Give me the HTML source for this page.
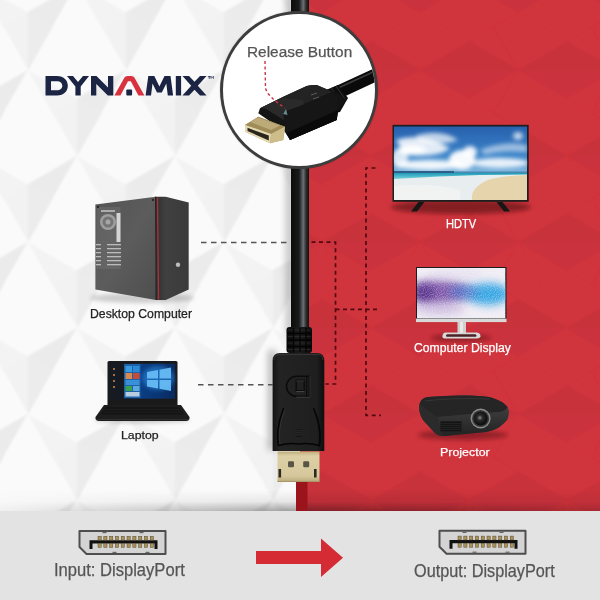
<!DOCTYPE html>
<html><head><meta charset="utf-8">
<style>
*{margin:0;padding:0;box-sizing:border-box}
html,body{width:600px;height:600px;overflow:hidden;background:#f7f7f8;font-family:"Liberation Sans",sans-serif}
.a{position:absolute}
.lbl{position:absolute;white-space:nowrap;line-height:1;transform-origin:0 0;-webkit-text-stroke:0.25px currentColor}
svg{position:absolute;left:0;top:0}
</style></head><body>
<!-- backgrounds -->
<svg width="600" height="600" viewBox="0 0 600 600">
  <defs>
    <linearGradient id="shW" x1="0" y1="0" x2="0" y2="1">
      <stop offset="0" stop-color="#000" stop-opacity="0"/>
      <stop offset="1" stop-color="#000" stop-opacity="0.16"/>
    </linearGradient>
    <linearGradient id="cab" x1="0" y1="0" x2="1" y2="0">
      <stop offset="0" stop-color="#0c0c0c"/>
      <stop offset="0.45" stop-color="#1a1a1a"/>
      <stop offset="0.68" stop-color="#6b6f73"/>
      <stop offset="0.85" stop-color="#2a2a2a"/>
      <stop offset="1" stop-color="#111"/>
    </linearGradient>
  </defs>
  <rect x="0" y="0" width="300" height="511" fill="#f7f7f8"/>
  <defs><clipPath id="clipW"><rect x="0" y="0" width="300" height="511"/></clipPath><filter id="pblur" x="0" y="0" width="100%" height="100%"><feGaussianBlur stdDeviation="1.2"/></filter><clipPath id="clipR"><rect x="300" y="0" width="300" height="511"/></clipPath></defs>
  <g id="patW" clip-path="url(#clipW)"><g filter="url(#pblur)"><path d="M-21 -16L28.0 -16.0L28.0 -44.3Z" fill="rgb(250,250,251)" stroke="rgb(250,250,251)" stroke-width="0.5"/><path d="M-21 -16L28.0 -44.3L3.5 -59.0Z" fill="rgb(250,250,251)" stroke="rgb(250,250,251)" stroke-width="0.5"/><path d="M-21 -16L3.5 -59.0L-21.0 -73.7Z" fill="rgb(236,236,237)" stroke="rgb(236,236,237)" stroke-width="0.5"/><path d="M-21 -16L-21.0 -73.7L-45.5 -59.0Z" fill="rgb(242,242,243)" stroke="rgb(242,242,243)" stroke-width="0.5"/><path d="M-21 -16L-45.5 -59.0L-70.0 -44.3Z" fill="rgb(250,250,251)" stroke="rgb(250,250,251)" stroke-width="0.5"/><path d="M-21 -16L-70.0 -44.3L-70.0 -16.0Z" fill="rgb(250,250,251)" stroke="rgb(250,250,251)" stroke-width="0.5"/><path d="M-21 -16L-70.0 -16.0L-70.0 12.3Z" fill="rgb(250,250,251)" stroke="rgb(250,250,251)" stroke-width="0.5"/><path d="M-21 -16L-70.0 12.3L-45.5 27.0Z" fill="rgb(235,235,236)" stroke="rgb(235,235,236)" stroke-width="0.5"/><path d="M-21 -16L-45.5 27.0L-21.0 41.7Z" fill="rgb(250,250,251)" stroke="rgb(250,250,251)" stroke-width="0.5"/><path d="M-21 -16L-21.0 41.7L3.5 27.0Z" fill="rgb(250,250,251)" stroke="rgb(250,250,251)" stroke-width="0.5"/><path d="M-21 -16L3.5 27.0L28.0 12.3Z" fill="rgb(243,243,244)" stroke="rgb(243,243,244)" stroke-width="0.5"/><path d="M-21 -16L28.0 12.3L28.0 -16.0Z" fill="rgb(250,250,251)" stroke="rgb(250,250,251)" stroke-width="0.5"/><path d="M77 -16L126.0 -16.0L126.0 -44.3Z" fill="rgb(250,250,251)" stroke="rgb(250,250,251)" stroke-width="0.5"/><path d="M77 -16L126.0 -44.3L101.5 -59.0Z" fill="rgb(250,250,251)" stroke="rgb(250,250,251)" stroke-width="0.5"/><path d="M77 -16L101.5 -59.0L77.0 -73.7Z" fill="rgb(236,236,237)" stroke="rgb(236,236,237)" stroke-width="0.5"/><path d="M77 -16L77.0 -73.7L52.5 -59.0Z" fill="rgb(242,242,243)" stroke="rgb(242,242,243)" stroke-width="0.5"/><path d="M77 -16L52.5 -59.0L28.0 -44.3Z" fill="rgb(250,250,251)" stroke="rgb(250,250,251)" stroke-width="0.5"/><path d="M77 -16L28.0 -44.3L28.0 -16.0Z" fill="rgb(250,250,251)" stroke="rgb(250,250,251)" stroke-width="0.5"/><path d="M77 -16L28.0 -16.0L28.0 12.3Z" fill="rgb(250,250,251)" stroke="rgb(250,250,251)" stroke-width="0.5"/><path d="M77 -16L28.0 12.3L52.5 27.0Z" fill="rgb(235,235,236)" stroke="rgb(235,235,236)" stroke-width="0.5"/><path d="M77 -16L52.5 27.0L77.0 41.7Z" fill="rgb(250,250,251)" stroke="rgb(250,250,251)" stroke-width="0.5"/><path d="M77 -16L77.0 41.7L101.5 27.0Z" fill="rgb(250,250,251)" stroke="rgb(250,250,251)" stroke-width="0.5"/><path d="M77 -16L101.5 27.0L126.0 12.3Z" fill="rgb(243,243,244)" stroke="rgb(243,243,244)" stroke-width="0.5"/><path d="M77 -16L126.0 12.3L126.0 -16.0Z" fill="rgb(250,250,251)" stroke="rgb(250,250,251)" stroke-width="0.5"/><path d="M175 -16L224.0 -16.0L224.0 -44.3Z" fill="rgb(250,250,251)" stroke="rgb(250,250,251)" stroke-width="0.5"/><path d="M175 -16L224.0 -44.3L199.5 -59.0Z" fill="rgb(250,250,251)" stroke="rgb(250,250,251)" stroke-width="0.5"/><path d="M175 -16L199.5 -59.0L175.0 -73.7Z" fill="rgb(236,236,237)" stroke="rgb(236,236,237)" stroke-width="0.5"/><path d="M175 -16L175.0 -73.7L150.5 -59.0Z" fill="rgb(242,242,243)" stroke="rgb(242,242,243)" stroke-width="0.5"/><path d="M175 -16L150.5 -59.0L126.0 -44.3Z" fill="rgb(250,250,251)" stroke="rgb(250,250,251)" stroke-width="0.5"/><path d="M175 -16L126.0 -44.3L126.0 -16.0Z" fill="rgb(250,250,251)" stroke="rgb(250,250,251)" stroke-width="0.5"/><path d="M175 -16L126.0 -16.0L126.0 12.3Z" fill="rgb(250,250,251)" stroke="rgb(250,250,251)" stroke-width="0.5"/><path d="M175 -16L126.0 12.3L150.5 27.0Z" fill="rgb(235,235,236)" stroke="rgb(235,235,236)" stroke-width="0.5"/><path d="M175 -16L150.5 27.0L175.0 41.7Z" fill="rgb(250,250,251)" stroke="rgb(250,250,251)" stroke-width="0.5"/><path d="M175 -16L175.0 41.7L199.5 27.0Z" fill="rgb(250,250,251)" stroke="rgb(250,250,251)" stroke-width="0.5"/><path d="M175 -16L199.5 27.0L224.0 12.3Z" fill="rgb(243,243,244)" stroke="rgb(243,243,244)" stroke-width="0.5"/><path d="M175 -16L224.0 12.3L224.0 -16.0Z" fill="rgb(250,250,251)" stroke="rgb(250,250,251)" stroke-width="0.5"/><path d="M273 -16L322.0 -16.0L322.0 -44.3Z" fill="rgb(250,250,251)" stroke="rgb(250,250,251)" stroke-width="0.5"/><path d="M273 -16L322.0 -44.3L297.5 -59.0Z" fill="rgb(250,250,251)" stroke="rgb(250,250,251)" stroke-width="0.5"/><path d="M273 -16L297.5 -59.0L273.0 -73.7Z" fill="rgb(236,236,237)" stroke="rgb(236,236,237)" stroke-width="0.5"/><path d="M273 -16L273.0 -73.7L248.5 -59.0Z" fill="rgb(242,242,243)" stroke="rgb(242,242,243)" stroke-width="0.5"/><path d="M273 -16L248.5 -59.0L224.0 -44.3Z" fill="rgb(250,250,251)" stroke="rgb(250,250,251)" stroke-width="0.5"/><path d="M273 -16L224.0 -44.3L224.0 -16.0Z" fill="rgb(250,250,251)" stroke="rgb(250,250,251)" stroke-width="0.5"/><path d="M273 -16L224.0 -16.0L224.0 12.3Z" fill="rgb(250,250,251)" stroke="rgb(250,250,251)" stroke-width="0.5"/><path d="M273 -16L224.0 12.3L248.5 27.0Z" fill="rgb(235,235,236)" stroke="rgb(235,235,236)" stroke-width="0.5"/><path d="M273 -16L248.5 27.0L273.0 41.7Z" fill="rgb(250,250,251)" stroke="rgb(250,250,251)" stroke-width="0.5"/><path d="M273 -16L273.0 41.7L297.5 27.0Z" fill="rgb(250,250,251)" stroke="rgb(250,250,251)" stroke-width="0.5"/><path d="M273 -16L297.5 27.0L322.0 12.3Z" fill="rgb(243,243,244)" stroke="rgb(243,243,244)" stroke-width="0.5"/><path d="M273 -16L322.0 12.3L322.0 -16.0Z" fill="rgb(250,250,251)" stroke="rgb(250,250,251)" stroke-width="0.5"/><path d="M371 -16L420.0 -16.0L420.0 -44.3Z" fill="rgb(250,250,251)" stroke="rgb(250,250,251)" stroke-width="0.5"/><path d="M371 -16L420.0 -44.3L395.5 -59.0Z" fill="rgb(250,250,251)" stroke="rgb(250,250,251)" stroke-width="0.5"/><path d="M371 -16L395.5 -59.0L371.0 -73.7Z" fill="rgb(236,236,237)" stroke="rgb(236,236,237)" stroke-width="0.5"/><path d="M371 -16L371.0 -73.7L346.5 -59.0Z" fill="rgb(242,242,243)" stroke="rgb(242,242,243)" stroke-width="0.5"/><path d="M371 -16L346.5 -59.0L322.0 -44.3Z" fill="rgb(250,250,251)" stroke="rgb(250,250,251)" stroke-width="0.5"/><path d="M371 -16L322.0 -44.3L322.0 -16.0Z" fill="rgb(250,250,251)" stroke="rgb(250,250,251)" stroke-width="0.5"/><path d="M371 -16L322.0 -16.0L322.0 12.3Z" fill="rgb(250,250,251)" stroke="rgb(250,250,251)" stroke-width="0.5"/><path d="M371 -16L322.0 12.3L346.5 27.0Z" fill="rgb(235,235,236)" stroke="rgb(235,235,236)" stroke-width="0.5"/><path d="M371 -16L346.5 27.0L371.0 41.7Z" fill="rgb(250,250,251)" stroke="rgb(250,250,251)" stroke-width="0.5"/><path d="M371 -16L371.0 41.7L395.5 27.0Z" fill="rgb(250,250,251)" stroke="rgb(250,250,251)" stroke-width="0.5"/><path d="M371 -16L395.5 27.0L420.0 12.3Z" fill="rgb(243,243,244)" stroke="rgb(243,243,244)" stroke-width="0.5"/><path d="M371 -16L420.0 12.3L420.0 -16.0Z" fill="rgb(250,250,251)" stroke="rgb(250,250,251)" stroke-width="0.5"/><path d="M469 -16L518.0 -16.0L518.0 -44.3Z" fill="rgb(250,250,251)" stroke="rgb(250,250,251)" stroke-width="0.5"/><path d="M469 -16L518.0 -44.3L493.5 -59.0Z" fill="rgb(250,250,251)" stroke="rgb(250,250,251)" stroke-width="0.5"/><path d="M469 -16L493.5 -59.0L469.0 -73.7Z" fill="rgb(236,236,237)" stroke="rgb(236,236,237)" stroke-width="0.5"/><path d="M469 -16L469.0 -73.7L444.5 -59.0Z" fill="rgb(242,242,243)" stroke="rgb(242,242,243)" stroke-width="0.5"/><path d="M469 -16L444.5 -59.0L420.0 -44.3Z" fill="rgb(250,250,251)" stroke="rgb(250,250,251)" stroke-width="0.5"/><path d="M469 -16L420.0 -44.3L420.0 -16.0Z" fill="rgb(250,250,251)" stroke="rgb(250,250,251)" stroke-width="0.5"/><path d="M469 -16L420.0 -16.0L420.0 12.3Z" fill="rgb(250,250,251)" stroke="rgb(250,250,251)" stroke-width="0.5"/><path d="M469 -16L420.0 12.3L444.5 27.0Z" fill="rgb(235,235,236)" stroke="rgb(235,235,236)" stroke-width="0.5"/><path d="M469 -16L444.5 27.0L469.0 41.7Z" fill="rgb(250,250,251)" stroke="rgb(250,250,251)" stroke-width="0.5"/><path d="M469 -16L469.0 41.7L493.5 27.0Z" fill="rgb(250,250,251)" stroke="rgb(250,250,251)" stroke-width="0.5"/><path d="M469 -16L493.5 27.0L518.0 12.3Z" fill="rgb(243,243,244)" stroke="rgb(243,243,244)" stroke-width="0.5"/><path d="M469 -16L518.0 12.3L518.0 -16.0Z" fill="rgb(250,250,251)" stroke="rgb(250,250,251)" stroke-width="0.5"/><path d="M567 -16L616.0 -16.0L616.0 -44.3Z" fill="rgb(250,250,251)" stroke="rgb(250,250,251)" stroke-width="0.5"/><path d="M567 -16L616.0 -44.3L591.5 -59.0Z" fill="rgb(250,250,251)" stroke="rgb(250,250,251)" stroke-width="0.5"/><path d="M567 -16L591.5 -59.0L567.0 -73.7Z" fill="rgb(236,236,237)" stroke="rgb(236,236,237)" stroke-width="0.5"/><path d="M567 -16L567.0 -73.7L542.5 -59.0Z" fill="rgb(242,242,243)" stroke="rgb(242,242,243)" stroke-width="0.5"/><path d="M567 -16L542.5 -59.0L518.0 -44.3Z" fill="rgb(250,250,251)" stroke="rgb(250,250,251)" stroke-width="0.5"/><path d="M567 -16L518.0 -44.3L518.0 -16.0Z" fill="rgb(250,250,251)" stroke="rgb(250,250,251)" stroke-width="0.5"/><path d="M567 -16L518.0 -16.0L518.0 12.3Z" fill="rgb(250,250,251)" stroke="rgb(250,250,251)" stroke-width="0.5"/><path d="M567 -16L518.0 12.3L542.5 27.0Z" fill="rgb(235,235,236)" stroke="rgb(235,235,236)" stroke-width="0.5"/><path d="M567 -16L542.5 27.0L567.0 41.7Z" fill="rgb(250,250,251)" stroke="rgb(250,250,251)" stroke-width="0.5"/><path d="M567 -16L567.0 41.7L591.5 27.0Z" fill="rgb(250,250,251)" stroke="rgb(250,250,251)" stroke-width="0.5"/><path d="M567 -16L591.5 27.0L616.0 12.3Z" fill="rgb(243,243,244)" stroke="rgb(243,243,244)" stroke-width="0.5"/><path d="M567 -16L616.0 12.3L616.0 -16.0Z" fill="rgb(250,250,251)" stroke="rgb(250,250,251)" stroke-width="0.5"/><path d="M665 -16L714.0 -16.0L714.0 -44.3Z" fill="rgb(250,250,251)" stroke="rgb(250,250,251)" stroke-width="0.5"/><path d="M665 -16L714.0 -44.3L689.5 -59.0Z" fill="rgb(250,250,251)" stroke="rgb(250,250,251)" stroke-width="0.5"/><path d="M665 -16L689.5 -59.0L665.0 -73.7Z" fill="rgb(236,236,237)" stroke="rgb(236,236,237)" stroke-width="0.5"/><path d="M665 -16L665.0 -73.7L640.5 -59.0Z" fill="rgb(242,242,243)" stroke="rgb(242,242,243)" stroke-width="0.5"/><path d="M665 -16L640.5 -59.0L616.0 -44.3Z" fill="rgb(250,250,251)" stroke="rgb(250,250,251)" stroke-width="0.5"/><path d="M665 -16L616.0 -44.3L616.0 -16.0Z" fill="rgb(250,250,251)" stroke="rgb(250,250,251)" stroke-width="0.5"/><path d="M665 -16L616.0 -16.0L616.0 12.3Z" fill="rgb(250,250,251)" stroke="rgb(250,250,251)" stroke-width="0.5"/><path d="M665 -16L616.0 12.3L640.5 27.0Z" fill="rgb(235,235,236)" stroke="rgb(235,235,236)" stroke-width="0.5"/><path d="M665 -16L640.5 27.0L665.0 41.7Z" fill="rgb(250,250,251)" stroke="rgb(250,250,251)" stroke-width="0.5"/><path d="M665 -16L665.0 41.7L689.5 27.0Z" fill="rgb(250,250,251)" stroke="rgb(250,250,251)" stroke-width="0.5"/><path d="M665 -16L689.5 27.0L714.0 12.3Z" fill="rgb(243,243,244)" stroke="rgb(243,243,244)" stroke-width="0.5"/><path d="M665 -16L714.0 12.3L714.0 -16.0Z" fill="rgb(250,250,251)" stroke="rgb(250,250,251)" stroke-width="0.5"/><path d="M763 -16L812.0 -16.0L812.0 -44.3Z" fill="rgb(250,250,251)" stroke="rgb(250,250,251)" stroke-width="0.5"/><path d="M763 -16L812.0 -44.3L787.5 -59.0Z" fill="rgb(250,250,251)" stroke="rgb(250,250,251)" stroke-width="0.5"/><path d="M763 -16L787.5 -59.0L763.0 -73.7Z" fill="rgb(236,236,237)" stroke="rgb(236,236,237)" stroke-width="0.5"/><path d="M763 -16L763.0 -73.7L738.5 -59.0Z" fill="rgb(242,242,243)" stroke="rgb(242,242,243)" stroke-width="0.5"/><path d="M763 -16L738.5 -59.0L714.0 -44.3Z" fill="rgb(250,250,251)" stroke="rgb(250,250,251)" stroke-width="0.5"/><path d="M763 -16L714.0 -44.3L714.0 -16.0Z" fill="rgb(250,250,251)" stroke="rgb(250,250,251)" stroke-width="0.5"/><path d="M763 -16L714.0 -16.0L714.0 12.3Z" fill="rgb(250,250,251)" stroke="rgb(250,250,251)" stroke-width="0.5"/><path d="M763 -16L714.0 12.3L738.5 27.0Z" fill="rgb(235,235,236)" stroke="rgb(235,235,236)" stroke-width="0.5"/><path d="M763 -16L738.5 27.0L763.0 41.7Z" fill="rgb(250,250,251)" stroke="rgb(250,250,251)" stroke-width="0.5"/><path d="M763 -16L763.0 41.7L787.5 27.0Z" fill="rgb(250,250,251)" stroke="rgb(250,250,251)" stroke-width="0.5"/><path d="M763 -16L787.5 27.0L812.0 12.3Z" fill="rgb(243,243,244)" stroke="rgb(243,243,244)" stroke-width="0.5"/><path d="M763 -16L812.0 12.3L812.0 -16.0Z" fill="rgb(250,250,251)" stroke="rgb(250,250,251)" stroke-width="0.5"/><path d="M-70 70L-21.0 70.0L-21.0 41.7Z" fill="rgb(250,250,251)" stroke="rgb(250,250,251)" stroke-width="0.5"/><path d="M-70 70L-21.0 41.7L-45.5 27.0Z" fill="rgb(250,250,251)" stroke="rgb(250,250,251)" stroke-width="0.5"/><path d="M-70 70L-45.5 27.0L-70.0 12.3Z" fill="rgb(236,236,237)" stroke="rgb(236,236,237)" stroke-width="0.5"/><path d="M-70 70L-70.0 12.3L-94.5 27.0Z" fill="rgb(242,242,243)" stroke="rgb(242,242,243)" stroke-width="0.5"/><path d="M-70 70L-94.5 27.0L-119.0 41.7Z" fill="rgb(250,250,251)" stroke="rgb(250,250,251)" stroke-width="0.5"/><path d="M-70 70L-119.0 41.7L-119.0 70.0Z" fill="rgb(250,250,251)" stroke="rgb(250,250,251)" stroke-width="0.5"/><path d="M-70 70L-119.0 70.0L-119.0 98.3Z" fill="rgb(250,250,251)" stroke="rgb(250,250,251)" stroke-width="0.5"/><path d="M-70 70L-119.0 98.3L-94.5 113.0Z" fill="rgb(235,235,236)" stroke="rgb(235,235,236)" stroke-width="0.5"/><path d="M-70 70L-94.5 113.0L-70.0 127.7Z" fill="rgb(250,250,251)" stroke="rgb(250,250,251)" stroke-width="0.5"/><path d="M-70 70L-70.0 127.7L-45.5 113.0Z" fill="rgb(250,250,251)" stroke="rgb(250,250,251)" stroke-width="0.5"/><path d="M-70 70L-45.5 113.0L-21.0 98.3Z" fill="rgb(243,243,244)" stroke="rgb(243,243,244)" stroke-width="0.5"/><path d="M-70 70L-21.0 98.3L-21.0 70.0Z" fill="rgb(250,250,251)" stroke="rgb(250,250,251)" stroke-width="0.5"/><path d="M28 70L77.0 70.0L77.0 41.7Z" fill="rgb(250,250,251)" stroke="rgb(250,250,251)" stroke-width="0.5"/><path d="M28 70L77.0 41.7L52.5 27.0Z" fill="rgb(250,250,251)" stroke="rgb(250,250,251)" stroke-width="0.5"/><path d="M28 70L52.5 27.0L28.0 12.3Z" fill="rgb(236,236,237)" stroke="rgb(236,236,237)" stroke-width="0.5"/><path d="M28 70L28.0 12.3L3.5 27.0Z" fill="rgb(242,242,243)" stroke="rgb(242,242,243)" stroke-width="0.5"/><path d="M28 70L3.5 27.0L-21.0 41.7Z" fill="rgb(250,250,251)" stroke="rgb(250,250,251)" stroke-width="0.5"/><path d="M28 70L-21.0 41.7L-21.0 70.0Z" fill="rgb(250,250,251)" stroke="rgb(250,250,251)" stroke-width="0.5"/><path d="M28 70L-21.0 70.0L-21.0 98.3Z" fill="rgb(250,250,251)" stroke="rgb(250,250,251)" stroke-width="0.5"/><path d="M28 70L-21.0 98.3L3.5 113.0Z" fill="rgb(235,235,236)" stroke="rgb(235,235,236)" stroke-width="0.5"/><path d="M28 70L3.5 113.0L28.0 127.7Z" fill="rgb(250,250,251)" stroke="rgb(250,250,251)" stroke-width="0.5"/><path d="M28 70L28.0 127.7L52.5 113.0Z" fill="rgb(250,250,251)" stroke="rgb(250,250,251)" stroke-width="0.5"/><path d="M28 70L52.5 113.0L77.0 98.3Z" fill="rgb(243,243,244)" stroke="rgb(243,243,244)" stroke-width="0.5"/><path d="M28 70L77.0 98.3L77.0 70.0Z" fill="rgb(250,250,251)" stroke="rgb(250,250,251)" stroke-width="0.5"/><path d="M126 70L175.0 70.0L175.0 41.7Z" fill="rgb(250,250,251)" stroke="rgb(250,250,251)" stroke-width="0.5"/><path d="M126 70L175.0 41.7L150.5 27.0Z" fill="rgb(250,250,251)" stroke="rgb(250,250,251)" stroke-width="0.5"/><path d="M126 70L150.5 27.0L126.0 12.3Z" fill="rgb(236,236,237)" stroke="rgb(236,236,237)" stroke-width="0.5"/><path d="M126 70L126.0 12.3L101.5 27.0Z" fill="rgb(242,242,243)" stroke="rgb(242,242,243)" stroke-width="0.5"/><path d="M126 70L101.5 27.0L77.0 41.7Z" fill="rgb(250,250,251)" stroke="rgb(250,250,251)" stroke-width="0.5"/><path d="M126 70L77.0 41.7L77.0 70.0Z" fill="rgb(250,250,251)" stroke="rgb(250,250,251)" stroke-width="0.5"/><path d="M126 70L77.0 70.0L77.0 98.3Z" fill="rgb(250,250,251)" stroke="rgb(250,250,251)" stroke-width="0.5"/><path d="M126 70L77.0 98.3L101.5 113.0Z" fill="rgb(235,235,236)" stroke="rgb(235,235,236)" stroke-width="0.5"/><path d="M126 70L101.5 113.0L126.0 127.7Z" fill="rgb(250,250,251)" stroke="rgb(250,250,251)" stroke-width="0.5"/><path d="M126 70L126.0 127.7L150.5 113.0Z" fill="rgb(250,250,251)" stroke="rgb(250,250,251)" stroke-width="0.5"/><path d="M126 70L150.5 113.0L175.0 98.3Z" fill="rgb(243,243,244)" stroke="rgb(243,243,244)" stroke-width="0.5"/><path d="M126 70L175.0 98.3L175.0 70.0Z" fill="rgb(250,250,251)" stroke="rgb(250,250,251)" stroke-width="0.5"/><path d="M224 70L273.0 70.0L273.0 41.7Z" fill="rgb(250,250,251)" stroke="rgb(250,250,251)" stroke-width="0.5"/><path d="M224 70L273.0 41.7L248.5 27.0Z" fill="rgb(250,250,251)" stroke="rgb(250,250,251)" stroke-width="0.5"/><path d="M224 70L248.5 27.0L224.0 12.3Z" fill="rgb(236,236,237)" stroke="rgb(236,236,237)" stroke-width="0.5"/><path d="M224 70L224.0 12.3L199.5 27.0Z" fill="rgb(242,242,243)" stroke="rgb(242,242,243)" stroke-width="0.5"/><path d="M224 70L199.5 27.0L175.0 41.7Z" fill="rgb(250,250,251)" stroke="rgb(250,250,251)" stroke-width="0.5"/><path d="M224 70L175.0 41.7L175.0 70.0Z" fill="rgb(250,250,251)" stroke="rgb(250,250,251)" stroke-width="0.5"/><path d="M224 70L175.0 70.0L175.0 98.3Z" fill="rgb(250,250,251)" stroke="rgb(250,250,251)" stroke-width="0.5"/><path d="M224 70L175.0 98.3L199.5 113.0Z" fill="rgb(235,235,236)" stroke="rgb(235,235,236)" stroke-width="0.5"/><path d="M224 70L199.5 113.0L224.0 127.7Z" fill="rgb(250,250,251)" stroke="rgb(250,250,251)" stroke-width="0.5"/><path d="M224 70L224.0 127.7L248.5 113.0Z" fill="rgb(250,250,251)" stroke="rgb(250,250,251)" stroke-width="0.5"/><path d="M224 70L248.5 113.0L273.0 98.3Z" fill="rgb(243,243,244)" stroke="rgb(243,243,244)" stroke-width="0.5"/><path d="M224 70L273.0 98.3L273.0 70.0Z" fill="rgb(250,250,251)" stroke="rgb(250,250,251)" stroke-width="0.5"/><path d="M322 70L371.0 70.0L371.0 41.7Z" fill="rgb(250,250,251)" stroke="rgb(250,250,251)" stroke-width="0.5"/><path d="M322 70L371.0 41.7L346.5 27.0Z" fill="rgb(250,250,251)" stroke="rgb(250,250,251)" stroke-width="0.5"/><path d="M322 70L346.5 27.0L322.0 12.3Z" fill="rgb(236,236,237)" stroke="rgb(236,236,237)" stroke-width="0.5"/><path d="M322 70L322.0 12.3L297.5 27.0Z" fill="rgb(242,242,243)" stroke="rgb(242,242,243)" stroke-width="0.5"/><path d="M322 70L297.5 27.0L273.0 41.7Z" fill="rgb(250,250,251)" stroke="rgb(250,250,251)" stroke-width="0.5"/><path d="M322 70L273.0 41.7L273.0 70.0Z" fill="rgb(250,250,251)" stroke="rgb(250,250,251)" stroke-width="0.5"/><path d="M322 70L273.0 70.0L273.0 98.3Z" fill="rgb(250,250,251)" stroke="rgb(250,250,251)" stroke-width="0.5"/><path d="M322 70L273.0 98.3L297.5 113.0Z" fill="rgb(235,235,236)" stroke="rgb(235,235,236)" stroke-width="0.5"/><path d="M322 70L297.5 113.0L322.0 127.7Z" fill="rgb(250,250,251)" stroke="rgb(250,250,251)" stroke-width="0.5"/><path d="M322 70L322.0 127.7L346.5 113.0Z" fill="rgb(250,250,251)" stroke="rgb(250,250,251)" stroke-width="0.5"/><path d="M322 70L346.5 113.0L371.0 98.3Z" fill="rgb(243,243,244)" stroke="rgb(243,243,244)" stroke-width="0.5"/><path d="M322 70L371.0 98.3L371.0 70.0Z" fill="rgb(250,250,251)" stroke="rgb(250,250,251)" stroke-width="0.5"/><path d="M420 70L469.0 70.0L469.0 41.7Z" fill="rgb(250,250,251)" stroke="rgb(250,250,251)" stroke-width="0.5"/><path d="M420 70L469.0 41.7L444.5 27.0Z" fill="rgb(250,250,251)" stroke="rgb(250,250,251)" stroke-width="0.5"/><path d="M420 70L444.5 27.0L420.0 12.3Z" fill="rgb(236,236,237)" stroke="rgb(236,236,237)" stroke-width="0.5"/><path d="M420 70L420.0 12.3L395.5 27.0Z" fill="rgb(242,242,243)" stroke="rgb(242,242,243)" stroke-width="0.5"/><path d="M420 70L395.5 27.0L371.0 41.7Z" fill="rgb(250,250,251)" stroke="rgb(250,250,251)" stroke-width="0.5"/><path d="M420 70L371.0 41.7L371.0 70.0Z" fill="rgb(250,250,251)" stroke="rgb(250,250,251)" stroke-width="0.5"/><path d="M420 70L371.0 70.0L371.0 98.3Z" fill="rgb(250,250,251)" stroke="rgb(250,250,251)" stroke-width="0.5"/><path d="M420 70L371.0 98.3L395.5 113.0Z" fill="rgb(235,235,236)" stroke="rgb(235,235,236)" stroke-width="0.5"/><path d="M420 70L395.5 113.0L420.0 127.7Z" fill="rgb(250,250,251)" stroke="rgb(250,250,251)" stroke-width="0.5"/><path d="M420 70L420.0 127.7L444.5 113.0Z" fill="rgb(250,250,251)" stroke="rgb(250,250,251)" stroke-width="0.5"/><path d="M420 70L444.5 113.0L469.0 98.3Z" fill="rgb(243,243,244)" stroke="rgb(243,243,244)" stroke-width="0.5"/><path d="M420 70L469.0 98.3L469.0 70.0Z" fill="rgb(250,250,251)" stroke="rgb(250,250,251)" stroke-width="0.5"/><path d="M518 70L567.0 70.0L567.0 41.7Z" fill="rgb(250,250,251)" stroke="rgb(250,250,251)" stroke-width="0.5"/><path d="M518 70L567.0 41.7L542.5 27.0Z" fill="rgb(250,250,251)" stroke="rgb(250,250,251)" stroke-width="0.5"/><path d="M518 70L542.5 27.0L518.0 12.3Z" fill="rgb(236,236,237)" stroke="rgb(236,236,237)" stroke-width="0.5"/><path d="M518 70L518.0 12.3L493.5 27.0Z" fill="rgb(242,242,243)" stroke="rgb(242,242,243)" stroke-width="0.5"/><path d="M518 70L493.5 27.0L469.0 41.7Z" fill="rgb(250,250,251)" stroke="rgb(250,250,251)" stroke-width="0.5"/><path d="M518 70L469.0 41.7L469.0 70.0Z" fill="rgb(250,250,251)" stroke="rgb(250,250,251)" stroke-width="0.5"/><path d="M518 70L469.0 70.0L469.0 98.3Z" fill="rgb(250,250,251)" stroke="rgb(250,250,251)" stroke-width="0.5"/><path d="M518 70L469.0 98.3L493.5 113.0Z" fill="rgb(235,235,236)" stroke="rgb(235,235,236)" stroke-width="0.5"/><path d="M518 70L493.5 113.0L518.0 127.7Z" fill="rgb(250,250,251)" stroke="rgb(250,250,251)" stroke-width="0.5"/><path d="M518 70L518.0 127.7L542.5 113.0Z" fill="rgb(250,250,251)" stroke="rgb(250,250,251)" stroke-width="0.5"/><path d="M518 70L542.5 113.0L567.0 98.3Z" fill="rgb(243,243,244)" stroke="rgb(243,243,244)" stroke-width="0.5"/><path d="M518 70L567.0 98.3L567.0 70.0Z" fill="rgb(250,250,251)" stroke="rgb(250,250,251)" stroke-width="0.5"/><path d="M616 70L665.0 70.0L665.0 41.7Z" fill="rgb(250,250,251)" stroke="rgb(250,250,251)" stroke-width="0.5"/><path d="M616 70L665.0 41.7L640.5 27.0Z" fill="rgb(250,250,251)" stroke="rgb(250,250,251)" stroke-width="0.5"/><path d="M616 70L640.5 27.0L616.0 12.3Z" fill="rgb(236,236,237)" stroke="rgb(236,236,237)" stroke-width="0.5"/><path d="M616 70L616.0 12.3L591.5 27.0Z" fill="rgb(242,242,243)" stroke="rgb(242,242,243)" stroke-width="0.5"/><path d="M616 70L591.5 27.0L567.0 41.7Z" fill="rgb(250,250,251)" stroke="rgb(250,250,251)" stroke-width="0.5"/><path d="M616 70L567.0 41.7L567.0 70.0Z" fill="rgb(250,250,251)" stroke="rgb(250,250,251)" stroke-width="0.5"/><path d="M616 70L567.0 70.0L567.0 98.3Z" fill="rgb(250,250,251)" stroke="rgb(250,250,251)" stroke-width="0.5"/><path d="M616 70L567.0 98.3L591.5 113.0Z" fill="rgb(235,235,236)" stroke="rgb(235,235,236)" stroke-width="0.5"/><path d="M616 70L591.5 113.0L616.0 127.7Z" fill="rgb(250,250,251)" stroke="rgb(250,250,251)" stroke-width="0.5"/><path d="M616 70L616.0 127.7L640.5 113.0Z" fill="rgb(250,250,251)" stroke="rgb(250,250,251)" stroke-width="0.5"/><path d="M616 70L640.5 113.0L665.0 98.3Z" fill="rgb(243,243,244)" stroke="rgb(243,243,244)" stroke-width="0.5"/><path d="M616 70L665.0 98.3L665.0 70.0Z" fill="rgb(250,250,251)" stroke="rgb(250,250,251)" stroke-width="0.5"/><path d="M714 70L763.0 70.0L763.0 41.7Z" fill="rgb(250,250,251)" stroke="rgb(250,250,251)" stroke-width="0.5"/><path d="M714 70L763.0 41.7L738.5 27.0Z" fill="rgb(250,250,251)" stroke="rgb(250,250,251)" stroke-width="0.5"/><path d="M714 70L738.5 27.0L714.0 12.3Z" fill="rgb(236,236,237)" stroke="rgb(236,236,237)" stroke-width="0.5"/><path d="M714 70L714.0 12.3L689.5 27.0Z" fill="rgb(242,242,243)" stroke="rgb(242,242,243)" stroke-width="0.5"/><path d="M714 70L689.5 27.0L665.0 41.7Z" fill="rgb(250,250,251)" stroke="rgb(250,250,251)" stroke-width="0.5"/><path d="M714 70L665.0 41.7L665.0 70.0Z" fill="rgb(250,250,251)" stroke="rgb(250,250,251)" stroke-width="0.5"/><path d="M714 70L665.0 70.0L665.0 98.3Z" fill="rgb(250,250,251)" stroke="rgb(250,250,251)" stroke-width="0.5"/><path d="M714 70L665.0 98.3L689.5 113.0Z" fill="rgb(235,235,236)" stroke="rgb(235,235,236)" stroke-width="0.5"/><path d="M714 70L689.5 113.0L714.0 127.7Z" fill="rgb(250,250,251)" stroke="rgb(250,250,251)" stroke-width="0.5"/><path d="M714 70L714.0 127.7L738.5 113.0Z" fill="rgb(250,250,251)" stroke="rgb(250,250,251)" stroke-width="0.5"/><path d="M714 70L738.5 113.0L763.0 98.3Z" fill="rgb(243,243,244)" stroke="rgb(243,243,244)" stroke-width="0.5"/><path d="M714 70L763.0 98.3L763.0 70.0Z" fill="rgb(250,250,251)" stroke="rgb(250,250,251)" stroke-width="0.5"/><path d="M-21 156L28.0 156.0L28.0 127.7Z" fill="rgb(250,250,251)" stroke="rgb(250,250,251)" stroke-width="0.5"/><path d="M-21 156L28.0 127.7L3.5 113.0Z" fill="rgb(250,250,251)" stroke="rgb(250,250,251)" stroke-width="0.5"/><path d="M-21 156L3.5 113.0L-21.0 98.3Z" fill="rgb(236,236,237)" stroke="rgb(236,236,237)" stroke-width="0.5"/><path d="M-21 156L-21.0 98.3L-45.5 113.0Z" fill="rgb(242,242,243)" stroke="rgb(242,242,243)" stroke-width="0.5"/><path d="M-21 156L-45.5 113.0L-70.0 127.7Z" fill="rgb(250,250,251)" stroke="rgb(250,250,251)" stroke-width="0.5"/><path d="M-21 156L-70.0 127.7L-70.0 156.0Z" fill="rgb(250,250,251)" stroke="rgb(250,250,251)" stroke-width="0.5"/><path d="M-21 156L-70.0 156.0L-70.0 184.3Z" fill="rgb(250,250,251)" stroke="rgb(250,250,251)" stroke-width="0.5"/><path d="M-21 156L-70.0 184.3L-45.5 199.0Z" fill="rgb(235,235,236)" stroke="rgb(235,235,236)" stroke-width="0.5"/><path d="M-21 156L-45.5 199.0L-21.0 213.7Z" fill="rgb(250,250,251)" stroke="rgb(250,250,251)" stroke-width="0.5"/><path d="M-21 156L-21.0 213.7L3.5 199.0Z" fill="rgb(250,250,251)" stroke="rgb(250,250,251)" stroke-width="0.5"/><path d="M-21 156L3.5 199.0L28.0 184.3Z" fill="rgb(243,243,244)" stroke="rgb(243,243,244)" stroke-width="0.5"/><path d="M-21 156L28.0 184.3L28.0 156.0Z" fill="rgb(250,250,251)" stroke="rgb(250,250,251)" stroke-width="0.5"/><path d="M77 156L126.0 156.0L126.0 127.7Z" fill="rgb(250,250,251)" stroke="rgb(250,250,251)" stroke-width="0.5"/><path d="M77 156L126.0 127.7L101.5 113.0Z" fill="rgb(250,250,251)" stroke="rgb(250,250,251)" stroke-width="0.5"/><path d="M77 156L101.5 113.0L77.0 98.3Z" fill="rgb(236,236,237)" stroke="rgb(236,236,237)" stroke-width="0.5"/><path d="M77 156L77.0 98.3L52.5 113.0Z" fill="rgb(242,242,243)" stroke="rgb(242,242,243)" stroke-width="0.5"/><path d="M77 156L52.5 113.0L28.0 127.7Z" fill="rgb(250,250,251)" stroke="rgb(250,250,251)" stroke-width="0.5"/><path d="M77 156L28.0 127.7L28.0 156.0Z" fill="rgb(250,250,251)" stroke="rgb(250,250,251)" stroke-width="0.5"/><path d="M77 156L28.0 156.0L28.0 184.3Z" fill="rgb(250,250,251)" stroke="rgb(250,250,251)" stroke-width="0.5"/><path d="M77 156L28.0 184.3L52.5 199.0Z" fill="rgb(235,235,236)" stroke="rgb(235,235,236)" stroke-width="0.5"/><path d="M77 156L52.5 199.0L77.0 213.7Z" fill="rgb(250,250,251)" stroke="rgb(250,250,251)" stroke-width="0.5"/><path d="M77 156L77.0 213.7L101.5 199.0Z" fill="rgb(250,250,251)" stroke="rgb(250,250,251)" stroke-width="0.5"/><path d="M77 156L101.5 199.0L126.0 184.3Z" fill="rgb(243,243,244)" stroke="rgb(243,243,244)" stroke-width="0.5"/><path d="M77 156L126.0 184.3L126.0 156.0Z" fill="rgb(250,250,251)" stroke="rgb(250,250,251)" stroke-width="0.5"/><path d="M175 156L224.0 156.0L224.0 127.7Z" fill="rgb(250,250,251)" stroke="rgb(250,250,251)" stroke-width="0.5"/><path d="M175 156L224.0 127.7L199.5 113.0Z" fill="rgb(250,250,251)" stroke="rgb(250,250,251)" stroke-width="0.5"/><path d="M175 156L199.5 113.0L175.0 98.3Z" fill="rgb(236,236,237)" stroke="rgb(236,236,237)" stroke-width="0.5"/><path d="M175 156L175.0 98.3L150.5 113.0Z" fill="rgb(242,242,243)" stroke="rgb(242,242,243)" stroke-width="0.5"/><path d="M175 156L150.5 113.0L126.0 127.7Z" fill="rgb(250,250,251)" stroke="rgb(250,250,251)" stroke-width="0.5"/><path d="M175 156L126.0 127.7L126.0 156.0Z" fill="rgb(250,250,251)" stroke="rgb(250,250,251)" stroke-width="0.5"/><path d="M175 156L126.0 156.0L126.0 184.3Z" fill="rgb(250,250,251)" stroke="rgb(250,250,251)" stroke-width="0.5"/><path d="M175 156L126.0 184.3L150.5 199.0Z" fill="rgb(235,235,236)" stroke="rgb(235,235,236)" stroke-width="0.5"/><path d="M175 156L150.5 199.0L175.0 213.7Z" fill="rgb(250,250,251)" stroke="rgb(250,250,251)" stroke-width="0.5"/><path d="M175 156L175.0 213.7L199.5 199.0Z" fill="rgb(250,250,251)" stroke="rgb(250,250,251)" stroke-width="0.5"/><path d="M175 156L199.5 199.0L224.0 184.3Z" fill="rgb(243,243,244)" stroke="rgb(243,243,244)" stroke-width="0.5"/><path d="M175 156L224.0 184.3L224.0 156.0Z" fill="rgb(250,250,251)" stroke="rgb(250,250,251)" stroke-width="0.5"/><path d="M273 156L322.0 156.0L322.0 127.7Z" fill="rgb(250,250,251)" stroke="rgb(250,250,251)" stroke-width="0.5"/><path d="M273 156L322.0 127.7L297.5 113.0Z" fill="rgb(250,250,251)" stroke="rgb(250,250,251)" stroke-width="0.5"/><path d="M273 156L297.5 113.0L273.0 98.3Z" fill="rgb(236,236,237)" stroke="rgb(236,236,237)" stroke-width="0.5"/><path d="M273 156L273.0 98.3L248.5 113.0Z" fill="rgb(242,242,243)" stroke="rgb(242,242,243)" stroke-width="0.5"/><path d="M273 156L248.5 113.0L224.0 127.7Z" fill="rgb(250,250,251)" stroke="rgb(250,250,251)" stroke-width="0.5"/><path d="M273 156L224.0 127.7L224.0 156.0Z" fill="rgb(250,250,251)" stroke="rgb(250,250,251)" stroke-width="0.5"/><path d="M273 156L224.0 156.0L224.0 184.3Z" fill="rgb(250,250,251)" stroke="rgb(250,250,251)" stroke-width="0.5"/><path d="M273 156L224.0 184.3L248.5 199.0Z" fill="rgb(235,235,236)" stroke="rgb(235,235,236)" stroke-width="0.5"/><path d="M273 156L248.5 199.0L273.0 213.7Z" fill="rgb(250,250,251)" stroke="rgb(250,250,251)" stroke-width="0.5"/><path d="M273 156L273.0 213.7L297.5 199.0Z" fill="rgb(250,250,251)" stroke="rgb(250,250,251)" stroke-width="0.5"/><path d="M273 156L297.5 199.0L322.0 184.3Z" fill="rgb(243,243,244)" stroke="rgb(243,243,244)" stroke-width="0.5"/><path d="M273 156L322.0 184.3L322.0 156.0Z" fill="rgb(250,250,251)" stroke="rgb(250,250,251)" stroke-width="0.5"/><path d="M371 156L420.0 156.0L420.0 127.7Z" fill="rgb(250,250,251)" stroke="rgb(250,250,251)" stroke-width="0.5"/><path d="M371 156L420.0 127.7L395.5 113.0Z" fill="rgb(250,250,251)" stroke="rgb(250,250,251)" stroke-width="0.5"/><path d="M371 156L395.5 113.0L371.0 98.3Z" fill="rgb(236,236,237)" stroke="rgb(236,236,237)" stroke-width="0.5"/><path d="M371 156L371.0 98.3L346.5 113.0Z" fill="rgb(242,242,243)" stroke="rgb(242,242,243)" stroke-width="0.5"/><path d="M371 156L346.5 113.0L322.0 127.7Z" fill="rgb(250,250,251)" stroke="rgb(250,250,251)" stroke-width="0.5"/><path d="M371 156L322.0 127.7L322.0 156.0Z" fill="rgb(250,250,251)" stroke="rgb(250,250,251)" stroke-width="0.5"/><path d="M371 156L322.0 156.0L322.0 184.3Z" fill="rgb(250,250,251)" stroke="rgb(250,250,251)" stroke-width="0.5"/><path d="M371 156L322.0 184.3L346.5 199.0Z" fill="rgb(235,235,236)" stroke="rgb(235,235,236)" stroke-width="0.5"/><path d="M371 156L346.5 199.0L371.0 213.7Z" fill="rgb(250,250,251)" stroke="rgb(250,250,251)" stroke-width="0.5"/><path d="M371 156L371.0 213.7L395.5 199.0Z" fill="rgb(250,250,251)" stroke="rgb(250,250,251)" stroke-width="0.5"/><path d="M371 156L395.5 199.0L420.0 184.3Z" fill="rgb(243,243,244)" stroke="rgb(243,243,244)" stroke-width="0.5"/><path d="M371 156L420.0 184.3L420.0 156.0Z" fill="rgb(250,250,251)" stroke="rgb(250,250,251)" stroke-width="0.5"/><path d="M469 156L518.0 156.0L518.0 127.7Z" fill="rgb(250,250,251)" stroke="rgb(250,250,251)" stroke-width="0.5"/><path d="M469 156L518.0 127.7L493.5 113.0Z" fill="rgb(250,250,251)" stroke="rgb(250,250,251)" stroke-width="0.5"/><path d="M469 156L493.5 113.0L469.0 98.3Z" fill="rgb(236,236,237)" stroke="rgb(236,236,237)" stroke-width="0.5"/><path d="M469 156L469.0 98.3L444.5 113.0Z" fill="rgb(242,242,243)" stroke="rgb(242,242,243)" stroke-width="0.5"/><path d="M469 156L444.5 113.0L420.0 127.7Z" fill="rgb(250,250,251)" stroke="rgb(250,250,251)" stroke-width="0.5"/><path d="M469 156L420.0 127.7L420.0 156.0Z" fill="rgb(250,250,251)" stroke="rgb(250,250,251)" stroke-width="0.5"/><path d="M469 156L420.0 156.0L420.0 184.3Z" fill="rgb(250,250,251)" stroke="rgb(250,250,251)" stroke-width="0.5"/><path d="M469 156L420.0 184.3L444.5 199.0Z" fill="rgb(235,235,236)" stroke="rgb(235,235,236)" stroke-width="0.5"/><path d="M469 156L444.5 199.0L469.0 213.7Z" fill="rgb(250,250,251)" stroke="rgb(250,250,251)" stroke-width="0.5"/><path d="M469 156L469.0 213.7L493.5 199.0Z" fill="rgb(250,250,251)" stroke="rgb(250,250,251)" stroke-width="0.5"/><path d="M469 156L493.5 199.0L518.0 184.3Z" fill="rgb(243,243,244)" stroke="rgb(243,243,244)" stroke-width="0.5"/><path d="M469 156L518.0 184.3L518.0 156.0Z" fill="rgb(250,250,251)" stroke="rgb(250,250,251)" stroke-width="0.5"/><path d="M567 156L616.0 156.0L616.0 127.7Z" fill="rgb(250,250,251)" stroke="rgb(250,250,251)" stroke-width="0.5"/><path d="M567 156L616.0 127.7L591.5 113.0Z" fill="rgb(250,250,251)" stroke="rgb(250,250,251)" stroke-width="0.5"/><path d="M567 156L591.5 113.0L567.0 98.3Z" fill="rgb(236,236,237)" stroke="rgb(236,236,237)" stroke-width="0.5"/><path d="M567 156L567.0 98.3L542.5 113.0Z" fill="rgb(242,242,243)" stroke="rgb(242,242,243)" stroke-width="0.5"/><path d="M567 156L542.5 113.0L518.0 127.7Z" fill="rgb(250,250,251)" stroke="rgb(250,250,251)" stroke-width="0.5"/><path d="M567 156L518.0 127.7L518.0 156.0Z" fill="rgb(250,250,251)" stroke="rgb(250,250,251)" stroke-width="0.5"/><path d="M567 156L518.0 156.0L518.0 184.3Z" fill="rgb(250,250,251)" stroke="rgb(250,250,251)" stroke-width="0.5"/><path d="M567 156L518.0 184.3L542.5 199.0Z" fill="rgb(235,235,236)" stroke="rgb(235,235,236)" stroke-width="0.5"/><path d="M567 156L542.5 199.0L567.0 213.7Z" fill="rgb(250,250,251)" stroke="rgb(250,250,251)" stroke-width="0.5"/><path d="M567 156L567.0 213.7L591.5 199.0Z" fill="rgb(250,250,251)" stroke="rgb(250,250,251)" stroke-width="0.5"/><path d="M567 156L591.5 199.0L616.0 184.3Z" fill="rgb(243,243,244)" stroke="rgb(243,243,244)" stroke-width="0.5"/><path d="M567 156L616.0 184.3L616.0 156.0Z" fill="rgb(250,250,251)" stroke="rgb(250,250,251)" stroke-width="0.5"/><path d="M665 156L714.0 156.0L714.0 127.7Z" fill="rgb(250,250,251)" stroke="rgb(250,250,251)" stroke-width="0.5"/><path d="M665 156L714.0 127.7L689.5 113.0Z" fill="rgb(250,250,251)" stroke="rgb(250,250,251)" stroke-width="0.5"/><path d="M665 156L689.5 113.0L665.0 98.3Z" fill="rgb(236,236,237)" stroke="rgb(236,236,237)" stroke-width="0.5"/><path d="M665 156L665.0 98.3L640.5 113.0Z" fill="rgb(242,242,243)" stroke="rgb(242,242,243)" stroke-width="0.5"/><path d="M665 156L640.5 113.0L616.0 127.7Z" fill="rgb(250,250,251)" stroke="rgb(250,250,251)" stroke-width="0.5"/><path d="M665 156L616.0 127.7L616.0 156.0Z" fill="rgb(250,250,251)" stroke="rgb(250,250,251)" stroke-width="0.5"/><path d="M665 156L616.0 156.0L616.0 184.3Z" fill="rgb(250,250,251)" stroke="rgb(250,250,251)" stroke-width="0.5"/><path d="M665 156L616.0 184.3L640.5 199.0Z" fill="rgb(235,235,236)" stroke="rgb(235,235,236)" stroke-width="0.5"/><path d="M665 156L640.5 199.0L665.0 213.7Z" fill="rgb(250,250,251)" stroke="rgb(250,250,251)" stroke-width="0.5"/><path d="M665 156L665.0 213.7L689.5 199.0Z" fill="rgb(250,250,251)" stroke="rgb(250,250,251)" stroke-width="0.5"/><path d="M665 156L689.5 199.0L714.0 184.3Z" fill="rgb(243,243,244)" stroke="rgb(243,243,244)" stroke-width="0.5"/><path d="M665 156L714.0 184.3L714.0 156.0Z" fill="rgb(250,250,251)" stroke="rgb(250,250,251)" stroke-width="0.5"/><path d="M763 156L812.0 156.0L812.0 127.7Z" fill="rgb(250,250,251)" stroke="rgb(250,250,251)" stroke-width="0.5"/><path d="M763 156L812.0 127.7L787.5 113.0Z" fill="rgb(250,250,251)" stroke="rgb(250,250,251)" stroke-width="0.5"/><path d="M763 156L787.5 113.0L763.0 98.3Z" fill="rgb(236,236,237)" stroke="rgb(236,236,237)" stroke-width="0.5"/><path d="M763 156L763.0 98.3L738.5 113.0Z" fill="rgb(242,242,243)" stroke="rgb(242,242,243)" stroke-width="0.5"/><path d="M763 156L738.5 113.0L714.0 127.7Z" fill="rgb(250,250,251)" stroke="rgb(250,250,251)" stroke-width="0.5"/><path d="M763 156L714.0 127.7L714.0 156.0Z" fill="rgb(250,250,251)" stroke="rgb(250,250,251)" stroke-width="0.5"/><path d="M763 156L714.0 156.0L714.0 184.3Z" fill="rgb(250,250,251)" stroke="rgb(250,250,251)" stroke-width="0.5"/><path d="M763 156L714.0 184.3L738.5 199.0Z" fill="rgb(235,235,236)" stroke="rgb(235,235,236)" stroke-width="0.5"/><path d="M763 156L738.5 199.0L763.0 213.7Z" fill="rgb(250,250,251)" stroke="rgb(250,250,251)" stroke-width="0.5"/><path d="M763 156L763.0 213.7L787.5 199.0Z" fill="rgb(250,250,251)" stroke="rgb(250,250,251)" stroke-width="0.5"/><path d="M763 156L787.5 199.0L812.0 184.3Z" fill="rgb(243,243,244)" stroke="rgb(243,243,244)" stroke-width="0.5"/><path d="M763 156L812.0 184.3L812.0 156.0Z" fill="rgb(250,250,251)" stroke="rgb(250,250,251)" stroke-width="0.5"/><path d="M-70 242L-21.0 242.0L-21.0 213.7Z" fill="rgb(250,250,251)" stroke="rgb(250,250,251)" stroke-width="0.5"/><path d="M-70 242L-21.0 213.7L-45.5 199.0Z" fill="rgb(250,250,251)" stroke="rgb(250,250,251)" stroke-width="0.5"/><path d="M-70 242L-45.5 199.0L-70.0 184.3Z" fill="rgb(236,236,237)" stroke="rgb(236,236,237)" stroke-width="0.5"/><path d="M-70 242L-70.0 184.3L-94.5 199.0Z" fill="rgb(242,242,243)" stroke="rgb(242,242,243)" stroke-width="0.5"/><path d="M-70 242L-94.5 199.0L-119.0 213.7Z" fill="rgb(250,250,251)" stroke="rgb(250,250,251)" stroke-width="0.5"/><path d="M-70 242L-119.0 213.7L-119.0 242.0Z" fill="rgb(250,250,251)" stroke="rgb(250,250,251)" stroke-width="0.5"/><path d="M-70 242L-119.0 242.0L-119.0 270.3Z" fill="rgb(250,250,251)" stroke="rgb(250,250,251)" stroke-width="0.5"/><path d="M-70 242L-119.0 270.3L-94.5 285.0Z" fill="rgb(235,235,236)" stroke="rgb(235,235,236)" stroke-width="0.5"/><path d="M-70 242L-94.5 285.0L-70.0 299.7Z" fill="rgb(250,250,251)" stroke="rgb(250,250,251)" stroke-width="0.5"/><path d="M-70 242L-70.0 299.7L-45.5 285.0Z" fill="rgb(250,250,251)" stroke="rgb(250,250,251)" stroke-width="0.5"/><path d="M-70 242L-45.5 285.0L-21.0 270.3Z" fill="rgb(243,243,244)" stroke="rgb(243,243,244)" stroke-width="0.5"/><path d="M-70 242L-21.0 270.3L-21.0 242.0Z" fill="rgb(250,250,251)" stroke="rgb(250,250,251)" stroke-width="0.5"/><path d="M28 242L77.0 242.0L77.0 213.7Z" fill="rgb(250,250,251)" stroke="rgb(250,250,251)" stroke-width="0.5"/><path d="M28 242L77.0 213.7L52.5 199.0Z" fill="rgb(250,250,251)" stroke="rgb(250,250,251)" stroke-width="0.5"/><path d="M28 242L52.5 199.0L28.0 184.3Z" fill="rgb(236,236,237)" stroke="rgb(236,236,237)" stroke-width="0.5"/><path d="M28 242L28.0 184.3L3.5 199.0Z" fill="rgb(242,242,243)" stroke="rgb(242,242,243)" stroke-width="0.5"/><path d="M28 242L3.5 199.0L-21.0 213.7Z" fill="rgb(250,250,251)" stroke="rgb(250,250,251)" stroke-width="0.5"/><path d="M28 242L-21.0 213.7L-21.0 242.0Z" fill="rgb(250,250,251)" stroke="rgb(250,250,251)" stroke-width="0.5"/><path d="M28 242L-21.0 242.0L-21.0 270.3Z" fill="rgb(250,250,251)" stroke="rgb(250,250,251)" stroke-width="0.5"/><path d="M28 242L-21.0 270.3L3.5 285.0Z" fill="rgb(235,235,236)" stroke="rgb(235,235,236)" stroke-width="0.5"/><path d="M28 242L3.5 285.0L28.0 299.7Z" fill="rgb(250,250,251)" stroke="rgb(250,250,251)" stroke-width="0.5"/><path d="M28 242L28.0 299.7L52.5 285.0Z" fill="rgb(250,250,251)" stroke="rgb(250,250,251)" stroke-width="0.5"/><path d="M28 242L52.5 285.0L77.0 270.3Z" fill="rgb(243,243,244)" stroke="rgb(243,243,244)" stroke-width="0.5"/><path d="M28 242L77.0 270.3L77.0 242.0Z" fill="rgb(250,250,251)" stroke="rgb(250,250,251)" stroke-width="0.5"/><path d="M126 242L175.0 242.0L175.0 213.7Z" fill="rgb(250,250,251)" stroke="rgb(250,250,251)" stroke-width="0.5"/><path d="M126 242L175.0 213.7L150.5 199.0Z" fill="rgb(250,250,251)" stroke="rgb(250,250,251)" stroke-width="0.5"/><path d="M126 242L150.5 199.0L126.0 184.3Z" fill="rgb(236,236,237)" stroke="rgb(236,236,237)" stroke-width="0.5"/><path d="M126 242L126.0 184.3L101.5 199.0Z" fill="rgb(242,242,243)" stroke="rgb(242,242,243)" stroke-width="0.5"/><path d="M126 242L101.5 199.0L77.0 213.7Z" fill="rgb(250,250,251)" stroke="rgb(250,250,251)" stroke-width="0.5"/><path d="M126 242L77.0 213.7L77.0 242.0Z" fill="rgb(250,250,251)" stroke="rgb(250,250,251)" stroke-width="0.5"/><path d="M126 242L77.0 242.0L77.0 270.3Z" fill="rgb(250,250,251)" stroke="rgb(250,250,251)" stroke-width="0.5"/><path d="M126 242L77.0 270.3L101.5 285.0Z" fill="rgb(235,235,236)" stroke="rgb(235,235,236)" stroke-width="0.5"/><path d="M126 242L101.5 285.0L126.0 299.7Z" fill="rgb(250,250,251)" stroke="rgb(250,250,251)" stroke-width="0.5"/><path d="M126 242L126.0 299.7L150.5 285.0Z" fill="rgb(250,250,251)" stroke="rgb(250,250,251)" stroke-width="0.5"/><path d="M126 242L150.5 285.0L175.0 270.3Z" fill="rgb(243,243,244)" stroke="rgb(243,243,244)" stroke-width="0.5"/><path d="M126 242L175.0 270.3L175.0 242.0Z" fill="rgb(250,250,251)" stroke="rgb(250,250,251)" stroke-width="0.5"/><path d="M224 242L273.0 242.0L273.0 213.7Z" fill="rgb(250,250,251)" stroke="rgb(250,250,251)" stroke-width="0.5"/><path d="M224 242L273.0 213.7L248.5 199.0Z" fill="rgb(250,250,251)" stroke="rgb(250,250,251)" stroke-width="0.5"/><path d="M224 242L248.5 199.0L224.0 184.3Z" fill="rgb(236,236,237)" stroke="rgb(236,236,237)" stroke-width="0.5"/><path d="M224 242L224.0 184.3L199.5 199.0Z" fill="rgb(242,242,243)" stroke="rgb(242,242,243)" stroke-width="0.5"/><path d="M224 242L199.5 199.0L175.0 213.7Z" fill="rgb(250,250,251)" stroke="rgb(250,250,251)" stroke-width="0.5"/><path d="M224 242L175.0 213.7L175.0 242.0Z" fill="rgb(250,250,251)" stroke="rgb(250,250,251)" stroke-width="0.5"/><path d="M224 242L175.0 242.0L175.0 270.3Z" fill="rgb(250,250,251)" stroke="rgb(250,250,251)" stroke-width="0.5"/><path d="M224 242L175.0 270.3L199.5 285.0Z" fill="rgb(235,235,236)" stroke="rgb(235,235,236)" stroke-width="0.5"/><path d="M224 242L199.5 285.0L224.0 299.7Z" fill="rgb(250,250,251)" stroke="rgb(250,250,251)" stroke-width="0.5"/><path d="M224 242L224.0 299.7L248.5 285.0Z" fill="rgb(250,250,251)" stroke="rgb(250,250,251)" stroke-width="0.5"/><path d="M224 242L248.5 285.0L273.0 270.3Z" fill="rgb(243,243,244)" stroke="rgb(243,243,244)" stroke-width="0.5"/><path d="M224 242L273.0 270.3L273.0 242.0Z" fill="rgb(250,250,251)" stroke="rgb(250,250,251)" stroke-width="0.5"/><path d="M322 242L371.0 242.0L371.0 213.7Z" fill="rgb(250,250,251)" stroke="rgb(250,250,251)" stroke-width="0.5"/><path d="M322 242L371.0 213.7L346.5 199.0Z" fill="rgb(250,250,251)" stroke="rgb(250,250,251)" stroke-width="0.5"/><path d="M322 242L346.5 199.0L322.0 184.3Z" fill="rgb(236,236,237)" stroke="rgb(236,236,237)" stroke-width="0.5"/><path d="M322 242L322.0 184.3L297.5 199.0Z" fill="rgb(242,242,243)" stroke="rgb(242,242,243)" stroke-width="0.5"/><path d="M322 242L297.5 199.0L273.0 213.7Z" fill="rgb(250,250,251)" stroke="rgb(250,250,251)" stroke-width="0.5"/><path d="M322 242L273.0 213.7L273.0 242.0Z" fill="rgb(250,250,251)" stroke="rgb(250,250,251)" stroke-width="0.5"/><path d="M322 242L273.0 242.0L273.0 270.3Z" fill="rgb(250,250,251)" stroke="rgb(250,250,251)" stroke-width="0.5"/><path d="M322 242L273.0 270.3L297.5 285.0Z" fill="rgb(235,235,236)" stroke="rgb(235,235,236)" stroke-width="0.5"/><path d="M322 242L297.5 285.0L322.0 299.7Z" fill="rgb(250,250,251)" stroke="rgb(250,250,251)" stroke-width="0.5"/><path d="M322 242L322.0 299.7L346.5 285.0Z" fill="rgb(250,250,251)" stroke="rgb(250,250,251)" stroke-width="0.5"/><path d="M322 242L346.5 285.0L371.0 270.3Z" fill="rgb(243,243,244)" stroke="rgb(243,243,244)" stroke-width="0.5"/><path d="M322 242L371.0 270.3L371.0 242.0Z" fill="rgb(250,250,251)" stroke="rgb(250,250,251)" stroke-width="0.5"/><path d="M420 242L469.0 242.0L469.0 213.7Z" fill="rgb(250,250,251)" stroke="rgb(250,250,251)" stroke-width="0.5"/><path d="M420 242L469.0 213.7L444.5 199.0Z" fill="rgb(250,250,251)" stroke="rgb(250,250,251)" stroke-width="0.5"/><path d="M420 242L444.5 199.0L420.0 184.3Z" fill="rgb(236,236,237)" stroke="rgb(236,236,237)" stroke-width="0.5"/><path d="M420 242L420.0 184.3L395.5 199.0Z" fill="rgb(242,242,243)" stroke="rgb(242,242,243)" stroke-width="0.5"/><path d="M420 242L395.5 199.0L371.0 213.7Z" fill="rgb(250,250,251)" stroke="rgb(250,250,251)" stroke-width="0.5"/><path d="M420 242L371.0 213.7L371.0 242.0Z" fill="rgb(250,250,251)" stroke="rgb(250,250,251)" stroke-width="0.5"/><path d="M420 242L371.0 242.0L371.0 270.3Z" fill="rgb(250,250,251)" stroke="rgb(250,250,251)" stroke-width="0.5"/><path d="M420 242L371.0 270.3L395.5 285.0Z" fill="rgb(235,235,236)" stroke="rgb(235,235,236)" stroke-width="0.5"/><path d="M420 242L395.5 285.0L420.0 299.7Z" fill="rgb(250,250,251)" stroke="rgb(250,250,251)" stroke-width="0.5"/><path d="M420 242L420.0 299.7L444.5 285.0Z" fill="rgb(250,250,251)" stroke="rgb(250,250,251)" stroke-width="0.5"/><path d="M420 242L444.5 285.0L469.0 270.3Z" fill="rgb(243,243,244)" stroke="rgb(243,243,244)" stroke-width="0.5"/><path d="M420 242L469.0 270.3L469.0 242.0Z" fill="rgb(250,250,251)" stroke="rgb(250,250,251)" stroke-width="0.5"/><path d="M518 242L567.0 242.0L567.0 213.7Z" fill="rgb(250,250,251)" stroke="rgb(250,250,251)" stroke-width="0.5"/><path d="M518 242L567.0 213.7L542.5 199.0Z" fill="rgb(250,250,251)" stroke="rgb(250,250,251)" stroke-width="0.5"/><path d="M518 242L542.5 199.0L518.0 184.3Z" fill="rgb(236,236,237)" stroke="rgb(236,236,237)" stroke-width="0.5"/><path d="M518 242L518.0 184.3L493.5 199.0Z" fill="rgb(242,242,243)" stroke="rgb(242,242,243)" stroke-width="0.5"/><path d="M518 242L493.5 199.0L469.0 213.7Z" fill="rgb(250,250,251)" stroke="rgb(250,250,251)" stroke-width="0.5"/><path d="M518 242L469.0 213.7L469.0 242.0Z" fill="rgb(250,250,251)" stroke="rgb(250,250,251)" stroke-width="0.5"/><path d="M518 242L469.0 242.0L469.0 270.3Z" fill="rgb(250,250,251)" stroke="rgb(250,250,251)" stroke-width="0.5"/><path d="M518 242L469.0 270.3L493.5 285.0Z" fill="rgb(235,235,236)" stroke="rgb(235,235,236)" stroke-width="0.5"/><path d="M518 242L493.5 285.0L518.0 299.7Z" fill="rgb(250,250,251)" stroke="rgb(250,250,251)" stroke-width="0.5"/><path d="M518 242L518.0 299.7L542.5 285.0Z" fill="rgb(250,250,251)" stroke="rgb(250,250,251)" stroke-width="0.5"/><path d="M518 242L542.5 285.0L567.0 270.3Z" fill="rgb(243,243,244)" stroke="rgb(243,243,244)" stroke-width="0.5"/><path d="M518 242L567.0 270.3L567.0 242.0Z" fill="rgb(250,250,251)" stroke="rgb(250,250,251)" stroke-width="0.5"/><path d="M616 242L665.0 242.0L665.0 213.7Z" fill="rgb(250,250,251)" stroke="rgb(250,250,251)" stroke-width="0.5"/><path d="M616 242L665.0 213.7L640.5 199.0Z" fill="rgb(250,250,251)" stroke="rgb(250,250,251)" stroke-width="0.5"/><path d="M616 242L640.5 199.0L616.0 184.3Z" fill="rgb(236,236,237)" stroke="rgb(236,236,237)" stroke-width="0.5"/><path d="M616 242L616.0 184.3L591.5 199.0Z" fill="rgb(242,242,243)" stroke="rgb(242,242,243)" stroke-width="0.5"/><path d="M616 242L591.5 199.0L567.0 213.7Z" fill="rgb(250,250,251)" stroke="rgb(250,250,251)" stroke-width="0.5"/><path d="M616 242L567.0 213.7L567.0 242.0Z" fill="rgb(250,250,251)" stroke="rgb(250,250,251)" stroke-width="0.5"/><path d="M616 242L567.0 242.0L567.0 270.3Z" fill="rgb(250,250,251)" stroke="rgb(250,250,251)" stroke-width="0.5"/><path d="M616 242L567.0 270.3L591.5 285.0Z" fill="rgb(235,235,236)" stroke="rgb(235,235,236)" stroke-width="0.5"/><path d="M616 242L591.5 285.0L616.0 299.7Z" fill="rgb(250,250,251)" stroke="rgb(250,250,251)" stroke-width="0.5"/><path d="M616 242L616.0 299.7L640.5 285.0Z" fill="rgb(250,250,251)" stroke="rgb(250,250,251)" stroke-width="0.5"/><path d="M616 242L640.5 285.0L665.0 270.3Z" fill="rgb(243,243,244)" stroke="rgb(243,243,244)" stroke-width="0.5"/><path d="M616 242L665.0 270.3L665.0 242.0Z" fill="rgb(250,250,251)" stroke="rgb(250,250,251)" stroke-width="0.5"/><path d="M714 242L763.0 242.0L763.0 213.7Z" fill="rgb(250,250,251)" stroke="rgb(250,250,251)" stroke-width="0.5"/><path d="M714 242L763.0 213.7L738.5 199.0Z" fill="rgb(250,250,251)" stroke="rgb(250,250,251)" stroke-width="0.5"/><path d="M714 242L738.5 199.0L714.0 184.3Z" fill="rgb(236,236,237)" stroke="rgb(236,236,237)" stroke-width="0.5"/><path d="M714 242L714.0 184.3L689.5 199.0Z" fill="rgb(242,242,243)" stroke="rgb(242,242,243)" stroke-width="0.5"/><path d="M714 242L689.5 199.0L665.0 213.7Z" fill="rgb(250,250,251)" stroke="rgb(250,250,251)" stroke-width="0.5"/><path d="M714 242L665.0 213.7L665.0 242.0Z" fill="rgb(250,250,251)" stroke="rgb(250,250,251)" stroke-width="0.5"/><path d="M714 242L665.0 242.0L665.0 270.3Z" fill="rgb(250,250,251)" stroke="rgb(250,250,251)" stroke-width="0.5"/><path d="M714 242L665.0 270.3L689.5 285.0Z" fill="rgb(235,235,236)" stroke="rgb(235,235,236)" stroke-width="0.5"/><path d="M714 242L689.5 285.0L714.0 299.7Z" fill="rgb(250,250,251)" stroke="rgb(250,250,251)" stroke-width="0.5"/><path d="M714 242L714.0 299.7L738.5 285.0Z" fill="rgb(250,250,251)" stroke="rgb(250,250,251)" stroke-width="0.5"/><path d="M714 242L738.5 285.0L763.0 270.3Z" fill="rgb(243,243,244)" stroke="rgb(243,243,244)" stroke-width="0.5"/><path d="M714 242L763.0 270.3L763.0 242.0Z" fill="rgb(250,250,251)" stroke="rgb(250,250,251)" stroke-width="0.5"/><path d="M-21 328L28.0 328.0L28.0 299.7Z" fill="rgb(250,250,251)" stroke="rgb(250,250,251)" stroke-width="0.5"/><path d="M-21 328L28.0 299.7L3.5 285.0Z" fill="rgb(250,250,251)" stroke="rgb(250,250,251)" stroke-width="0.5"/><path d="M-21 328L3.5 285.0L-21.0 270.3Z" fill="rgb(236,236,237)" stroke="rgb(236,236,237)" stroke-width="0.5"/><path d="M-21 328L-21.0 270.3L-45.5 285.0Z" fill="rgb(242,242,243)" stroke="rgb(242,242,243)" stroke-width="0.5"/><path d="M-21 328L-45.5 285.0L-70.0 299.7Z" fill="rgb(250,250,251)" stroke="rgb(250,250,251)" stroke-width="0.5"/><path d="M-21 328L-70.0 299.7L-70.0 328.0Z" fill="rgb(250,250,251)" stroke="rgb(250,250,251)" stroke-width="0.5"/><path d="M-21 328L-70.0 328.0L-70.0 356.3Z" fill="rgb(250,250,251)" stroke="rgb(250,250,251)" stroke-width="0.5"/><path d="M-21 328L-70.0 356.3L-45.5 371.0Z" fill="rgb(235,235,236)" stroke="rgb(235,235,236)" stroke-width="0.5"/><path d="M-21 328L-45.5 371.0L-21.0 385.7Z" fill="rgb(250,250,251)" stroke="rgb(250,250,251)" stroke-width="0.5"/><path d="M-21 328L-21.0 385.7L3.5 371.0Z" fill="rgb(250,250,251)" stroke="rgb(250,250,251)" stroke-width="0.5"/><path d="M-21 328L3.5 371.0L28.0 356.3Z" fill="rgb(243,243,244)" stroke="rgb(243,243,244)" stroke-width="0.5"/><path d="M-21 328L28.0 356.3L28.0 328.0Z" fill="rgb(250,250,251)" stroke="rgb(250,250,251)" stroke-width="0.5"/><path d="M77 328L126.0 328.0L126.0 299.7Z" fill="rgb(250,250,251)" stroke="rgb(250,250,251)" stroke-width="0.5"/><path d="M77 328L126.0 299.7L101.5 285.0Z" fill="rgb(250,250,251)" stroke="rgb(250,250,251)" stroke-width="0.5"/><path d="M77 328L101.5 285.0L77.0 270.3Z" fill="rgb(236,236,237)" stroke="rgb(236,236,237)" stroke-width="0.5"/><path d="M77 328L77.0 270.3L52.5 285.0Z" fill="rgb(242,242,243)" stroke="rgb(242,242,243)" stroke-width="0.5"/><path d="M77 328L52.5 285.0L28.0 299.7Z" fill="rgb(250,250,251)" stroke="rgb(250,250,251)" stroke-width="0.5"/><path d="M77 328L28.0 299.7L28.0 328.0Z" fill="rgb(250,250,251)" stroke="rgb(250,250,251)" stroke-width="0.5"/><path d="M77 328L28.0 328.0L28.0 356.3Z" fill="rgb(250,250,251)" stroke="rgb(250,250,251)" stroke-width="0.5"/><path d="M77 328L28.0 356.3L52.5 371.0Z" fill="rgb(235,235,236)" stroke="rgb(235,235,236)" stroke-width="0.5"/><path d="M77 328L52.5 371.0L77.0 385.7Z" fill="rgb(250,250,251)" stroke="rgb(250,250,251)" stroke-width="0.5"/><path d="M77 328L77.0 385.7L101.5 371.0Z" fill="rgb(250,250,251)" stroke="rgb(250,250,251)" stroke-width="0.5"/><path d="M77 328L101.5 371.0L126.0 356.3Z" fill="rgb(243,243,244)" stroke="rgb(243,243,244)" stroke-width="0.5"/><path d="M77 328L126.0 356.3L126.0 328.0Z" fill="rgb(250,250,251)" stroke="rgb(250,250,251)" stroke-width="0.5"/><path d="M175 328L224.0 328.0L224.0 299.7Z" fill="rgb(250,250,251)" stroke="rgb(250,250,251)" stroke-width="0.5"/><path d="M175 328L224.0 299.7L199.5 285.0Z" fill="rgb(250,250,251)" stroke="rgb(250,250,251)" stroke-width="0.5"/><path d="M175 328L199.5 285.0L175.0 270.3Z" fill="rgb(236,236,237)" stroke="rgb(236,236,237)" stroke-width="0.5"/><path d="M175 328L175.0 270.3L150.5 285.0Z" fill="rgb(242,242,243)" stroke="rgb(242,242,243)" stroke-width="0.5"/><path d="M175 328L150.5 285.0L126.0 299.7Z" fill="rgb(250,250,251)" stroke="rgb(250,250,251)" stroke-width="0.5"/><path d="M175 328L126.0 299.7L126.0 328.0Z" fill="rgb(250,250,251)" stroke="rgb(250,250,251)" stroke-width="0.5"/><path d="M175 328L126.0 328.0L126.0 356.3Z" fill="rgb(250,250,251)" stroke="rgb(250,250,251)" stroke-width="0.5"/><path d="M175 328L126.0 356.3L150.5 371.0Z" fill="rgb(235,235,236)" stroke="rgb(235,235,236)" stroke-width="0.5"/><path d="M175 328L150.5 371.0L175.0 385.7Z" fill="rgb(250,250,251)" stroke="rgb(250,250,251)" stroke-width="0.5"/><path d="M175 328L175.0 385.7L199.5 371.0Z" fill="rgb(250,250,251)" stroke="rgb(250,250,251)" stroke-width="0.5"/><path d="M175 328L199.5 371.0L224.0 356.3Z" fill="rgb(243,243,244)" stroke="rgb(243,243,244)" stroke-width="0.5"/><path d="M175 328L224.0 356.3L224.0 328.0Z" fill="rgb(250,250,251)" stroke="rgb(250,250,251)" stroke-width="0.5"/><path d="M273 328L322.0 328.0L322.0 299.7Z" fill="rgb(250,250,251)" stroke="rgb(250,250,251)" stroke-width="0.5"/><path d="M273 328L322.0 299.7L297.5 285.0Z" fill="rgb(250,250,251)" stroke="rgb(250,250,251)" stroke-width="0.5"/><path d="M273 328L297.5 285.0L273.0 270.3Z" fill="rgb(236,236,237)" stroke="rgb(236,236,237)" stroke-width="0.5"/><path d="M273 328L273.0 270.3L248.5 285.0Z" fill="rgb(242,242,243)" stroke="rgb(242,242,243)" stroke-width="0.5"/><path d="M273 328L248.5 285.0L224.0 299.7Z" fill="rgb(250,250,251)" stroke="rgb(250,250,251)" stroke-width="0.5"/><path d="M273 328L224.0 299.7L224.0 328.0Z" fill="rgb(250,250,251)" stroke="rgb(250,250,251)" stroke-width="0.5"/><path d="M273 328L224.0 328.0L224.0 356.3Z" fill="rgb(250,250,251)" stroke="rgb(250,250,251)" stroke-width="0.5"/><path d="M273 328L224.0 356.3L248.5 371.0Z" fill="rgb(235,235,236)" stroke="rgb(235,235,236)" stroke-width="0.5"/><path d="M273 328L248.5 371.0L273.0 385.7Z" fill="rgb(250,250,251)" stroke="rgb(250,250,251)" stroke-width="0.5"/><path d="M273 328L273.0 385.7L297.5 371.0Z" fill="rgb(250,250,251)" stroke="rgb(250,250,251)" stroke-width="0.5"/><path d="M273 328L297.5 371.0L322.0 356.3Z" fill="rgb(243,243,244)" stroke="rgb(243,243,244)" stroke-width="0.5"/><path d="M273 328L322.0 356.3L322.0 328.0Z" fill="rgb(250,250,251)" stroke="rgb(250,250,251)" stroke-width="0.5"/><path d="M371 328L420.0 328.0L420.0 299.7Z" fill="rgb(250,250,251)" stroke="rgb(250,250,251)" stroke-width="0.5"/><path d="M371 328L420.0 299.7L395.5 285.0Z" fill="rgb(250,250,251)" stroke="rgb(250,250,251)" stroke-width="0.5"/><path d="M371 328L395.5 285.0L371.0 270.3Z" fill="rgb(236,236,237)" stroke="rgb(236,236,237)" stroke-width="0.5"/><path d="M371 328L371.0 270.3L346.5 285.0Z" fill="rgb(242,242,243)" stroke="rgb(242,242,243)" stroke-width="0.5"/><path d="M371 328L346.5 285.0L322.0 299.7Z" fill="rgb(250,250,251)" stroke="rgb(250,250,251)" stroke-width="0.5"/><path d="M371 328L322.0 299.7L322.0 328.0Z" fill="rgb(250,250,251)" stroke="rgb(250,250,251)" stroke-width="0.5"/><path d="M371 328L322.0 328.0L322.0 356.3Z" fill="rgb(250,250,251)" stroke="rgb(250,250,251)" stroke-width="0.5"/><path d="M371 328L322.0 356.3L346.5 371.0Z" fill="rgb(235,235,236)" stroke="rgb(235,235,236)" stroke-width="0.5"/><path d="M371 328L346.5 371.0L371.0 385.7Z" fill="rgb(250,250,251)" stroke="rgb(250,250,251)" stroke-width="0.5"/><path d="M371 328L371.0 385.7L395.5 371.0Z" fill="rgb(250,250,251)" stroke="rgb(250,250,251)" stroke-width="0.5"/><path d="M371 328L395.5 371.0L420.0 356.3Z" fill="rgb(243,243,244)" stroke="rgb(243,243,244)" stroke-width="0.5"/><path d="M371 328L420.0 356.3L420.0 328.0Z" fill="rgb(250,250,251)" stroke="rgb(250,250,251)" stroke-width="0.5"/><path d="M469 328L518.0 328.0L518.0 299.7Z" fill="rgb(250,250,251)" stroke="rgb(250,250,251)" stroke-width="0.5"/><path d="M469 328L518.0 299.7L493.5 285.0Z" fill="rgb(250,250,251)" stroke="rgb(250,250,251)" stroke-width="0.5"/><path d="M469 328L493.5 285.0L469.0 270.3Z" fill="rgb(236,236,237)" stroke="rgb(236,236,237)" stroke-width="0.5"/><path d="M469 328L469.0 270.3L444.5 285.0Z" fill="rgb(242,242,243)" stroke="rgb(242,242,243)" stroke-width="0.5"/><path d="M469 328L444.5 285.0L420.0 299.7Z" fill="rgb(250,250,251)" stroke="rgb(250,250,251)" stroke-width="0.5"/><path d="M469 328L420.0 299.7L420.0 328.0Z" fill="rgb(250,250,251)" stroke="rgb(250,250,251)" stroke-width="0.5"/><path d="M469 328L420.0 328.0L420.0 356.3Z" fill="rgb(250,250,251)" stroke="rgb(250,250,251)" stroke-width="0.5"/><path d="M469 328L420.0 356.3L444.5 371.0Z" fill="rgb(235,235,236)" stroke="rgb(235,235,236)" stroke-width="0.5"/><path d="M469 328L444.5 371.0L469.0 385.7Z" fill="rgb(250,250,251)" stroke="rgb(250,250,251)" stroke-width="0.5"/><path d="M469 328L469.0 385.7L493.5 371.0Z" fill="rgb(250,250,251)" stroke="rgb(250,250,251)" stroke-width="0.5"/><path d="M469 328L493.5 371.0L518.0 356.3Z" fill="rgb(243,243,244)" stroke="rgb(243,243,244)" stroke-width="0.5"/><path d="M469 328L518.0 356.3L518.0 328.0Z" fill="rgb(250,250,251)" stroke="rgb(250,250,251)" stroke-width="0.5"/><path d="M567 328L616.0 328.0L616.0 299.7Z" fill="rgb(250,250,251)" stroke="rgb(250,250,251)" stroke-width="0.5"/><path d="M567 328L616.0 299.7L591.5 285.0Z" fill="rgb(250,250,251)" stroke="rgb(250,250,251)" stroke-width="0.5"/><path d="M567 328L591.5 285.0L567.0 270.3Z" fill="rgb(236,236,237)" stroke="rgb(236,236,237)" stroke-width="0.5"/><path d="M567 328L567.0 270.3L542.5 285.0Z" fill="rgb(242,242,243)" stroke="rgb(242,242,243)" stroke-width="0.5"/><path d="M567 328L542.5 285.0L518.0 299.7Z" fill="rgb(250,250,251)" stroke="rgb(250,250,251)" stroke-width="0.5"/><path d="M567 328L518.0 299.7L518.0 328.0Z" fill="rgb(250,250,251)" stroke="rgb(250,250,251)" stroke-width="0.5"/><path d="M567 328L518.0 328.0L518.0 356.3Z" fill="rgb(250,250,251)" stroke="rgb(250,250,251)" stroke-width="0.5"/><path d="M567 328L518.0 356.3L542.5 371.0Z" fill="rgb(235,235,236)" stroke="rgb(235,235,236)" stroke-width="0.5"/><path d="M567 328L542.5 371.0L567.0 385.7Z" fill="rgb(250,250,251)" stroke="rgb(250,250,251)" stroke-width="0.5"/><path d="M567 328L567.0 385.7L591.5 371.0Z" fill="rgb(250,250,251)" stroke="rgb(250,250,251)" stroke-width="0.5"/><path d="M567 328L591.5 371.0L616.0 356.3Z" fill="rgb(243,243,244)" stroke="rgb(243,243,244)" stroke-width="0.5"/><path d="M567 328L616.0 356.3L616.0 328.0Z" fill="rgb(250,250,251)" stroke="rgb(250,250,251)" stroke-width="0.5"/><path d="M665 328L714.0 328.0L714.0 299.7Z" fill="rgb(250,250,251)" stroke="rgb(250,250,251)" stroke-width="0.5"/><path d="M665 328L714.0 299.7L689.5 285.0Z" fill="rgb(250,250,251)" stroke="rgb(250,250,251)" stroke-width="0.5"/><path d="M665 328L689.5 285.0L665.0 270.3Z" fill="rgb(236,236,237)" stroke="rgb(236,236,237)" stroke-width="0.5"/><path d="M665 328L665.0 270.3L640.5 285.0Z" fill="rgb(242,242,243)" stroke="rgb(242,242,243)" stroke-width="0.5"/><path d="M665 328L640.5 285.0L616.0 299.7Z" fill="rgb(250,250,251)" stroke="rgb(250,250,251)" stroke-width="0.5"/><path d="M665 328L616.0 299.7L616.0 328.0Z" fill="rgb(250,250,251)" stroke="rgb(250,250,251)" stroke-width="0.5"/><path d="M665 328L616.0 328.0L616.0 356.3Z" fill="rgb(250,250,251)" stroke="rgb(250,250,251)" stroke-width="0.5"/><path d="M665 328L616.0 356.3L640.5 371.0Z" fill="rgb(235,235,236)" stroke="rgb(235,235,236)" stroke-width="0.5"/><path d="M665 328L640.5 371.0L665.0 385.7Z" fill="rgb(250,250,251)" stroke="rgb(250,250,251)" stroke-width="0.5"/><path d="M665 328L665.0 385.7L689.5 371.0Z" fill="rgb(250,250,251)" stroke="rgb(250,250,251)" stroke-width="0.5"/><path d="M665 328L689.5 371.0L714.0 356.3Z" fill="rgb(243,243,244)" stroke="rgb(243,243,244)" stroke-width="0.5"/><path d="M665 328L714.0 356.3L714.0 328.0Z" fill="rgb(250,250,251)" stroke="rgb(250,250,251)" stroke-width="0.5"/><path d="M763 328L812.0 328.0L812.0 299.7Z" fill="rgb(250,250,251)" stroke="rgb(250,250,251)" stroke-width="0.5"/><path d="M763 328L812.0 299.7L787.5 285.0Z" fill="rgb(250,250,251)" stroke="rgb(250,250,251)" stroke-width="0.5"/><path d="M763 328L787.5 285.0L763.0 270.3Z" fill="rgb(236,236,237)" stroke="rgb(236,236,237)" stroke-width="0.5"/><path d="M763 328L763.0 270.3L738.5 285.0Z" fill="rgb(242,242,243)" stroke="rgb(242,242,243)" stroke-width="0.5"/><path d="M763 328L738.5 285.0L714.0 299.7Z" fill="rgb(250,250,251)" stroke="rgb(250,250,251)" stroke-width="0.5"/><path d="M763 328L714.0 299.7L714.0 328.0Z" fill="rgb(250,250,251)" stroke="rgb(250,250,251)" stroke-width="0.5"/><path d="M763 328L714.0 328.0L714.0 356.3Z" fill="rgb(250,250,251)" stroke="rgb(250,250,251)" stroke-width="0.5"/><path d="M763 328L714.0 356.3L738.5 371.0Z" fill="rgb(235,235,236)" stroke="rgb(235,235,236)" stroke-width="0.5"/><path d="M763 328L738.5 371.0L763.0 385.7Z" fill="rgb(250,250,251)" stroke="rgb(250,250,251)" stroke-width="0.5"/><path d="M763 328L763.0 385.7L787.5 371.0Z" fill="rgb(250,250,251)" stroke="rgb(250,250,251)" stroke-width="0.5"/><path d="M763 328L787.5 371.0L812.0 356.3Z" fill="rgb(243,243,244)" stroke="rgb(243,243,244)" stroke-width="0.5"/><path d="M763 328L812.0 356.3L812.0 328.0Z" fill="rgb(250,250,251)" stroke="rgb(250,250,251)" stroke-width="0.5"/><path d="M-70 414L-21.0 414.0L-21.0 385.7Z" fill="rgb(250,250,251)" stroke="rgb(250,250,251)" stroke-width="0.5"/><path d="M-70 414L-21.0 385.7L-45.5 371.0Z" fill="rgb(250,250,251)" stroke="rgb(250,250,251)" stroke-width="0.5"/><path d="M-70 414L-45.5 371.0L-70.0 356.3Z" fill="rgb(236,236,237)" stroke="rgb(236,236,237)" stroke-width="0.5"/><path d="M-70 414L-70.0 356.3L-94.5 371.0Z" fill="rgb(242,242,243)" stroke="rgb(242,242,243)" stroke-width="0.5"/><path d="M-70 414L-94.5 371.0L-119.0 385.7Z" fill="rgb(250,250,251)" stroke="rgb(250,250,251)" stroke-width="0.5"/><path d="M-70 414L-119.0 385.7L-119.0 414.0Z" fill="rgb(250,250,251)" stroke="rgb(250,250,251)" stroke-width="0.5"/><path d="M-70 414L-119.0 414.0L-119.0 442.3Z" fill="rgb(250,250,251)" stroke="rgb(250,250,251)" stroke-width="0.5"/><path d="M-70 414L-119.0 442.3L-94.5 457.0Z" fill="rgb(235,235,236)" stroke="rgb(235,235,236)" stroke-width="0.5"/><path d="M-70 414L-94.5 457.0L-70.0 471.7Z" fill="rgb(250,250,251)" stroke="rgb(250,250,251)" stroke-width="0.5"/><path d="M-70 414L-70.0 471.7L-45.5 457.0Z" fill="rgb(250,250,251)" stroke="rgb(250,250,251)" stroke-width="0.5"/><path d="M-70 414L-45.5 457.0L-21.0 442.3Z" fill="rgb(243,243,244)" stroke="rgb(243,243,244)" stroke-width="0.5"/><path d="M-70 414L-21.0 442.3L-21.0 414.0Z" fill="rgb(250,250,251)" stroke="rgb(250,250,251)" stroke-width="0.5"/><path d="M28 414L77.0 414.0L77.0 385.7Z" fill="rgb(250,250,251)" stroke="rgb(250,250,251)" stroke-width="0.5"/><path d="M28 414L77.0 385.7L52.5 371.0Z" fill="rgb(250,250,251)" stroke="rgb(250,250,251)" stroke-width="0.5"/><path d="M28 414L52.5 371.0L28.0 356.3Z" fill="rgb(236,236,237)" stroke="rgb(236,236,237)" stroke-width="0.5"/><path d="M28 414L28.0 356.3L3.5 371.0Z" fill="rgb(242,242,243)" stroke="rgb(242,242,243)" stroke-width="0.5"/><path d="M28 414L3.5 371.0L-21.0 385.7Z" fill="rgb(250,250,251)" stroke="rgb(250,250,251)" stroke-width="0.5"/><path d="M28 414L-21.0 385.7L-21.0 414.0Z" fill="rgb(250,250,251)" stroke="rgb(250,250,251)" stroke-width="0.5"/><path d="M28 414L-21.0 414.0L-21.0 442.3Z" fill="rgb(250,250,251)" stroke="rgb(250,250,251)" stroke-width="0.5"/><path d="M28 414L-21.0 442.3L3.5 457.0Z" fill="rgb(235,235,236)" stroke="rgb(235,235,236)" stroke-width="0.5"/><path d="M28 414L3.5 457.0L28.0 471.7Z" fill="rgb(250,250,251)" stroke="rgb(250,250,251)" stroke-width="0.5"/><path d="M28 414L28.0 471.7L52.5 457.0Z" fill="rgb(250,250,251)" stroke="rgb(250,250,251)" stroke-width="0.5"/><path d="M28 414L52.5 457.0L77.0 442.3Z" fill="rgb(243,243,244)" stroke="rgb(243,243,244)" stroke-width="0.5"/><path d="M28 414L77.0 442.3L77.0 414.0Z" fill="rgb(250,250,251)" stroke="rgb(250,250,251)" stroke-width="0.5"/><path d="M126 414L175.0 414.0L175.0 385.7Z" fill="rgb(250,250,251)" stroke="rgb(250,250,251)" stroke-width="0.5"/><path d="M126 414L175.0 385.7L150.5 371.0Z" fill="rgb(250,250,251)" stroke="rgb(250,250,251)" stroke-width="0.5"/><path d="M126 414L150.5 371.0L126.0 356.3Z" fill="rgb(236,236,237)" stroke="rgb(236,236,237)" stroke-width="0.5"/><path d="M126 414L126.0 356.3L101.5 371.0Z" fill="rgb(242,242,243)" stroke="rgb(242,242,243)" stroke-width="0.5"/><path d="M126 414L101.5 371.0L77.0 385.7Z" fill="rgb(250,250,251)" stroke="rgb(250,250,251)" stroke-width="0.5"/><path d="M126 414L77.0 385.7L77.0 414.0Z" fill="rgb(250,250,251)" stroke="rgb(250,250,251)" stroke-width="0.5"/><path d="M126 414L77.0 414.0L77.0 442.3Z" fill="rgb(250,250,251)" stroke="rgb(250,250,251)" stroke-width="0.5"/><path d="M126 414L77.0 442.3L101.5 457.0Z" fill="rgb(235,235,236)" stroke="rgb(235,235,236)" stroke-width="0.5"/><path d="M126 414L101.5 457.0L126.0 471.7Z" fill="rgb(250,250,251)" stroke="rgb(250,250,251)" stroke-width="0.5"/><path d="M126 414L126.0 471.7L150.5 457.0Z" fill="rgb(250,250,251)" stroke="rgb(250,250,251)" stroke-width="0.5"/><path d="M126 414L150.5 457.0L175.0 442.3Z" fill="rgb(243,243,244)" stroke="rgb(243,243,244)" stroke-width="0.5"/><path d="M126 414L175.0 442.3L175.0 414.0Z" fill="rgb(250,250,251)" stroke="rgb(250,250,251)" stroke-width="0.5"/><path d="M224 414L273.0 414.0L273.0 385.7Z" fill="rgb(250,250,251)" stroke="rgb(250,250,251)" stroke-width="0.5"/><path d="M224 414L273.0 385.7L248.5 371.0Z" fill="rgb(250,250,251)" stroke="rgb(250,250,251)" stroke-width="0.5"/><path d="M224 414L248.5 371.0L224.0 356.3Z" fill="rgb(236,236,237)" stroke="rgb(236,236,237)" stroke-width="0.5"/><path d="M224 414L224.0 356.3L199.5 371.0Z" fill="rgb(242,242,243)" stroke="rgb(242,242,243)" stroke-width="0.5"/><path d="M224 414L199.5 371.0L175.0 385.7Z" fill="rgb(250,250,251)" stroke="rgb(250,250,251)" stroke-width="0.5"/><path d="M224 414L175.0 385.7L175.0 414.0Z" fill="rgb(250,250,251)" stroke="rgb(250,250,251)" stroke-width="0.5"/><path d="M224 414L175.0 414.0L175.0 442.3Z" fill="rgb(250,250,251)" stroke="rgb(250,250,251)" stroke-width="0.5"/><path d="M224 414L175.0 442.3L199.5 457.0Z" fill="rgb(235,235,236)" stroke="rgb(235,235,236)" stroke-width="0.5"/><path d="M224 414L199.5 457.0L224.0 471.7Z" fill="rgb(250,250,251)" stroke="rgb(250,250,251)" stroke-width="0.5"/><path d="M224 414L224.0 471.7L248.5 457.0Z" fill="rgb(250,250,251)" stroke="rgb(250,250,251)" stroke-width="0.5"/><path d="M224 414L248.5 457.0L273.0 442.3Z" fill="rgb(243,243,244)" stroke="rgb(243,243,244)" stroke-width="0.5"/><path d="M224 414L273.0 442.3L273.0 414.0Z" fill="rgb(250,250,251)" stroke="rgb(250,250,251)" stroke-width="0.5"/><path d="M322 414L371.0 414.0L371.0 385.7Z" fill="rgb(250,250,251)" stroke="rgb(250,250,251)" stroke-width="0.5"/><path d="M322 414L371.0 385.7L346.5 371.0Z" fill="rgb(250,250,251)" stroke="rgb(250,250,251)" stroke-width="0.5"/><path d="M322 414L346.5 371.0L322.0 356.3Z" fill="rgb(236,236,237)" stroke="rgb(236,236,237)" stroke-width="0.5"/><path d="M322 414L322.0 356.3L297.5 371.0Z" fill="rgb(242,242,243)" stroke="rgb(242,242,243)" stroke-width="0.5"/><path d="M322 414L297.5 371.0L273.0 385.7Z" fill="rgb(250,250,251)" stroke="rgb(250,250,251)" stroke-width="0.5"/><path d="M322 414L273.0 385.7L273.0 414.0Z" fill="rgb(250,250,251)" stroke="rgb(250,250,251)" stroke-width="0.5"/><path d="M322 414L273.0 414.0L273.0 442.3Z" fill="rgb(250,250,251)" stroke="rgb(250,250,251)" stroke-width="0.5"/><path d="M322 414L273.0 442.3L297.5 457.0Z" fill="rgb(235,235,236)" stroke="rgb(235,235,236)" stroke-width="0.5"/><path d="M322 414L297.5 457.0L322.0 471.7Z" fill="rgb(250,250,251)" stroke="rgb(250,250,251)" stroke-width="0.5"/><path d="M322 414L322.0 471.7L346.5 457.0Z" fill="rgb(250,250,251)" stroke="rgb(250,250,251)" stroke-width="0.5"/><path d="M322 414L346.5 457.0L371.0 442.3Z" fill="rgb(243,243,244)" stroke="rgb(243,243,244)" stroke-width="0.5"/><path d="M322 414L371.0 442.3L371.0 414.0Z" fill="rgb(250,250,251)" stroke="rgb(250,250,251)" stroke-width="0.5"/><path d="M420 414L469.0 414.0L469.0 385.7Z" fill="rgb(250,250,251)" stroke="rgb(250,250,251)" stroke-width="0.5"/><path d="M420 414L469.0 385.7L444.5 371.0Z" fill="rgb(250,250,251)" stroke="rgb(250,250,251)" stroke-width="0.5"/><path d="M420 414L444.5 371.0L420.0 356.3Z" fill="rgb(236,236,237)" stroke="rgb(236,236,237)" stroke-width="0.5"/><path d="M420 414L420.0 356.3L395.5 371.0Z" fill="rgb(242,242,243)" stroke="rgb(242,242,243)" stroke-width="0.5"/><path d="M420 414L395.5 371.0L371.0 385.7Z" fill="rgb(250,250,251)" stroke="rgb(250,250,251)" stroke-width="0.5"/><path d="M420 414L371.0 385.7L371.0 414.0Z" fill="rgb(250,250,251)" stroke="rgb(250,250,251)" stroke-width="0.5"/><path d="M420 414L371.0 414.0L371.0 442.3Z" fill="rgb(250,250,251)" stroke="rgb(250,250,251)" stroke-width="0.5"/><path d="M420 414L371.0 442.3L395.5 457.0Z" fill="rgb(235,235,236)" stroke="rgb(235,235,236)" stroke-width="0.5"/><path d="M420 414L395.5 457.0L420.0 471.7Z" fill="rgb(250,250,251)" stroke="rgb(250,250,251)" stroke-width="0.5"/><path d="M420 414L420.0 471.7L444.5 457.0Z" fill="rgb(250,250,251)" stroke="rgb(250,250,251)" stroke-width="0.5"/><path d="M420 414L444.5 457.0L469.0 442.3Z" fill="rgb(243,243,244)" stroke="rgb(243,243,244)" stroke-width="0.5"/><path d="M420 414L469.0 442.3L469.0 414.0Z" fill="rgb(250,250,251)" stroke="rgb(250,250,251)" stroke-width="0.5"/><path d="M518 414L567.0 414.0L567.0 385.7Z" fill="rgb(250,250,251)" stroke="rgb(250,250,251)" stroke-width="0.5"/><path d="M518 414L567.0 385.7L542.5 371.0Z" fill="rgb(250,250,251)" stroke="rgb(250,250,251)" stroke-width="0.5"/><path d="M518 414L542.5 371.0L518.0 356.3Z" fill="rgb(236,236,237)" stroke="rgb(236,236,237)" stroke-width="0.5"/><path d="M518 414L518.0 356.3L493.5 371.0Z" fill="rgb(242,242,243)" stroke="rgb(242,242,243)" stroke-width="0.5"/><path d="M518 414L493.5 371.0L469.0 385.7Z" fill="rgb(250,250,251)" stroke="rgb(250,250,251)" stroke-width="0.5"/><path d="M518 414L469.0 385.7L469.0 414.0Z" fill="rgb(250,250,251)" stroke="rgb(250,250,251)" stroke-width="0.5"/><path d="M518 414L469.0 414.0L469.0 442.3Z" fill="rgb(250,250,251)" stroke="rgb(250,250,251)" stroke-width="0.5"/><path d="M518 414L469.0 442.3L493.5 457.0Z" fill="rgb(235,235,236)" stroke="rgb(235,235,236)" stroke-width="0.5"/><path d="M518 414L493.5 457.0L518.0 471.7Z" fill="rgb(250,250,251)" stroke="rgb(250,250,251)" stroke-width="0.5"/><path d="M518 414L518.0 471.7L542.5 457.0Z" fill="rgb(250,250,251)" stroke="rgb(250,250,251)" stroke-width="0.5"/><path d="M518 414L542.5 457.0L567.0 442.3Z" fill="rgb(243,243,244)" stroke="rgb(243,243,244)" stroke-width="0.5"/><path d="M518 414L567.0 442.3L567.0 414.0Z" fill="rgb(250,250,251)" stroke="rgb(250,250,251)" stroke-width="0.5"/><path d="M616 414L665.0 414.0L665.0 385.7Z" fill="rgb(250,250,251)" stroke="rgb(250,250,251)" stroke-width="0.5"/><path d="M616 414L665.0 385.7L640.5 371.0Z" fill="rgb(250,250,251)" stroke="rgb(250,250,251)" stroke-width="0.5"/><path d="M616 414L640.5 371.0L616.0 356.3Z" fill="rgb(236,236,237)" stroke="rgb(236,236,237)" stroke-width="0.5"/><path d="M616 414L616.0 356.3L591.5 371.0Z" fill="rgb(242,242,243)" stroke="rgb(242,242,243)" stroke-width="0.5"/><path d="M616 414L591.5 371.0L567.0 385.7Z" fill="rgb(250,250,251)" stroke="rgb(250,250,251)" stroke-width="0.5"/><path d="M616 414L567.0 385.7L567.0 414.0Z" fill="rgb(250,250,251)" stroke="rgb(250,250,251)" stroke-width="0.5"/><path d="M616 414L567.0 414.0L567.0 442.3Z" fill="rgb(250,250,251)" stroke="rgb(250,250,251)" stroke-width="0.5"/><path d="M616 414L567.0 442.3L591.5 457.0Z" fill="rgb(235,235,236)" stroke="rgb(235,235,236)" stroke-width="0.5"/><path d="M616 414L591.5 457.0L616.0 471.7Z" fill="rgb(250,250,251)" stroke="rgb(250,250,251)" stroke-width="0.5"/><path d="M616 414L616.0 471.7L640.5 457.0Z" fill="rgb(250,250,251)" stroke="rgb(250,250,251)" stroke-width="0.5"/><path d="M616 414L640.5 457.0L665.0 442.3Z" fill="rgb(243,243,244)" stroke="rgb(243,243,244)" stroke-width="0.5"/><path d="M616 414L665.0 442.3L665.0 414.0Z" fill="rgb(250,250,251)" stroke="rgb(250,250,251)" stroke-width="0.5"/><path d="M714 414L763.0 414.0L763.0 385.7Z" fill="rgb(250,250,251)" stroke="rgb(250,250,251)" stroke-width="0.5"/><path d="M714 414L763.0 385.7L738.5 371.0Z" fill="rgb(250,250,251)" stroke="rgb(250,250,251)" stroke-width="0.5"/><path d="M714 414L738.5 371.0L714.0 356.3Z" fill="rgb(236,236,237)" stroke="rgb(236,236,237)" stroke-width="0.5"/><path d="M714 414L714.0 356.3L689.5 371.0Z" fill="rgb(242,242,243)" stroke="rgb(242,242,243)" stroke-width="0.5"/><path d="M714 414L689.5 371.0L665.0 385.7Z" fill="rgb(250,250,251)" stroke="rgb(250,250,251)" stroke-width="0.5"/><path d="M714 414L665.0 385.7L665.0 414.0Z" fill="rgb(250,250,251)" stroke="rgb(250,250,251)" stroke-width="0.5"/><path d="M714 414L665.0 414.0L665.0 442.3Z" fill="rgb(250,250,251)" stroke="rgb(250,250,251)" stroke-width="0.5"/><path d="M714 414L665.0 442.3L689.5 457.0Z" fill="rgb(235,235,236)" stroke="rgb(235,235,236)" stroke-width="0.5"/><path d="M714 414L689.5 457.0L714.0 471.7Z" fill="rgb(250,250,251)" stroke="rgb(250,250,251)" stroke-width="0.5"/><path d="M714 414L714.0 471.7L738.5 457.0Z" fill="rgb(250,250,251)" stroke="rgb(250,250,251)" stroke-width="0.5"/><path d="M714 414L738.5 457.0L763.0 442.3Z" fill="rgb(243,243,244)" stroke="rgb(243,243,244)" stroke-width="0.5"/><path d="M714 414L763.0 442.3L763.0 414.0Z" fill="rgb(250,250,251)" stroke="rgb(250,250,251)" stroke-width="0.5"/><path d="M-21 500L28.0 500.0L28.0 471.7Z" fill="rgb(250,250,251)" stroke="rgb(250,250,251)" stroke-width="0.5"/><path d="M-21 500L28.0 471.7L3.5 457.0Z" fill="rgb(250,250,251)" stroke="rgb(250,250,251)" stroke-width="0.5"/><path d="M-21 500L3.5 457.0L-21.0 442.3Z" fill="rgb(236,236,237)" stroke="rgb(236,236,237)" stroke-width="0.5"/><path d="M-21 500L-21.0 442.3L-45.5 457.0Z" fill="rgb(242,242,243)" stroke="rgb(242,242,243)" stroke-width="0.5"/><path d="M-21 500L-45.5 457.0L-70.0 471.7Z" fill="rgb(250,250,251)" stroke="rgb(250,250,251)" stroke-width="0.5"/><path d="M-21 500L-70.0 471.7L-70.0 500.0Z" fill="rgb(250,250,251)" stroke="rgb(250,250,251)" stroke-width="0.5"/><path d="M-21 500L-70.0 500.0L-70.0 528.3Z" fill="rgb(250,250,251)" stroke="rgb(250,250,251)" stroke-width="0.5"/><path d="M-21 500L-70.0 528.3L-45.5 543.0Z" fill="rgb(235,235,236)" stroke="rgb(235,235,236)" stroke-width="0.5"/><path d="M-21 500L-45.5 543.0L-21.0 557.7Z" fill="rgb(250,250,251)" stroke="rgb(250,250,251)" stroke-width="0.5"/><path d="M-21 500L-21.0 557.7L3.5 543.0Z" fill="rgb(250,250,251)" stroke="rgb(250,250,251)" stroke-width="0.5"/><path d="M-21 500L3.5 543.0L28.0 528.3Z" fill="rgb(243,243,244)" stroke="rgb(243,243,244)" stroke-width="0.5"/><path d="M-21 500L28.0 528.3L28.0 500.0Z" fill="rgb(250,250,251)" stroke="rgb(250,250,251)" stroke-width="0.5"/><path d="M77 500L126.0 500.0L126.0 471.7Z" fill="rgb(250,250,251)" stroke="rgb(250,250,251)" stroke-width="0.5"/><path d="M77 500L126.0 471.7L101.5 457.0Z" fill="rgb(250,250,251)" stroke="rgb(250,250,251)" stroke-width="0.5"/><path d="M77 500L101.5 457.0L77.0 442.3Z" fill="rgb(236,236,237)" stroke="rgb(236,236,237)" stroke-width="0.5"/><path d="M77 500L77.0 442.3L52.5 457.0Z" fill="rgb(242,242,243)" stroke="rgb(242,242,243)" stroke-width="0.5"/><path d="M77 500L52.5 457.0L28.0 471.7Z" fill="rgb(250,250,251)" stroke="rgb(250,250,251)" stroke-width="0.5"/><path d="M77 500L28.0 471.7L28.0 500.0Z" fill="rgb(250,250,251)" stroke="rgb(250,250,251)" stroke-width="0.5"/><path d="M77 500L28.0 500.0L28.0 528.3Z" fill="rgb(250,250,251)" stroke="rgb(250,250,251)" stroke-width="0.5"/><path d="M77 500L28.0 528.3L52.5 543.0Z" fill="rgb(235,235,236)" stroke="rgb(235,235,236)" stroke-width="0.5"/><path d="M77 500L52.5 543.0L77.0 557.7Z" fill="rgb(250,250,251)" stroke="rgb(250,250,251)" stroke-width="0.5"/><path d="M77 500L77.0 557.7L101.5 543.0Z" fill="rgb(250,250,251)" stroke="rgb(250,250,251)" stroke-width="0.5"/><path d="M77 500L101.5 543.0L126.0 528.3Z" fill="rgb(243,243,244)" stroke="rgb(243,243,244)" stroke-width="0.5"/><path d="M77 500L126.0 528.3L126.0 500.0Z" fill="rgb(250,250,251)" stroke="rgb(250,250,251)" stroke-width="0.5"/><path d="M175 500L224.0 500.0L224.0 471.7Z" fill="rgb(250,250,251)" stroke="rgb(250,250,251)" stroke-width="0.5"/><path d="M175 500L224.0 471.7L199.5 457.0Z" fill="rgb(250,250,251)" stroke="rgb(250,250,251)" stroke-width="0.5"/><path d="M175 500L199.5 457.0L175.0 442.3Z" fill="rgb(236,236,237)" stroke="rgb(236,236,237)" stroke-width="0.5"/><path d="M175 500L175.0 442.3L150.5 457.0Z" fill="rgb(242,242,243)" stroke="rgb(242,242,243)" stroke-width="0.5"/><path d="M175 500L150.5 457.0L126.0 471.7Z" fill="rgb(250,250,251)" stroke="rgb(250,250,251)" stroke-width="0.5"/><path d="M175 500L126.0 471.7L126.0 500.0Z" fill="rgb(250,250,251)" stroke="rgb(250,250,251)" stroke-width="0.5"/><path d="M175 500L126.0 500.0L126.0 528.3Z" fill="rgb(250,250,251)" stroke="rgb(250,250,251)" stroke-width="0.5"/><path d="M175 500L126.0 528.3L150.5 543.0Z" fill="rgb(235,235,236)" stroke="rgb(235,235,236)" stroke-width="0.5"/><path d="M175 500L150.5 543.0L175.0 557.7Z" fill="rgb(250,250,251)" stroke="rgb(250,250,251)" stroke-width="0.5"/><path d="M175 500L175.0 557.7L199.5 543.0Z" fill="rgb(250,250,251)" stroke="rgb(250,250,251)" stroke-width="0.5"/><path d="M175 500L199.5 543.0L224.0 528.3Z" fill="rgb(243,243,244)" stroke="rgb(243,243,244)" stroke-width="0.5"/><path d="M175 500L224.0 528.3L224.0 500.0Z" fill="rgb(250,250,251)" stroke="rgb(250,250,251)" stroke-width="0.5"/><path d="M273 500L322.0 500.0L322.0 471.7Z" fill="rgb(250,250,251)" stroke="rgb(250,250,251)" stroke-width="0.5"/><path d="M273 500L322.0 471.7L297.5 457.0Z" fill="rgb(250,250,251)" stroke="rgb(250,250,251)" stroke-width="0.5"/><path d="M273 500L297.5 457.0L273.0 442.3Z" fill="rgb(236,236,237)" stroke="rgb(236,236,237)" stroke-width="0.5"/><path d="M273 500L273.0 442.3L248.5 457.0Z" fill="rgb(242,242,243)" stroke="rgb(242,242,243)" stroke-width="0.5"/><path d="M273 500L248.5 457.0L224.0 471.7Z" fill="rgb(250,250,251)" stroke="rgb(250,250,251)" stroke-width="0.5"/><path d="M273 500L224.0 471.7L224.0 500.0Z" fill="rgb(250,250,251)" stroke="rgb(250,250,251)" stroke-width="0.5"/><path d="M273 500L224.0 500.0L224.0 528.3Z" fill="rgb(250,250,251)" stroke="rgb(250,250,251)" stroke-width="0.5"/><path d="M273 500L224.0 528.3L248.5 543.0Z" fill="rgb(235,235,236)" stroke="rgb(235,235,236)" stroke-width="0.5"/><path d="M273 500L248.5 543.0L273.0 557.7Z" fill="rgb(250,250,251)" stroke="rgb(250,250,251)" stroke-width="0.5"/><path d="M273 500L273.0 557.7L297.5 543.0Z" fill="rgb(250,250,251)" stroke="rgb(250,250,251)" stroke-width="0.5"/><path d="M273 500L297.5 543.0L322.0 528.3Z" fill="rgb(243,243,244)" stroke="rgb(243,243,244)" stroke-width="0.5"/><path d="M273 500L322.0 528.3L322.0 500.0Z" fill="rgb(250,250,251)" stroke="rgb(250,250,251)" stroke-width="0.5"/><path d="M371 500L420.0 500.0L420.0 471.7Z" fill="rgb(250,250,251)" stroke="rgb(250,250,251)" stroke-width="0.5"/><path d="M371 500L420.0 471.7L395.5 457.0Z" fill="rgb(250,250,251)" stroke="rgb(250,250,251)" stroke-width="0.5"/><path d="M371 500L395.5 457.0L371.0 442.3Z" fill="rgb(236,236,237)" stroke="rgb(236,236,237)" stroke-width="0.5"/><path d="M371 500L371.0 442.3L346.5 457.0Z" fill="rgb(242,242,243)" stroke="rgb(242,242,243)" stroke-width="0.5"/><path d="M371 500L346.5 457.0L322.0 471.7Z" fill="rgb(250,250,251)" stroke="rgb(250,250,251)" stroke-width="0.5"/><path d="M371 500L322.0 471.7L322.0 500.0Z" fill="rgb(250,250,251)" stroke="rgb(250,250,251)" stroke-width="0.5"/><path d="M371 500L322.0 500.0L322.0 528.3Z" fill="rgb(250,250,251)" stroke="rgb(250,250,251)" stroke-width="0.5"/><path d="M371 500L322.0 528.3L346.5 543.0Z" fill="rgb(235,235,236)" stroke="rgb(235,235,236)" stroke-width="0.5"/><path d="M371 500L346.5 543.0L371.0 557.7Z" fill="rgb(250,250,251)" stroke="rgb(250,250,251)" stroke-width="0.5"/><path d="M371 500L371.0 557.7L395.5 543.0Z" fill="rgb(250,250,251)" stroke="rgb(250,250,251)" stroke-width="0.5"/><path d="M371 500L395.5 543.0L420.0 528.3Z" fill="rgb(243,243,244)" stroke="rgb(243,243,244)" stroke-width="0.5"/><path d="M371 500L420.0 528.3L420.0 500.0Z" fill="rgb(250,250,251)" stroke="rgb(250,250,251)" stroke-width="0.5"/><path d="M469 500L518.0 500.0L518.0 471.7Z" fill="rgb(250,250,251)" stroke="rgb(250,250,251)" stroke-width="0.5"/><path d="M469 500L518.0 471.7L493.5 457.0Z" fill="rgb(250,250,251)" stroke="rgb(250,250,251)" stroke-width="0.5"/><path d="M469 500L493.5 457.0L469.0 442.3Z" fill="rgb(236,236,237)" stroke="rgb(236,236,237)" stroke-width="0.5"/><path d="M469 500L469.0 442.3L444.5 457.0Z" fill="rgb(242,242,243)" stroke="rgb(242,242,243)" stroke-width="0.5"/><path d="M469 500L444.5 457.0L420.0 471.7Z" fill="rgb(250,250,251)" stroke="rgb(250,250,251)" stroke-width="0.5"/><path d="M469 500L420.0 471.7L420.0 500.0Z" fill="rgb(250,250,251)" stroke="rgb(250,250,251)" stroke-width="0.5"/><path d="M469 500L420.0 500.0L420.0 528.3Z" fill="rgb(250,250,251)" stroke="rgb(250,250,251)" stroke-width="0.5"/><path d="M469 500L420.0 528.3L444.5 543.0Z" fill="rgb(235,235,236)" stroke="rgb(235,235,236)" stroke-width="0.5"/><path d="M469 500L444.5 543.0L469.0 557.7Z" fill="rgb(250,250,251)" stroke="rgb(250,250,251)" stroke-width="0.5"/><path d="M469 500L469.0 557.7L493.5 543.0Z" fill="rgb(250,250,251)" stroke="rgb(250,250,251)" stroke-width="0.5"/><path d="M469 500L493.5 543.0L518.0 528.3Z" fill="rgb(243,243,244)" stroke="rgb(243,243,244)" stroke-width="0.5"/><path d="M469 500L518.0 528.3L518.0 500.0Z" fill="rgb(250,250,251)" stroke="rgb(250,250,251)" stroke-width="0.5"/><path d="M567 500L616.0 500.0L616.0 471.7Z" fill="rgb(250,250,251)" stroke="rgb(250,250,251)" stroke-width="0.5"/><path d="M567 500L616.0 471.7L591.5 457.0Z" fill="rgb(250,250,251)" stroke="rgb(250,250,251)" stroke-width="0.5"/><path d="M567 500L591.5 457.0L567.0 442.3Z" fill="rgb(236,236,237)" stroke="rgb(236,236,237)" stroke-width="0.5"/><path d="M567 500L567.0 442.3L542.5 457.0Z" fill="rgb(242,242,243)" stroke="rgb(242,242,243)" stroke-width="0.5"/><path d="M567 500L542.5 457.0L518.0 471.7Z" fill="rgb(250,250,251)" stroke="rgb(250,250,251)" stroke-width="0.5"/><path d="M567 500L518.0 471.7L518.0 500.0Z" fill="rgb(250,250,251)" stroke="rgb(250,250,251)" stroke-width="0.5"/><path d="M567 500L518.0 500.0L518.0 528.3Z" fill="rgb(250,250,251)" stroke="rgb(250,250,251)" stroke-width="0.5"/><path d="M567 500L518.0 528.3L542.5 543.0Z" fill="rgb(235,235,236)" stroke="rgb(235,235,236)" stroke-width="0.5"/><path d="M567 500L542.5 543.0L567.0 557.7Z" fill="rgb(250,250,251)" stroke="rgb(250,250,251)" stroke-width="0.5"/><path d="M567 500L567.0 557.7L591.5 543.0Z" fill="rgb(250,250,251)" stroke="rgb(250,250,251)" stroke-width="0.5"/><path d="M567 500L591.5 543.0L616.0 528.3Z" fill="rgb(243,243,244)" stroke="rgb(243,243,244)" stroke-width="0.5"/><path d="M567 500L616.0 528.3L616.0 500.0Z" fill="rgb(250,250,251)" stroke="rgb(250,250,251)" stroke-width="0.5"/><path d="M665 500L714.0 500.0L714.0 471.7Z" fill="rgb(250,250,251)" stroke="rgb(250,250,251)" stroke-width="0.5"/><path d="M665 500L714.0 471.7L689.5 457.0Z" fill="rgb(250,250,251)" stroke="rgb(250,250,251)" stroke-width="0.5"/><path d="M665 500L689.5 457.0L665.0 442.3Z" fill="rgb(236,236,237)" stroke="rgb(236,236,237)" stroke-width="0.5"/><path d="M665 500L665.0 442.3L640.5 457.0Z" fill="rgb(242,242,243)" stroke="rgb(242,242,243)" stroke-width="0.5"/><path d="M665 500L640.5 457.0L616.0 471.7Z" fill="rgb(250,250,251)" stroke="rgb(250,250,251)" stroke-width="0.5"/><path d="M665 500L616.0 471.7L616.0 500.0Z" fill="rgb(250,250,251)" stroke="rgb(250,250,251)" stroke-width="0.5"/><path d="M665 500L616.0 500.0L616.0 528.3Z" fill="rgb(250,250,251)" stroke="rgb(250,250,251)" stroke-width="0.5"/><path d="M665 500L616.0 528.3L640.5 543.0Z" fill="rgb(235,235,236)" stroke="rgb(235,235,236)" stroke-width="0.5"/><path d="M665 500L640.5 543.0L665.0 557.7Z" fill="rgb(250,250,251)" stroke="rgb(250,250,251)" stroke-width="0.5"/><path d="M665 500L665.0 557.7L689.5 543.0Z" fill="rgb(250,250,251)" stroke="rgb(250,250,251)" stroke-width="0.5"/><path d="M665 500L689.5 543.0L714.0 528.3Z" fill="rgb(243,243,244)" stroke="rgb(243,243,244)" stroke-width="0.5"/><path d="M665 500L714.0 528.3L714.0 500.0Z" fill="rgb(250,250,251)" stroke="rgb(250,250,251)" stroke-width="0.5"/><path d="M763 500L812.0 500.0L812.0 471.7Z" fill="rgb(250,250,251)" stroke="rgb(250,250,251)" stroke-width="0.5"/><path d="M763 500L812.0 471.7L787.5 457.0Z" fill="rgb(250,250,251)" stroke="rgb(250,250,251)" stroke-width="0.5"/><path d="M763 500L787.5 457.0L763.0 442.3Z" fill="rgb(236,236,237)" stroke="rgb(236,236,237)" stroke-width="0.5"/><path d="M763 500L763.0 442.3L738.5 457.0Z" fill="rgb(242,242,243)" stroke="rgb(242,242,243)" stroke-width="0.5"/><path d="M763 500L738.5 457.0L714.0 471.7Z" fill="rgb(250,250,251)" stroke="rgb(250,250,251)" stroke-width="0.5"/><path d="M763 500L714.0 471.7L714.0 500.0Z" fill="rgb(250,250,251)" stroke="rgb(250,250,251)" stroke-width="0.5"/><path d="M763 500L714.0 500.0L714.0 528.3Z" fill="rgb(250,250,251)" stroke="rgb(250,250,251)" stroke-width="0.5"/><path d="M763 500L714.0 528.3L738.5 543.0Z" fill="rgb(235,235,236)" stroke="rgb(235,235,236)" stroke-width="0.5"/><path d="M763 500L738.5 543.0L763.0 557.7Z" fill="rgb(250,250,251)" stroke="rgb(250,250,251)" stroke-width="0.5"/><path d="M763 500L763.0 557.7L787.5 543.0Z" fill="rgb(250,250,251)" stroke="rgb(250,250,251)" stroke-width="0.5"/><path d="M763 500L787.5 543.0L812.0 528.3Z" fill="rgb(243,243,244)" stroke="rgb(243,243,244)" stroke-width="0.5"/><path d="M763 500L812.0 528.3L812.0 500.0Z" fill="rgb(250,250,251)" stroke="rgb(250,250,251)" stroke-width="0.5"/><path d="M-70 586L-21.0 586.0L-21.0 557.7Z" fill="rgb(250,250,251)" stroke="rgb(250,250,251)" stroke-width="0.5"/><path d="M-70 586L-21.0 557.7L-45.5 543.0Z" fill="rgb(250,250,251)" stroke="rgb(250,250,251)" stroke-width="0.5"/><path d="M-70 586L-45.5 543.0L-70.0 528.3Z" fill="rgb(236,236,237)" stroke="rgb(236,236,237)" stroke-width="0.5"/><path d="M-70 586L-70.0 528.3L-94.5 543.0Z" fill="rgb(242,242,243)" stroke="rgb(242,242,243)" stroke-width="0.5"/><path d="M-70 586L-94.5 543.0L-119.0 557.7Z" fill="rgb(250,250,251)" stroke="rgb(250,250,251)" stroke-width="0.5"/><path d="M-70 586L-119.0 557.7L-119.0 586.0Z" fill="rgb(250,250,251)" stroke="rgb(250,250,251)" stroke-width="0.5"/><path d="M-70 586L-119.0 586.0L-119.0 614.3Z" fill="rgb(250,250,251)" stroke="rgb(250,250,251)" stroke-width="0.5"/><path d="M-70 586L-119.0 614.3L-94.5 629.0Z" fill="rgb(235,235,236)" stroke="rgb(235,235,236)" stroke-width="0.5"/><path d="M-70 586L-94.5 629.0L-70.0 643.7Z" fill="rgb(250,250,251)" stroke="rgb(250,250,251)" stroke-width="0.5"/><path d="M-70 586L-70.0 643.7L-45.5 629.0Z" fill="rgb(250,250,251)" stroke="rgb(250,250,251)" stroke-width="0.5"/><path d="M-70 586L-45.5 629.0L-21.0 614.3Z" fill="rgb(243,243,244)" stroke="rgb(243,243,244)" stroke-width="0.5"/><path d="M-70 586L-21.0 614.3L-21.0 586.0Z" fill="rgb(250,250,251)" stroke="rgb(250,250,251)" stroke-width="0.5"/><path d="M28 586L77.0 586.0L77.0 557.7Z" fill="rgb(250,250,251)" stroke="rgb(250,250,251)" stroke-width="0.5"/><path d="M28 586L77.0 557.7L52.5 543.0Z" fill="rgb(250,250,251)" stroke="rgb(250,250,251)" stroke-width="0.5"/><path d="M28 586L52.5 543.0L28.0 528.3Z" fill="rgb(236,236,237)" stroke="rgb(236,236,237)" stroke-width="0.5"/><path d="M28 586L28.0 528.3L3.5 543.0Z" fill="rgb(242,242,243)" stroke="rgb(242,242,243)" stroke-width="0.5"/><path d="M28 586L3.5 543.0L-21.0 557.7Z" fill="rgb(250,250,251)" stroke="rgb(250,250,251)" stroke-width="0.5"/><path d="M28 586L-21.0 557.7L-21.0 586.0Z" fill="rgb(250,250,251)" stroke="rgb(250,250,251)" stroke-width="0.5"/><path d="M28 586L-21.0 586.0L-21.0 614.3Z" fill="rgb(250,250,251)" stroke="rgb(250,250,251)" stroke-width="0.5"/><path d="M28 586L-21.0 614.3L3.5 629.0Z" fill="rgb(235,235,236)" stroke="rgb(235,235,236)" stroke-width="0.5"/><path d="M28 586L3.5 629.0L28.0 643.7Z" fill="rgb(250,250,251)" stroke="rgb(250,250,251)" stroke-width="0.5"/><path d="M28 586L28.0 643.7L52.5 629.0Z" fill="rgb(250,250,251)" stroke="rgb(250,250,251)" stroke-width="0.5"/><path d="M28 586L52.5 629.0L77.0 614.3Z" fill="rgb(243,243,244)" stroke="rgb(243,243,244)" stroke-width="0.5"/><path d="M28 586L77.0 614.3L77.0 586.0Z" fill="rgb(250,250,251)" stroke="rgb(250,250,251)" stroke-width="0.5"/><path d="M126 586L175.0 586.0L175.0 557.7Z" fill="rgb(250,250,251)" stroke="rgb(250,250,251)" stroke-width="0.5"/><path d="M126 586L175.0 557.7L150.5 543.0Z" fill="rgb(250,250,251)" stroke="rgb(250,250,251)" stroke-width="0.5"/><path d="M126 586L150.5 543.0L126.0 528.3Z" fill="rgb(236,236,237)" stroke="rgb(236,236,237)" stroke-width="0.5"/><path d="M126 586L126.0 528.3L101.5 543.0Z" fill="rgb(242,242,243)" stroke="rgb(242,242,243)" stroke-width="0.5"/><path d="M126 586L101.5 543.0L77.0 557.7Z" fill="rgb(250,250,251)" stroke="rgb(250,250,251)" stroke-width="0.5"/><path d="M126 586L77.0 557.7L77.0 586.0Z" fill="rgb(250,250,251)" stroke="rgb(250,250,251)" stroke-width="0.5"/><path d="M126 586L77.0 586.0L77.0 614.3Z" fill="rgb(250,250,251)" stroke="rgb(250,250,251)" stroke-width="0.5"/><path d="M126 586L77.0 614.3L101.5 629.0Z" fill="rgb(235,235,236)" stroke="rgb(235,235,236)" stroke-width="0.5"/><path d="M126 586L101.5 629.0L126.0 643.7Z" fill="rgb(250,250,251)" stroke="rgb(250,250,251)" stroke-width="0.5"/><path d="M126 586L126.0 643.7L150.5 629.0Z" fill="rgb(250,250,251)" stroke="rgb(250,250,251)" stroke-width="0.5"/><path d="M126 586L150.5 629.0L175.0 614.3Z" fill="rgb(243,243,244)" stroke="rgb(243,243,244)" stroke-width="0.5"/><path d="M126 586L175.0 614.3L175.0 586.0Z" fill="rgb(250,250,251)" stroke="rgb(250,250,251)" stroke-width="0.5"/><path d="M224 586L273.0 586.0L273.0 557.7Z" fill="rgb(250,250,251)" stroke="rgb(250,250,251)" stroke-width="0.5"/><path d="M224 586L273.0 557.7L248.5 543.0Z" fill="rgb(250,250,251)" stroke="rgb(250,250,251)" stroke-width="0.5"/><path d="M224 586L248.5 543.0L224.0 528.3Z" fill="rgb(236,236,237)" stroke="rgb(236,236,237)" stroke-width="0.5"/><path d="M224 586L224.0 528.3L199.5 543.0Z" fill="rgb(242,242,243)" stroke="rgb(242,242,243)" stroke-width="0.5"/><path d="M224 586L199.5 543.0L175.0 557.7Z" fill="rgb(250,250,251)" stroke="rgb(250,250,251)" stroke-width="0.5"/><path d="M224 586L175.0 557.7L175.0 586.0Z" fill="rgb(250,250,251)" stroke="rgb(250,250,251)" stroke-width="0.5"/><path d="M224 586L175.0 586.0L175.0 614.3Z" fill="rgb(250,250,251)" stroke="rgb(250,250,251)" stroke-width="0.5"/><path d="M224 586L175.0 614.3L199.5 629.0Z" fill="rgb(235,235,236)" stroke="rgb(235,235,236)" stroke-width="0.5"/><path d="M224 586L199.5 629.0L224.0 643.7Z" fill="rgb(250,250,251)" stroke="rgb(250,250,251)" stroke-width="0.5"/><path d="M224 586L224.0 643.7L248.5 629.0Z" fill="rgb(250,250,251)" stroke="rgb(250,250,251)" stroke-width="0.5"/><path d="M224 586L248.5 629.0L273.0 614.3Z" fill="rgb(243,243,244)" stroke="rgb(243,243,244)" stroke-width="0.5"/><path d="M224 586L273.0 614.3L273.0 586.0Z" fill="rgb(250,250,251)" stroke="rgb(250,250,251)" stroke-width="0.5"/><path d="M322 586L371.0 586.0L371.0 557.7Z" fill="rgb(250,250,251)" stroke="rgb(250,250,251)" stroke-width="0.5"/><path d="M322 586L371.0 557.7L346.5 543.0Z" fill="rgb(250,250,251)" stroke="rgb(250,250,251)" stroke-width="0.5"/><path d="M322 586L346.5 543.0L322.0 528.3Z" fill="rgb(236,236,237)" stroke="rgb(236,236,237)" stroke-width="0.5"/><path d="M322 586L322.0 528.3L297.5 543.0Z" fill="rgb(242,242,243)" stroke="rgb(242,242,243)" stroke-width="0.5"/><path d="M322 586L297.5 543.0L273.0 557.7Z" fill="rgb(250,250,251)" stroke="rgb(250,250,251)" stroke-width="0.5"/><path d="M322 586L273.0 557.7L273.0 586.0Z" fill="rgb(250,250,251)" stroke="rgb(250,250,251)" stroke-width="0.5"/><path d="M322 586L273.0 586.0L273.0 614.3Z" fill="rgb(250,250,251)" stroke="rgb(250,250,251)" stroke-width="0.5"/><path d="M322 586L273.0 614.3L297.5 629.0Z" fill="rgb(235,235,236)" stroke="rgb(235,235,236)" stroke-width="0.5"/><path d="M322 586L297.5 629.0L322.0 643.7Z" fill="rgb(250,250,251)" stroke="rgb(250,250,251)" stroke-width="0.5"/><path d="M322 586L322.0 643.7L346.5 629.0Z" fill="rgb(250,250,251)" stroke="rgb(250,250,251)" stroke-width="0.5"/><path d="M322 586L346.5 629.0L371.0 614.3Z" fill="rgb(243,243,244)" stroke="rgb(243,243,244)" stroke-width="0.5"/><path d="M322 586L371.0 614.3L371.0 586.0Z" fill="rgb(250,250,251)" stroke="rgb(250,250,251)" stroke-width="0.5"/><path d="M420 586L469.0 586.0L469.0 557.7Z" fill="rgb(250,250,251)" stroke="rgb(250,250,251)" stroke-width="0.5"/><path d="M420 586L469.0 557.7L444.5 543.0Z" fill="rgb(250,250,251)" stroke="rgb(250,250,251)" stroke-width="0.5"/><path d="M420 586L444.5 543.0L420.0 528.3Z" fill="rgb(236,236,237)" stroke="rgb(236,236,237)" stroke-width="0.5"/><path d="M420 586L420.0 528.3L395.5 543.0Z" fill="rgb(242,242,243)" stroke="rgb(242,242,243)" stroke-width="0.5"/><path d="M420 586L395.5 543.0L371.0 557.7Z" fill="rgb(250,250,251)" stroke="rgb(250,250,251)" stroke-width="0.5"/><path d="M420 586L371.0 557.7L371.0 586.0Z" fill="rgb(250,250,251)" stroke="rgb(250,250,251)" stroke-width="0.5"/><path d="M420 586L371.0 586.0L371.0 614.3Z" fill="rgb(250,250,251)" stroke="rgb(250,250,251)" stroke-width="0.5"/><path d="M420 586L371.0 614.3L395.5 629.0Z" fill="rgb(235,235,236)" stroke="rgb(235,235,236)" stroke-width="0.5"/><path d="M420 586L395.5 629.0L420.0 643.7Z" fill="rgb(250,250,251)" stroke="rgb(250,250,251)" stroke-width="0.5"/><path d="M420 586L420.0 643.7L444.5 629.0Z" fill="rgb(250,250,251)" stroke="rgb(250,250,251)" stroke-width="0.5"/><path d="M420 586L444.5 629.0L469.0 614.3Z" fill="rgb(243,243,244)" stroke="rgb(243,243,244)" stroke-width="0.5"/><path d="M420 586L469.0 614.3L469.0 586.0Z" fill="rgb(250,250,251)" stroke="rgb(250,250,251)" stroke-width="0.5"/><path d="M518 586L567.0 586.0L567.0 557.7Z" fill="rgb(250,250,251)" stroke="rgb(250,250,251)" stroke-width="0.5"/><path d="M518 586L567.0 557.7L542.5 543.0Z" fill="rgb(250,250,251)" stroke="rgb(250,250,251)" stroke-width="0.5"/><path d="M518 586L542.5 543.0L518.0 528.3Z" fill="rgb(236,236,237)" stroke="rgb(236,236,237)" stroke-width="0.5"/><path d="M518 586L518.0 528.3L493.5 543.0Z" fill="rgb(242,242,243)" stroke="rgb(242,242,243)" stroke-width="0.5"/><path d="M518 586L493.5 543.0L469.0 557.7Z" fill="rgb(250,250,251)" stroke="rgb(250,250,251)" stroke-width="0.5"/><path d="M518 586L469.0 557.7L469.0 586.0Z" fill="rgb(250,250,251)" stroke="rgb(250,250,251)" stroke-width="0.5"/><path d="M518 586L469.0 586.0L469.0 614.3Z" fill="rgb(250,250,251)" stroke="rgb(250,250,251)" stroke-width="0.5"/><path d="M518 586L469.0 614.3L493.5 629.0Z" fill="rgb(235,235,236)" stroke="rgb(235,235,236)" stroke-width="0.5"/><path d="M518 586L493.5 629.0L518.0 643.7Z" fill="rgb(250,250,251)" stroke="rgb(250,250,251)" stroke-width="0.5"/><path d="M518 586L518.0 643.7L542.5 629.0Z" fill="rgb(250,250,251)" stroke="rgb(250,250,251)" stroke-width="0.5"/><path d="M518 586L542.5 629.0L567.0 614.3Z" fill="rgb(243,243,244)" stroke="rgb(243,243,244)" stroke-width="0.5"/><path d="M518 586L567.0 614.3L567.0 586.0Z" fill="rgb(250,250,251)" stroke="rgb(250,250,251)" stroke-width="0.5"/><path d="M616 586L665.0 586.0L665.0 557.7Z" fill="rgb(250,250,251)" stroke="rgb(250,250,251)" stroke-width="0.5"/><path d="M616 586L665.0 557.7L640.5 543.0Z" fill="rgb(250,250,251)" stroke="rgb(250,250,251)" stroke-width="0.5"/><path d="M616 586L640.5 543.0L616.0 528.3Z" fill="rgb(236,236,237)" stroke="rgb(236,236,237)" stroke-width="0.5"/><path d="M616 586L616.0 528.3L591.5 543.0Z" fill="rgb(242,242,243)" stroke="rgb(242,242,243)" stroke-width="0.5"/><path d="M616 586L591.5 543.0L567.0 557.7Z" fill="rgb(250,250,251)" stroke="rgb(250,250,251)" stroke-width="0.5"/><path d="M616 586L567.0 557.7L567.0 586.0Z" fill="rgb(250,250,251)" stroke="rgb(250,250,251)" stroke-width="0.5"/><path d="M616 586L567.0 586.0L567.0 614.3Z" fill="rgb(250,250,251)" stroke="rgb(250,250,251)" stroke-width="0.5"/><path d="M616 586L567.0 614.3L591.5 629.0Z" fill="rgb(235,235,236)" stroke="rgb(235,235,236)" stroke-width="0.5"/><path d="M616 586L591.5 629.0L616.0 643.7Z" fill="rgb(250,250,251)" stroke="rgb(250,250,251)" stroke-width="0.5"/><path d="M616 586L616.0 643.7L640.5 629.0Z" fill="rgb(250,250,251)" stroke="rgb(250,250,251)" stroke-width="0.5"/><path d="M616 586L640.5 629.0L665.0 614.3Z" fill="rgb(243,243,244)" stroke="rgb(243,243,244)" stroke-width="0.5"/><path d="M616 586L665.0 614.3L665.0 586.0Z" fill="rgb(250,250,251)" stroke="rgb(250,250,251)" stroke-width="0.5"/><path d="M714 586L763.0 586.0L763.0 557.7Z" fill="rgb(250,250,251)" stroke="rgb(250,250,251)" stroke-width="0.5"/><path d="M714 586L763.0 557.7L738.5 543.0Z" fill="rgb(250,250,251)" stroke="rgb(250,250,251)" stroke-width="0.5"/><path d="M714 586L738.5 543.0L714.0 528.3Z" fill="rgb(236,236,237)" stroke="rgb(236,236,237)" stroke-width="0.5"/><path d="M714 586L714.0 528.3L689.5 543.0Z" fill="rgb(242,242,243)" stroke="rgb(242,242,243)" stroke-width="0.5"/><path d="M714 586L689.5 543.0L665.0 557.7Z" fill="rgb(250,250,251)" stroke="rgb(250,250,251)" stroke-width="0.5"/><path d="M714 586L665.0 557.7L665.0 586.0Z" fill="rgb(250,250,251)" stroke="rgb(250,250,251)" stroke-width="0.5"/><path d="M714 586L665.0 586.0L665.0 614.3Z" fill="rgb(250,250,251)" stroke="rgb(250,250,251)" stroke-width="0.5"/><path d="M714 586L665.0 614.3L689.5 629.0Z" fill="rgb(235,235,236)" stroke="rgb(235,235,236)" stroke-width="0.5"/><path d="M714 586L689.5 629.0L714.0 643.7Z" fill="rgb(250,250,251)" stroke="rgb(250,250,251)" stroke-width="0.5"/><path d="M714 586L714.0 643.7L738.5 629.0Z" fill="rgb(250,250,251)" stroke="rgb(250,250,251)" stroke-width="0.5"/><path d="M714 586L738.5 629.0L763.0 614.3Z" fill="rgb(243,243,244)" stroke="rgb(243,243,244)" stroke-width="0.5"/><path d="M714 586L763.0 614.3L763.0 586.0Z" fill="rgb(250,250,251)" stroke="rgb(250,250,251)" stroke-width="0.5"/><path d="M-21 672L28.0 672.0L28.0 643.7Z" fill="rgb(250,250,251)" stroke="rgb(250,250,251)" stroke-width="0.5"/><path d="M-21 672L28.0 643.7L3.5 629.0Z" fill="rgb(250,250,251)" stroke="rgb(250,250,251)" stroke-width="0.5"/><path d="M-21 672L3.5 629.0L-21.0 614.3Z" fill="rgb(236,236,237)" stroke="rgb(236,236,237)" stroke-width="0.5"/><path d="M-21 672L-21.0 614.3L-45.5 629.0Z" fill="rgb(242,242,243)" stroke="rgb(242,242,243)" stroke-width="0.5"/><path d="M-21 672L-45.5 629.0L-70.0 643.7Z" fill="rgb(250,250,251)" stroke="rgb(250,250,251)" stroke-width="0.5"/><path d="M-21 672L-70.0 643.7L-70.0 672.0Z" fill="rgb(250,250,251)" stroke="rgb(250,250,251)" stroke-width="0.5"/><path d="M-21 672L-70.0 672.0L-70.0 700.3Z" fill="rgb(250,250,251)" stroke="rgb(250,250,251)" stroke-width="0.5"/><path d="M-21 672L-70.0 700.3L-45.5 715.0Z" fill="rgb(235,235,236)" stroke="rgb(235,235,236)" stroke-width="0.5"/><path d="M-21 672L-45.5 715.0L-21.0 729.7Z" fill="rgb(250,250,251)" stroke="rgb(250,250,251)" stroke-width="0.5"/><path d="M-21 672L-21.0 729.7L3.5 715.0Z" fill="rgb(250,250,251)" stroke="rgb(250,250,251)" stroke-width="0.5"/><path d="M-21 672L3.5 715.0L28.0 700.3Z" fill="rgb(243,243,244)" stroke="rgb(243,243,244)" stroke-width="0.5"/><path d="M-21 672L28.0 700.3L28.0 672.0Z" fill="rgb(250,250,251)" stroke="rgb(250,250,251)" stroke-width="0.5"/><path d="M77 672L126.0 672.0L126.0 643.7Z" fill="rgb(250,250,251)" stroke="rgb(250,250,251)" stroke-width="0.5"/><path d="M77 672L126.0 643.7L101.5 629.0Z" fill="rgb(250,250,251)" stroke="rgb(250,250,251)" stroke-width="0.5"/><path d="M77 672L101.5 629.0L77.0 614.3Z" fill="rgb(236,236,237)" stroke="rgb(236,236,237)" stroke-width="0.5"/><path d="M77 672L77.0 614.3L52.5 629.0Z" fill="rgb(242,242,243)" stroke="rgb(242,242,243)" stroke-width="0.5"/><path d="M77 672L52.5 629.0L28.0 643.7Z" fill="rgb(250,250,251)" stroke="rgb(250,250,251)" stroke-width="0.5"/><path d="M77 672L28.0 643.7L28.0 672.0Z" fill="rgb(250,250,251)" stroke="rgb(250,250,251)" stroke-width="0.5"/><path d="M77 672L28.0 672.0L28.0 700.3Z" fill="rgb(250,250,251)" stroke="rgb(250,250,251)" stroke-width="0.5"/><path d="M77 672L28.0 700.3L52.5 715.0Z" fill="rgb(235,235,236)" stroke="rgb(235,235,236)" stroke-width="0.5"/><path d="M77 672L52.5 715.0L77.0 729.7Z" fill="rgb(250,250,251)" stroke="rgb(250,250,251)" stroke-width="0.5"/><path d="M77 672L77.0 729.7L101.5 715.0Z" fill="rgb(250,250,251)" stroke="rgb(250,250,251)" stroke-width="0.5"/><path d="M77 672L101.5 715.0L126.0 700.3Z" fill="rgb(243,243,244)" stroke="rgb(243,243,244)" stroke-width="0.5"/><path d="M77 672L126.0 700.3L126.0 672.0Z" fill="rgb(250,250,251)" stroke="rgb(250,250,251)" stroke-width="0.5"/><path d="M175 672L224.0 672.0L224.0 643.7Z" fill="rgb(250,250,251)" stroke="rgb(250,250,251)" stroke-width="0.5"/><path d="M175 672L224.0 643.7L199.5 629.0Z" fill="rgb(250,250,251)" stroke="rgb(250,250,251)" stroke-width="0.5"/><path d="M175 672L199.5 629.0L175.0 614.3Z" fill="rgb(236,236,237)" stroke="rgb(236,236,237)" stroke-width="0.5"/><path d="M175 672L175.0 614.3L150.5 629.0Z" fill="rgb(242,242,243)" stroke="rgb(242,242,243)" stroke-width="0.5"/><path d="M175 672L150.5 629.0L126.0 643.7Z" fill="rgb(250,250,251)" stroke="rgb(250,250,251)" stroke-width="0.5"/><path d="M175 672L126.0 643.7L126.0 672.0Z" fill="rgb(250,250,251)" stroke="rgb(250,250,251)" stroke-width="0.5"/><path d="M175 672L126.0 672.0L126.0 700.3Z" fill="rgb(250,250,251)" stroke="rgb(250,250,251)" stroke-width="0.5"/><path d="M175 672L126.0 700.3L150.5 715.0Z" fill="rgb(235,235,236)" stroke="rgb(235,235,236)" stroke-width="0.5"/><path d="M175 672L150.5 715.0L175.0 729.7Z" fill="rgb(250,250,251)" stroke="rgb(250,250,251)" stroke-width="0.5"/><path d="M175 672L175.0 729.7L199.5 715.0Z" fill="rgb(250,250,251)" stroke="rgb(250,250,251)" stroke-width="0.5"/><path d="M175 672L199.5 715.0L224.0 700.3Z" fill="rgb(243,243,244)" stroke="rgb(243,243,244)" stroke-width="0.5"/><path d="M175 672L224.0 700.3L224.0 672.0Z" fill="rgb(250,250,251)" stroke="rgb(250,250,251)" stroke-width="0.5"/><path d="M273 672L322.0 672.0L322.0 643.7Z" fill="rgb(250,250,251)" stroke="rgb(250,250,251)" stroke-width="0.5"/><path d="M273 672L322.0 643.7L297.5 629.0Z" fill="rgb(250,250,251)" stroke="rgb(250,250,251)" stroke-width="0.5"/><path d="M273 672L297.5 629.0L273.0 614.3Z" fill="rgb(236,236,237)" stroke="rgb(236,236,237)" stroke-width="0.5"/><path d="M273 672L273.0 614.3L248.5 629.0Z" fill="rgb(242,242,243)" stroke="rgb(242,242,243)" stroke-width="0.5"/><path d="M273 672L248.5 629.0L224.0 643.7Z" fill="rgb(250,250,251)" stroke="rgb(250,250,251)" stroke-width="0.5"/><path d="M273 672L224.0 643.7L224.0 672.0Z" fill="rgb(250,250,251)" stroke="rgb(250,250,251)" stroke-width="0.5"/><path d="M273 672L224.0 672.0L224.0 700.3Z" fill="rgb(250,250,251)" stroke="rgb(250,250,251)" stroke-width="0.5"/><path d="M273 672L224.0 700.3L248.5 715.0Z" fill="rgb(235,235,236)" stroke="rgb(235,235,236)" stroke-width="0.5"/><path d="M273 672L248.5 715.0L273.0 729.7Z" fill="rgb(250,250,251)" stroke="rgb(250,250,251)" stroke-width="0.5"/><path d="M273 672L273.0 729.7L297.5 715.0Z" fill="rgb(250,250,251)" stroke="rgb(250,250,251)" stroke-width="0.5"/><path d="M273 672L297.5 715.0L322.0 700.3Z" fill="rgb(243,243,244)" stroke="rgb(243,243,244)" stroke-width="0.5"/><path d="M273 672L322.0 700.3L322.0 672.0Z" fill="rgb(250,250,251)" stroke="rgb(250,250,251)" stroke-width="0.5"/><path d="M371 672L420.0 672.0L420.0 643.7Z" fill="rgb(250,250,251)" stroke="rgb(250,250,251)" stroke-width="0.5"/><path d="M371 672L420.0 643.7L395.5 629.0Z" fill="rgb(250,250,251)" stroke="rgb(250,250,251)" stroke-width="0.5"/><path d="M371 672L395.5 629.0L371.0 614.3Z" fill="rgb(236,236,237)" stroke="rgb(236,236,237)" stroke-width="0.5"/><path d="M371 672L371.0 614.3L346.5 629.0Z" fill="rgb(242,242,243)" stroke="rgb(242,242,243)" stroke-width="0.5"/><path d="M371 672L346.5 629.0L322.0 643.7Z" fill="rgb(250,250,251)" stroke="rgb(250,250,251)" stroke-width="0.5"/><path d="M371 672L322.0 643.7L322.0 672.0Z" fill="rgb(250,250,251)" stroke="rgb(250,250,251)" stroke-width="0.5"/><path d="M371 672L322.0 672.0L322.0 700.3Z" fill="rgb(250,250,251)" stroke="rgb(250,250,251)" stroke-width="0.5"/><path d="M371 672L322.0 700.3L346.5 715.0Z" fill="rgb(235,235,236)" stroke="rgb(235,235,236)" stroke-width="0.5"/><path d="M371 672L346.5 715.0L371.0 729.7Z" fill="rgb(250,250,251)" stroke="rgb(250,250,251)" stroke-width="0.5"/><path d="M371 672L371.0 729.7L395.5 715.0Z" fill="rgb(250,250,251)" stroke="rgb(250,250,251)" stroke-width="0.5"/><path d="M371 672L395.5 715.0L420.0 700.3Z" fill="rgb(243,243,244)" stroke="rgb(243,243,244)" stroke-width="0.5"/><path d="M371 672L420.0 700.3L420.0 672.0Z" fill="rgb(250,250,251)" stroke="rgb(250,250,251)" stroke-width="0.5"/><path d="M469 672L518.0 672.0L518.0 643.7Z" fill="rgb(250,250,251)" stroke="rgb(250,250,251)" stroke-width="0.5"/><path d="M469 672L518.0 643.7L493.5 629.0Z" fill="rgb(250,250,251)" stroke="rgb(250,250,251)" stroke-width="0.5"/><path d="M469 672L493.5 629.0L469.0 614.3Z" fill="rgb(236,236,237)" stroke="rgb(236,236,237)" stroke-width="0.5"/><path d="M469 672L469.0 614.3L444.5 629.0Z" fill="rgb(242,242,243)" stroke="rgb(242,242,243)" stroke-width="0.5"/><path d="M469 672L444.5 629.0L420.0 643.7Z" fill="rgb(250,250,251)" stroke="rgb(250,250,251)" stroke-width="0.5"/><path d="M469 672L420.0 643.7L420.0 672.0Z" fill="rgb(250,250,251)" stroke="rgb(250,250,251)" stroke-width="0.5"/><path d="M469 672L420.0 672.0L420.0 700.3Z" fill="rgb(250,250,251)" stroke="rgb(250,250,251)" stroke-width="0.5"/><path d="M469 672L420.0 700.3L444.5 715.0Z" fill="rgb(235,235,236)" stroke="rgb(235,235,236)" stroke-width="0.5"/><path d="M469 672L444.5 715.0L469.0 729.7Z" fill="rgb(250,250,251)" stroke="rgb(250,250,251)" stroke-width="0.5"/><path d="M469 672L469.0 729.7L493.5 715.0Z" fill="rgb(250,250,251)" stroke="rgb(250,250,251)" stroke-width="0.5"/><path d="M469 672L493.5 715.0L518.0 700.3Z" fill="rgb(243,243,244)" stroke="rgb(243,243,244)" stroke-width="0.5"/><path d="M469 672L518.0 700.3L518.0 672.0Z" fill="rgb(250,250,251)" stroke="rgb(250,250,251)" stroke-width="0.5"/><path d="M567 672L616.0 672.0L616.0 643.7Z" fill="rgb(250,250,251)" stroke="rgb(250,250,251)" stroke-width="0.5"/><path d="M567 672L616.0 643.7L591.5 629.0Z" fill="rgb(250,250,251)" stroke="rgb(250,250,251)" stroke-width="0.5"/><path d="M567 672L591.5 629.0L567.0 614.3Z" fill="rgb(236,236,237)" stroke="rgb(236,236,237)" stroke-width="0.5"/><path d="M567 672L567.0 614.3L542.5 629.0Z" fill="rgb(242,242,243)" stroke="rgb(242,242,243)" stroke-width="0.5"/><path d="M567 672L542.5 629.0L518.0 643.7Z" fill="rgb(250,250,251)" stroke="rgb(250,250,251)" stroke-width="0.5"/><path d="M567 672L518.0 643.7L518.0 672.0Z" fill="rgb(250,250,251)" stroke="rgb(250,250,251)" stroke-width="0.5"/><path d="M567 672L518.0 672.0L518.0 700.3Z" fill="rgb(250,250,251)" stroke="rgb(250,250,251)" stroke-width="0.5"/><path d="M567 672L518.0 700.3L542.5 715.0Z" fill="rgb(235,235,236)" stroke="rgb(235,235,236)" stroke-width="0.5"/><path d="M567 672L542.5 715.0L567.0 729.7Z" fill="rgb(250,250,251)" stroke="rgb(250,250,251)" stroke-width="0.5"/><path d="M567 672L567.0 729.7L591.5 715.0Z" fill="rgb(250,250,251)" stroke="rgb(250,250,251)" stroke-width="0.5"/><path d="M567 672L591.5 715.0L616.0 700.3Z" fill="rgb(243,243,244)" stroke="rgb(243,243,244)" stroke-width="0.5"/><path d="M567 672L616.0 700.3L616.0 672.0Z" fill="rgb(250,250,251)" stroke="rgb(250,250,251)" stroke-width="0.5"/><path d="M665 672L714.0 672.0L714.0 643.7Z" fill="rgb(250,250,251)" stroke="rgb(250,250,251)" stroke-width="0.5"/><path d="M665 672L714.0 643.7L689.5 629.0Z" fill="rgb(250,250,251)" stroke="rgb(250,250,251)" stroke-width="0.5"/><path d="M665 672L689.5 629.0L665.0 614.3Z" fill="rgb(236,236,237)" stroke="rgb(236,236,237)" stroke-width="0.5"/><path d="M665 672L665.0 614.3L640.5 629.0Z" fill="rgb(242,242,243)" stroke="rgb(242,242,243)" stroke-width="0.5"/><path d="M665 672L640.5 629.0L616.0 643.7Z" fill="rgb(250,250,251)" stroke="rgb(250,250,251)" stroke-width="0.5"/><path d="M665 672L616.0 643.7L616.0 672.0Z" fill="rgb(250,250,251)" stroke="rgb(250,250,251)" stroke-width="0.5"/><path d="M665 672L616.0 672.0L616.0 700.3Z" fill="rgb(250,250,251)" stroke="rgb(250,250,251)" stroke-width="0.5"/><path d="M665 672L616.0 700.3L640.5 715.0Z" fill="rgb(235,235,236)" stroke="rgb(235,235,236)" stroke-width="0.5"/><path d="M665 672L640.5 715.0L665.0 729.7Z" fill="rgb(250,250,251)" stroke="rgb(250,250,251)" stroke-width="0.5"/><path d="M665 672L665.0 729.7L689.5 715.0Z" fill="rgb(250,250,251)" stroke="rgb(250,250,251)" stroke-width="0.5"/><path d="M665 672L689.5 715.0L714.0 700.3Z" fill="rgb(243,243,244)" stroke="rgb(243,243,244)" stroke-width="0.5"/><path d="M665 672L714.0 700.3L714.0 672.0Z" fill="rgb(250,250,251)" stroke="rgb(250,250,251)" stroke-width="0.5"/><path d="M763 672L812.0 672.0L812.0 643.7Z" fill="rgb(250,250,251)" stroke="rgb(250,250,251)" stroke-width="0.5"/><path d="M763 672L812.0 643.7L787.5 629.0Z" fill="rgb(250,250,251)" stroke="rgb(250,250,251)" stroke-width="0.5"/><path d="M763 672L787.5 629.0L763.0 614.3Z" fill="rgb(236,236,237)" stroke="rgb(236,236,237)" stroke-width="0.5"/><path d="M763 672L763.0 614.3L738.5 629.0Z" fill="rgb(242,242,243)" stroke="rgb(242,242,243)" stroke-width="0.5"/><path d="M763 672L738.5 629.0L714.0 643.7Z" fill="rgb(250,250,251)" stroke="rgb(250,250,251)" stroke-width="0.5"/><path d="M763 672L714.0 643.7L714.0 672.0Z" fill="rgb(250,250,251)" stroke="rgb(250,250,251)" stroke-width="0.5"/><path d="M763 672L714.0 672.0L714.0 700.3Z" fill="rgb(250,250,251)" stroke="rgb(250,250,251)" stroke-width="0.5"/><path d="M763 672L714.0 700.3L738.5 715.0Z" fill="rgb(235,235,236)" stroke="rgb(235,235,236)" stroke-width="0.5"/><path d="M763 672L738.5 715.0L763.0 729.7Z" fill="rgb(250,250,251)" stroke="rgb(250,250,251)" stroke-width="0.5"/><path d="M763 672L763.0 729.7L787.5 715.0Z" fill="rgb(250,250,251)" stroke="rgb(250,250,251)" stroke-width="0.5"/><path d="M763 672L787.5 715.0L812.0 700.3Z" fill="rgb(243,243,244)" stroke="rgb(243,243,244)" stroke-width="0.5"/><path d="M763 672L812.0 700.3L812.0 672.0Z" fill="rgb(250,250,251)" stroke="rgb(250,250,251)" stroke-width="0.5"/></g></g>
  <rect x="300" y="0" width="300" height="511" fill="#cf343d"/>
  <g id="patR" clip-path="url(#clipR)"><g filter="url(#pblur)"><path d="M-21 -16L28.0 -16.0L28.0 -44.3Z" fill="rgb(200,50,59)" stroke="rgb(200,50,59)" stroke-width="0.5"/><path d="M-21 -16L28.0 -44.3L3.5 -59.0Z" fill="rgb(208,52,61)" stroke="rgb(208,52,61)" stroke-width="0.5"/><path d="M-21 -16L3.5 -59.0L-21.0 -73.7Z" fill="rgb(208,52,61)" stroke="rgb(208,52,61)" stroke-width="0.5"/><path d="M-21 -16L-21.0 -73.7L-45.5 -59.0Z" fill="rgb(208,52,61)" stroke="rgb(208,52,61)" stroke-width="0.5"/><path d="M-21 -16L-45.5 -59.0L-70.0 -44.3Z" fill="rgb(208,52,61)" stroke="rgb(208,52,61)" stroke-width="0.5"/><path d="M-21 -16L-70.0 -44.3L-70.0 -16.0Z" fill="rgb(200,50,59)" stroke="rgb(200,50,59)" stroke-width="0.5"/><path d="M-21 -16L-70.0 -16.0L-70.0 12.3Z" fill="rgb(202,51,60)" stroke="rgb(202,51,60)" stroke-width="0.5"/><path d="M-21 -16L-70.0 12.3L-45.5 27.0Z" fill="rgb(208,52,61)" stroke="rgb(208,52,61)" stroke-width="0.5"/><path d="M-21 -16L-45.5 27.0L-21.0 41.7Z" fill="rgb(208,52,61)" stroke="rgb(208,52,61)" stroke-width="0.5"/><path d="M-21 -16L-21.0 41.7L3.5 27.0Z" fill="rgb(208,52,61)" stroke="rgb(208,52,61)" stroke-width="0.5"/><path d="M-21 -16L3.5 27.0L28.0 12.3Z" fill="rgb(208,52,61)" stroke="rgb(208,52,61)" stroke-width="0.5"/><path d="M-21 -16L28.0 12.3L28.0 -16.0Z" fill="rgb(202,51,60)" stroke="rgb(202,51,60)" stroke-width="0.5"/><path d="M77 -16L126.0 -16.0L126.0 -44.3Z" fill="rgb(200,50,59)" stroke="rgb(200,50,59)" stroke-width="0.5"/><path d="M77 -16L126.0 -44.3L101.5 -59.0Z" fill="rgb(208,52,61)" stroke="rgb(208,52,61)" stroke-width="0.5"/><path d="M77 -16L101.5 -59.0L77.0 -73.7Z" fill="rgb(208,52,61)" stroke="rgb(208,52,61)" stroke-width="0.5"/><path d="M77 -16L77.0 -73.7L52.5 -59.0Z" fill="rgb(208,52,61)" stroke="rgb(208,52,61)" stroke-width="0.5"/><path d="M77 -16L52.5 -59.0L28.0 -44.3Z" fill="rgb(208,52,61)" stroke="rgb(208,52,61)" stroke-width="0.5"/><path d="M77 -16L28.0 -44.3L28.0 -16.0Z" fill="rgb(200,50,59)" stroke="rgb(200,50,59)" stroke-width="0.5"/><path d="M77 -16L28.0 -16.0L28.0 12.3Z" fill="rgb(202,51,60)" stroke="rgb(202,51,60)" stroke-width="0.5"/><path d="M77 -16L28.0 12.3L52.5 27.0Z" fill="rgb(208,52,61)" stroke="rgb(208,52,61)" stroke-width="0.5"/><path d="M77 -16L52.5 27.0L77.0 41.7Z" fill="rgb(208,52,61)" stroke="rgb(208,52,61)" stroke-width="0.5"/><path d="M77 -16L77.0 41.7L101.5 27.0Z" fill="rgb(208,52,61)" stroke="rgb(208,52,61)" stroke-width="0.5"/><path d="M77 -16L101.5 27.0L126.0 12.3Z" fill="rgb(208,52,61)" stroke="rgb(208,52,61)" stroke-width="0.5"/><path d="M77 -16L126.0 12.3L126.0 -16.0Z" fill="rgb(202,51,60)" stroke="rgb(202,51,60)" stroke-width="0.5"/><path d="M175 -16L224.0 -16.0L224.0 -44.3Z" fill="rgb(200,50,59)" stroke="rgb(200,50,59)" stroke-width="0.5"/><path d="M175 -16L224.0 -44.3L199.5 -59.0Z" fill="rgb(208,52,61)" stroke="rgb(208,52,61)" stroke-width="0.5"/><path d="M175 -16L199.5 -59.0L175.0 -73.7Z" fill="rgb(208,52,61)" stroke="rgb(208,52,61)" stroke-width="0.5"/><path d="M175 -16L175.0 -73.7L150.5 -59.0Z" fill="rgb(208,52,61)" stroke="rgb(208,52,61)" stroke-width="0.5"/><path d="M175 -16L150.5 -59.0L126.0 -44.3Z" fill="rgb(208,52,61)" stroke="rgb(208,52,61)" stroke-width="0.5"/><path d="M175 -16L126.0 -44.3L126.0 -16.0Z" fill="rgb(200,50,59)" stroke="rgb(200,50,59)" stroke-width="0.5"/><path d="M175 -16L126.0 -16.0L126.0 12.3Z" fill="rgb(202,51,60)" stroke="rgb(202,51,60)" stroke-width="0.5"/><path d="M175 -16L126.0 12.3L150.5 27.0Z" fill="rgb(208,52,61)" stroke="rgb(208,52,61)" stroke-width="0.5"/><path d="M175 -16L150.5 27.0L175.0 41.7Z" fill="rgb(208,52,61)" stroke="rgb(208,52,61)" stroke-width="0.5"/><path d="M175 -16L175.0 41.7L199.5 27.0Z" fill="rgb(208,52,61)" stroke="rgb(208,52,61)" stroke-width="0.5"/><path d="M175 -16L199.5 27.0L224.0 12.3Z" fill="rgb(208,52,61)" stroke="rgb(208,52,61)" stroke-width="0.5"/><path d="M175 -16L224.0 12.3L224.0 -16.0Z" fill="rgb(202,51,60)" stroke="rgb(202,51,60)" stroke-width="0.5"/><path d="M273 -16L322.0 -16.0L322.0 -44.3Z" fill="rgb(200,50,59)" stroke="rgb(200,50,59)" stroke-width="0.5"/><path d="M273 -16L322.0 -44.3L297.5 -59.0Z" fill="rgb(208,52,61)" stroke="rgb(208,52,61)" stroke-width="0.5"/><path d="M273 -16L297.5 -59.0L273.0 -73.7Z" fill="rgb(208,52,61)" stroke="rgb(208,52,61)" stroke-width="0.5"/><path d="M273 -16L273.0 -73.7L248.5 -59.0Z" fill="rgb(208,52,61)" stroke="rgb(208,52,61)" stroke-width="0.5"/><path d="M273 -16L248.5 -59.0L224.0 -44.3Z" fill="rgb(208,52,61)" stroke="rgb(208,52,61)" stroke-width="0.5"/><path d="M273 -16L224.0 -44.3L224.0 -16.0Z" fill="rgb(200,50,59)" stroke="rgb(200,50,59)" stroke-width="0.5"/><path d="M273 -16L224.0 -16.0L224.0 12.3Z" fill="rgb(202,51,60)" stroke="rgb(202,51,60)" stroke-width="0.5"/><path d="M273 -16L224.0 12.3L248.5 27.0Z" fill="rgb(208,52,61)" stroke="rgb(208,52,61)" stroke-width="0.5"/><path d="M273 -16L248.5 27.0L273.0 41.7Z" fill="rgb(208,52,61)" stroke="rgb(208,52,61)" stroke-width="0.5"/><path d="M273 -16L273.0 41.7L297.5 27.0Z" fill="rgb(208,52,61)" stroke="rgb(208,52,61)" stroke-width="0.5"/><path d="M273 -16L297.5 27.0L322.0 12.3Z" fill="rgb(208,52,61)" stroke="rgb(208,52,61)" stroke-width="0.5"/><path d="M273 -16L322.0 12.3L322.0 -16.0Z" fill="rgb(202,51,60)" stroke="rgb(202,51,60)" stroke-width="0.5"/><path d="M371 -16L420.0 -16.0L420.0 -44.3Z" fill="rgb(200,50,59)" stroke="rgb(200,50,59)" stroke-width="0.5"/><path d="M371 -16L420.0 -44.3L395.5 -59.0Z" fill="rgb(208,52,61)" stroke="rgb(208,52,61)" stroke-width="0.5"/><path d="M371 -16L395.5 -59.0L371.0 -73.7Z" fill="rgb(208,52,61)" stroke="rgb(208,52,61)" stroke-width="0.5"/><path d="M371 -16L371.0 -73.7L346.5 -59.0Z" fill="rgb(208,52,61)" stroke="rgb(208,52,61)" stroke-width="0.5"/><path d="M371 -16L346.5 -59.0L322.0 -44.3Z" fill="rgb(208,52,61)" stroke="rgb(208,52,61)" stroke-width="0.5"/><path d="M371 -16L322.0 -44.3L322.0 -16.0Z" fill="rgb(200,50,59)" stroke="rgb(200,50,59)" stroke-width="0.5"/><path d="M371 -16L322.0 -16.0L322.0 12.3Z" fill="rgb(202,51,60)" stroke="rgb(202,51,60)" stroke-width="0.5"/><path d="M371 -16L322.0 12.3L346.5 27.0Z" fill="rgb(208,52,61)" stroke="rgb(208,52,61)" stroke-width="0.5"/><path d="M371 -16L346.5 27.0L371.0 41.7Z" fill="rgb(208,52,61)" stroke="rgb(208,52,61)" stroke-width="0.5"/><path d="M371 -16L371.0 41.7L395.5 27.0Z" fill="rgb(208,52,61)" stroke="rgb(208,52,61)" stroke-width="0.5"/><path d="M371 -16L395.5 27.0L420.0 12.3Z" fill="rgb(208,52,61)" stroke="rgb(208,52,61)" stroke-width="0.5"/><path d="M371 -16L420.0 12.3L420.0 -16.0Z" fill="rgb(202,51,60)" stroke="rgb(202,51,60)" stroke-width="0.5"/><path d="M469 -16L518.0 -16.0L518.0 -44.3Z" fill="rgb(200,50,59)" stroke="rgb(200,50,59)" stroke-width="0.5"/><path d="M469 -16L518.0 -44.3L493.5 -59.0Z" fill="rgb(208,52,61)" stroke="rgb(208,52,61)" stroke-width="0.5"/><path d="M469 -16L493.5 -59.0L469.0 -73.7Z" fill="rgb(208,52,61)" stroke="rgb(208,52,61)" stroke-width="0.5"/><path d="M469 -16L469.0 -73.7L444.5 -59.0Z" fill="rgb(208,52,61)" stroke="rgb(208,52,61)" stroke-width="0.5"/><path d="M469 -16L444.5 -59.0L420.0 -44.3Z" fill="rgb(208,52,61)" stroke="rgb(208,52,61)" stroke-width="0.5"/><path d="M469 -16L420.0 -44.3L420.0 -16.0Z" fill="rgb(200,50,59)" stroke="rgb(200,50,59)" stroke-width="0.5"/><path d="M469 -16L420.0 -16.0L420.0 12.3Z" fill="rgb(202,51,60)" stroke="rgb(202,51,60)" stroke-width="0.5"/><path d="M469 -16L420.0 12.3L444.5 27.0Z" fill="rgb(208,52,61)" stroke="rgb(208,52,61)" stroke-width="0.5"/><path d="M469 -16L444.5 27.0L469.0 41.7Z" fill="rgb(208,52,61)" stroke="rgb(208,52,61)" stroke-width="0.5"/><path d="M469 -16L469.0 41.7L493.5 27.0Z" fill="rgb(208,52,61)" stroke="rgb(208,52,61)" stroke-width="0.5"/><path d="M469 -16L493.5 27.0L518.0 12.3Z" fill="rgb(208,52,61)" stroke="rgb(208,52,61)" stroke-width="0.5"/><path d="M469 -16L518.0 12.3L518.0 -16.0Z" fill="rgb(202,51,60)" stroke="rgb(202,51,60)" stroke-width="0.5"/><path d="M567 -16L616.0 -16.0L616.0 -44.3Z" fill="rgb(200,50,59)" stroke="rgb(200,50,59)" stroke-width="0.5"/><path d="M567 -16L616.0 -44.3L591.5 -59.0Z" fill="rgb(208,52,61)" stroke="rgb(208,52,61)" stroke-width="0.5"/><path d="M567 -16L591.5 -59.0L567.0 -73.7Z" fill="rgb(208,52,61)" stroke="rgb(208,52,61)" stroke-width="0.5"/><path d="M567 -16L567.0 -73.7L542.5 -59.0Z" fill="rgb(208,52,61)" stroke="rgb(208,52,61)" stroke-width="0.5"/><path d="M567 -16L542.5 -59.0L518.0 -44.3Z" fill="rgb(208,52,61)" stroke="rgb(208,52,61)" stroke-width="0.5"/><path d="M567 -16L518.0 -44.3L518.0 -16.0Z" fill="rgb(200,50,59)" stroke="rgb(200,50,59)" stroke-width="0.5"/><path d="M567 -16L518.0 -16.0L518.0 12.3Z" fill="rgb(202,51,60)" stroke="rgb(202,51,60)" stroke-width="0.5"/><path d="M567 -16L518.0 12.3L542.5 27.0Z" fill="rgb(208,52,61)" stroke="rgb(208,52,61)" stroke-width="0.5"/><path d="M567 -16L542.5 27.0L567.0 41.7Z" fill="rgb(208,52,61)" stroke="rgb(208,52,61)" stroke-width="0.5"/><path d="M567 -16L567.0 41.7L591.5 27.0Z" fill="rgb(208,52,61)" stroke="rgb(208,52,61)" stroke-width="0.5"/><path d="M567 -16L591.5 27.0L616.0 12.3Z" fill="rgb(208,52,61)" stroke="rgb(208,52,61)" stroke-width="0.5"/><path d="M567 -16L616.0 12.3L616.0 -16.0Z" fill="rgb(202,51,60)" stroke="rgb(202,51,60)" stroke-width="0.5"/><path d="M665 -16L714.0 -16.0L714.0 -44.3Z" fill="rgb(200,50,59)" stroke="rgb(200,50,59)" stroke-width="0.5"/><path d="M665 -16L714.0 -44.3L689.5 -59.0Z" fill="rgb(208,52,61)" stroke="rgb(208,52,61)" stroke-width="0.5"/><path d="M665 -16L689.5 -59.0L665.0 -73.7Z" fill="rgb(208,52,61)" stroke="rgb(208,52,61)" stroke-width="0.5"/><path d="M665 -16L665.0 -73.7L640.5 -59.0Z" fill="rgb(208,52,61)" stroke="rgb(208,52,61)" stroke-width="0.5"/><path d="M665 -16L640.5 -59.0L616.0 -44.3Z" fill="rgb(208,52,61)" stroke="rgb(208,52,61)" stroke-width="0.5"/><path d="M665 -16L616.0 -44.3L616.0 -16.0Z" fill="rgb(200,50,59)" stroke="rgb(200,50,59)" stroke-width="0.5"/><path d="M665 -16L616.0 -16.0L616.0 12.3Z" fill="rgb(202,51,60)" stroke="rgb(202,51,60)" stroke-width="0.5"/><path d="M665 -16L616.0 12.3L640.5 27.0Z" fill="rgb(208,52,61)" stroke="rgb(208,52,61)" stroke-width="0.5"/><path d="M665 -16L640.5 27.0L665.0 41.7Z" fill="rgb(208,52,61)" stroke="rgb(208,52,61)" stroke-width="0.5"/><path d="M665 -16L665.0 41.7L689.5 27.0Z" fill="rgb(208,52,61)" stroke="rgb(208,52,61)" stroke-width="0.5"/><path d="M665 -16L689.5 27.0L714.0 12.3Z" fill="rgb(208,52,61)" stroke="rgb(208,52,61)" stroke-width="0.5"/><path d="M665 -16L714.0 12.3L714.0 -16.0Z" fill="rgb(202,51,60)" stroke="rgb(202,51,60)" stroke-width="0.5"/><path d="M763 -16L812.0 -16.0L812.0 -44.3Z" fill="rgb(200,50,59)" stroke="rgb(200,50,59)" stroke-width="0.5"/><path d="M763 -16L812.0 -44.3L787.5 -59.0Z" fill="rgb(208,52,61)" stroke="rgb(208,52,61)" stroke-width="0.5"/><path d="M763 -16L787.5 -59.0L763.0 -73.7Z" fill="rgb(208,52,61)" stroke="rgb(208,52,61)" stroke-width="0.5"/><path d="M763 -16L763.0 -73.7L738.5 -59.0Z" fill="rgb(208,52,61)" stroke="rgb(208,52,61)" stroke-width="0.5"/><path d="M763 -16L738.5 -59.0L714.0 -44.3Z" fill="rgb(208,52,61)" stroke="rgb(208,52,61)" stroke-width="0.5"/><path d="M763 -16L714.0 -44.3L714.0 -16.0Z" fill="rgb(200,50,59)" stroke="rgb(200,50,59)" stroke-width="0.5"/><path d="M763 -16L714.0 -16.0L714.0 12.3Z" fill="rgb(202,51,60)" stroke="rgb(202,51,60)" stroke-width="0.5"/><path d="M763 -16L714.0 12.3L738.5 27.0Z" fill="rgb(208,52,61)" stroke="rgb(208,52,61)" stroke-width="0.5"/><path d="M763 -16L738.5 27.0L763.0 41.7Z" fill="rgb(208,52,61)" stroke="rgb(208,52,61)" stroke-width="0.5"/><path d="M763 -16L763.0 41.7L787.5 27.0Z" fill="rgb(208,52,61)" stroke="rgb(208,52,61)" stroke-width="0.5"/><path d="M763 -16L787.5 27.0L812.0 12.3Z" fill="rgb(208,52,61)" stroke="rgb(208,52,61)" stroke-width="0.5"/><path d="M763 -16L812.0 12.3L812.0 -16.0Z" fill="rgb(202,51,60)" stroke="rgb(202,51,60)" stroke-width="0.5"/><path d="M-70 70L-21.0 70.0L-21.0 41.7Z" fill="rgb(200,50,59)" stroke="rgb(200,50,59)" stroke-width="0.5"/><path d="M-70 70L-21.0 41.7L-45.5 27.0Z" fill="rgb(208,52,61)" stroke="rgb(208,52,61)" stroke-width="0.5"/><path d="M-70 70L-45.5 27.0L-70.0 12.3Z" fill="rgb(208,52,61)" stroke="rgb(208,52,61)" stroke-width="0.5"/><path d="M-70 70L-70.0 12.3L-94.5 27.0Z" fill="rgb(208,52,61)" stroke="rgb(208,52,61)" stroke-width="0.5"/><path d="M-70 70L-94.5 27.0L-119.0 41.7Z" fill="rgb(208,52,61)" stroke="rgb(208,52,61)" stroke-width="0.5"/><path d="M-70 70L-119.0 41.7L-119.0 70.0Z" fill="rgb(200,50,59)" stroke="rgb(200,50,59)" stroke-width="0.5"/><path d="M-70 70L-119.0 70.0L-119.0 98.3Z" fill="rgb(202,51,60)" stroke="rgb(202,51,60)" stroke-width="0.5"/><path d="M-70 70L-119.0 98.3L-94.5 113.0Z" fill="rgb(208,52,61)" stroke="rgb(208,52,61)" stroke-width="0.5"/><path d="M-70 70L-94.5 113.0L-70.0 127.7Z" fill="rgb(208,52,61)" stroke="rgb(208,52,61)" stroke-width="0.5"/><path d="M-70 70L-70.0 127.7L-45.5 113.0Z" fill="rgb(208,52,61)" stroke="rgb(208,52,61)" stroke-width="0.5"/><path d="M-70 70L-45.5 113.0L-21.0 98.3Z" fill="rgb(208,52,61)" stroke="rgb(208,52,61)" stroke-width="0.5"/><path d="M-70 70L-21.0 98.3L-21.0 70.0Z" fill="rgb(202,51,60)" stroke="rgb(202,51,60)" stroke-width="0.5"/><path d="M28 70L77.0 70.0L77.0 41.7Z" fill="rgb(200,50,59)" stroke="rgb(200,50,59)" stroke-width="0.5"/><path d="M28 70L77.0 41.7L52.5 27.0Z" fill="rgb(208,52,61)" stroke="rgb(208,52,61)" stroke-width="0.5"/><path d="M28 70L52.5 27.0L28.0 12.3Z" fill="rgb(208,52,61)" stroke="rgb(208,52,61)" stroke-width="0.5"/><path d="M28 70L28.0 12.3L3.5 27.0Z" fill="rgb(208,52,61)" stroke="rgb(208,52,61)" stroke-width="0.5"/><path d="M28 70L3.5 27.0L-21.0 41.7Z" fill="rgb(208,52,61)" stroke="rgb(208,52,61)" stroke-width="0.5"/><path d="M28 70L-21.0 41.7L-21.0 70.0Z" fill="rgb(200,50,59)" stroke="rgb(200,50,59)" stroke-width="0.5"/><path d="M28 70L-21.0 70.0L-21.0 98.3Z" fill="rgb(202,51,60)" stroke="rgb(202,51,60)" stroke-width="0.5"/><path d="M28 70L-21.0 98.3L3.5 113.0Z" fill="rgb(208,52,61)" stroke="rgb(208,52,61)" stroke-width="0.5"/><path d="M28 70L3.5 113.0L28.0 127.7Z" fill="rgb(208,52,61)" stroke="rgb(208,52,61)" stroke-width="0.5"/><path d="M28 70L28.0 127.7L52.5 113.0Z" fill="rgb(208,52,61)" stroke="rgb(208,52,61)" stroke-width="0.5"/><path d="M28 70L52.5 113.0L77.0 98.3Z" fill="rgb(208,52,61)" stroke="rgb(208,52,61)" stroke-width="0.5"/><path d="M28 70L77.0 98.3L77.0 70.0Z" fill="rgb(202,51,60)" stroke="rgb(202,51,60)" stroke-width="0.5"/><path d="M126 70L175.0 70.0L175.0 41.7Z" fill="rgb(200,50,59)" stroke="rgb(200,50,59)" stroke-width="0.5"/><path d="M126 70L175.0 41.7L150.5 27.0Z" fill="rgb(208,52,61)" stroke="rgb(208,52,61)" stroke-width="0.5"/><path d="M126 70L150.5 27.0L126.0 12.3Z" fill="rgb(208,52,61)" stroke="rgb(208,52,61)" stroke-width="0.5"/><path d="M126 70L126.0 12.3L101.5 27.0Z" fill="rgb(208,52,61)" stroke="rgb(208,52,61)" stroke-width="0.5"/><path d="M126 70L101.5 27.0L77.0 41.7Z" fill="rgb(208,52,61)" stroke="rgb(208,52,61)" stroke-width="0.5"/><path d="M126 70L77.0 41.7L77.0 70.0Z" fill="rgb(200,50,59)" stroke="rgb(200,50,59)" stroke-width="0.5"/><path d="M126 70L77.0 70.0L77.0 98.3Z" fill="rgb(202,51,60)" stroke="rgb(202,51,60)" stroke-width="0.5"/><path d="M126 70L77.0 98.3L101.5 113.0Z" fill="rgb(208,52,61)" stroke="rgb(208,52,61)" stroke-width="0.5"/><path d="M126 70L101.5 113.0L126.0 127.7Z" fill="rgb(208,52,61)" stroke="rgb(208,52,61)" stroke-width="0.5"/><path d="M126 70L126.0 127.7L150.5 113.0Z" fill="rgb(208,52,61)" stroke="rgb(208,52,61)" stroke-width="0.5"/><path d="M126 70L150.5 113.0L175.0 98.3Z" fill="rgb(208,52,61)" stroke="rgb(208,52,61)" stroke-width="0.5"/><path d="M126 70L175.0 98.3L175.0 70.0Z" fill="rgb(202,51,60)" stroke="rgb(202,51,60)" stroke-width="0.5"/><path d="M224 70L273.0 70.0L273.0 41.7Z" fill="rgb(200,50,59)" stroke="rgb(200,50,59)" stroke-width="0.5"/><path d="M224 70L273.0 41.7L248.5 27.0Z" fill="rgb(208,52,61)" stroke="rgb(208,52,61)" stroke-width="0.5"/><path d="M224 70L248.5 27.0L224.0 12.3Z" fill="rgb(208,52,61)" stroke="rgb(208,52,61)" stroke-width="0.5"/><path d="M224 70L224.0 12.3L199.5 27.0Z" fill="rgb(208,52,61)" stroke="rgb(208,52,61)" stroke-width="0.5"/><path d="M224 70L199.5 27.0L175.0 41.7Z" fill="rgb(208,52,61)" stroke="rgb(208,52,61)" stroke-width="0.5"/><path d="M224 70L175.0 41.7L175.0 70.0Z" fill="rgb(200,50,59)" stroke="rgb(200,50,59)" stroke-width="0.5"/><path d="M224 70L175.0 70.0L175.0 98.3Z" fill="rgb(202,51,60)" stroke="rgb(202,51,60)" stroke-width="0.5"/><path d="M224 70L175.0 98.3L199.5 113.0Z" fill="rgb(208,52,61)" stroke="rgb(208,52,61)" stroke-width="0.5"/><path d="M224 70L199.5 113.0L224.0 127.7Z" fill="rgb(208,52,61)" stroke="rgb(208,52,61)" stroke-width="0.5"/><path d="M224 70L224.0 127.7L248.5 113.0Z" fill="rgb(208,52,61)" stroke="rgb(208,52,61)" stroke-width="0.5"/><path d="M224 70L248.5 113.0L273.0 98.3Z" fill="rgb(208,52,61)" stroke="rgb(208,52,61)" stroke-width="0.5"/><path d="M224 70L273.0 98.3L273.0 70.0Z" fill="rgb(202,51,60)" stroke="rgb(202,51,60)" stroke-width="0.5"/><path d="M322 70L371.0 70.0L371.0 41.7Z" fill="rgb(200,50,59)" stroke="rgb(200,50,59)" stroke-width="0.5"/><path d="M322 70L371.0 41.7L346.5 27.0Z" fill="rgb(208,52,61)" stroke="rgb(208,52,61)" stroke-width="0.5"/><path d="M322 70L346.5 27.0L322.0 12.3Z" fill="rgb(208,52,61)" stroke="rgb(208,52,61)" stroke-width="0.5"/><path d="M322 70L322.0 12.3L297.5 27.0Z" fill="rgb(208,52,61)" stroke="rgb(208,52,61)" stroke-width="0.5"/><path d="M322 70L297.5 27.0L273.0 41.7Z" fill="rgb(208,52,61)" stroke="rgb(208,52,61)" stroke-width="0.5"/><path d="M322 70L273.0 41.7L273.0 70.0Z" fill="rgb(200,50,59)" stroke="rgb(200,50,59)" stroke-width="0.5"/><path d="M322 70L273.0 70.0L273.0 98.3Z" fill="rgb(202,51,60)" stroke="rgb(202,51,60)" stroke-width="0.5"/><path d="M322 70L273.0 98.3L297.5 113.0Z" fill="rgb(208,52,61)" stroke="rgb(208,52,61)" stroke-width="0.5"/><path d="M322 70L297.5 113.0L322.0 127.7Z" fill="rgb(208,52,61)" stroke="rgb(208,52,61)" stroke-width="0.5"/><path d="M322 70L322.0 127.7L346.5 113.0Z" fill="rgb(208,52,61)" stroke="rgb(208,52,61)" stroke-width="0.5"/><path d="M322 70L346.5 113.0L371.0 98.3Z" fill="rgb(208,52,61)" stroke="rgb(208,52,61)" stroke-width="0.5"/><path d="M322 70L371.0 98.3L371.0 70.0Z" fill="rgb(202,51,60)" stroke="rgb(202,51,60)" stroke-width="0.5"/><path d="M420 70L469.0 70.0L469.0 41.7Z" fill="rgb(200,50,59)" stroke="rgb(200,50,59)" stroke-width="0.5"/><path d="M420 70L469.0 41.7L444.5 27.0Z" fill="rgb(208,52,61)" stroke="rgb(208,52,61)" stroke-width="0.5"/><path d="M420 70L444.5 27.0L420.0 12.3Z" fill="rgb(208,52,61)" stroke="rgb(208,52,61)" stroke-width="0.5"/><path d="M420 70L420.0 12.3L395.5 27.0Z" fill="rgb(208,52,61)" stroke="rgb(208,52,61)" stroke-width="0.5"/><path d="M420 70L395.5 27.0L371.0 41.7Z" fill="rgb(208,52,61)" stroke="rgb(208,52,61)" stroke-width="0.5"/><path d="M420 70L371.0 41.7L371.0 70.0Z" fill="rgb(200,50,59)" stroke="rgb(200,50,59)" stroke-width="0.5"/><path d="M420 70L371.0 70.0L371.0 98.3Z" fill="rgb(202,51,60)" stroke="rgb(202,51,60)" stroke-width="0.5"/><path d="M420 70L371.0 98.3L395.5 113.0Z" fill="rgb(208,52,61)" stroke="rgb(208,52,61)" stroke-width="0.5"/><path d="M420 70L395.5 113.0L420.0 127.7Z" fill="rgb(208,52,61)" stroke="rgb(208,52,61)" stroke-width="0.5"/><path d="M420 70L420.0 127.7L444.5 113.0Z" fill="rgb(208,52,61)" stroke="rgb(208,52,61)" stroke-width="0.5"/><path d="M420 70L444.5 113.0L469.0 98.3Z" fill="rgb(208,52,61)" stroke="rgb(208,52,61)" stroke-width="0.5"/><path d="M420 70L469.0 98.3L469.0 70.0Z" fill="rgb(202,51,60)" stroke="rgb(202,51,60)" stroke-width="0.5"/><path d="M518 70L567.0 70.0L567.0 41.7Z" fill="rgb(200,50,59)" stroke="rgb(200,50,59)" stroke-width="0.5"/><path d="M518 70L567.0 41.7L542.5 27.0Z" fill="rgb(208,52,61)" stroke="rgb(208,52,61)" stroke-width="0.5"/><path d="M518 70L542.5 27.0L518.0 12.3Z" fill="rgb(208,52,61)" stroke="rgb(208,52,61)" stroke-width="0.5"/><path d="M518 70L518.0 12.3L493.5 27.0Z" fill="rgb(208,52,61)" stroke="rgb(208,52,61)" stroke-width="0.5"/><path d="M518 70L493.5 27.0L469.0 41.7Z" fill="rgb(208,52,61)" stroke="rgb(208,52,61)" stroke-width="0.5"/><path d="M518 70L469.0 41.7L469.0 70.0Z" fill="rgb(200,50,59)" stroke="rgb(200,50,59)" stroke-width="0.5"/><path d="M518 70L469.0 70.0L469.0 98.3Z" fill="rgb(202,51,60)" stroke="rgb(202,51,60)" stroke-width="0.5"/><path d="M518 70L469.0 98.3L493.5 113.0Z" fill="rgb(208,52,61)" stroke="rgb(208,52,61)" stroke-width="0.5"/><path d="M518 70L493.5 113.0L518.0 127.7Z" fill="rgb(208,52,61)" stroke="rgb(208,52,61)" stroke-width="0.5"/><path d="M518 70L518.0 127.7L542.5 113.0Z" fill="rgb(208,52,61)" stroke="rgb(208,52,61)" stroke-width="0.5"/><path d="M518 70L542.5 113.0L567.0 98.3Z" fill="rgb(208,52,61)" stroke="rgb(208,52,61)" stroke-width="0.5"/><path d="M518 70L567.0 98.3L567.0 70.0Z" fill="rgb(202,51,60)" stroke="rgb(202,51,60)" stroke-width="0.5"/><path d="M616 70L665.0 70.0L665.0 41.7Z" fill="rgb(200,50,59)" stroke="rgb(200,50,59)" stroke-width="0.5"/><path d="M616 70L665.0 41.7L640.5 27.0Z" fill="rgb(208,52,61)" stroke="rgb(208,52,61)" stroke-width="0.5"/><path d="M616 70L640.5 27.0L616.0 12.3Z" fill="rgb(208,52,61)" stroke="rgb(208,52,61)" stroke-width="0.5"/><path d="M616 70L616.0 12.3L591.5 27.0Z" fill="rgb(208,52,61)" stroke="rgb(208,52,61)" stroke-width="0.5"/><path d="M616 70L591.5 27.0L567.0 41.7Z" fill="rgb(208,52,61)" stroke="rgb(208,52,61)" stroke-width="0.5"/><path d="M616 70L567.0 41.7L567.0 70.0Z" fill="rgb(200,50,59)" stroke="rgb(200,50,59)" stroke-width="0.5"/><path d="M616 70L567.0 70.0L567.0 98.3Z" fill="rgb(202,51,60)" stroke="rgb(202,51,60)" stroke-width="0.5"/><path d="M616 70L567.0 98.3L591.5 113.0Z" fill="rgb(208,52,61)" stroke="rgb(208,52,61)" stroke-width="0.5"/><path d="M616 70L591.5 113.0L616.0 127.7Z" fill="rgb(208,52,61)" stroke="rgb(208,52,61)" stroke-width="0.5"/><path d="M616 70L616.0 127.7L640.5 113.0Z" fill="rgb(208,52,61)" stroke="rgb(208,52,61)" stroke-width="0.5"/><path d="M616 70L640.5 113.0L665.0 98.3Z" fill="rgb(208,52,61)" stroke="rgb(208,52,61)" stroke-width="0.5"/><path d="M616 70L665.0 98.3L665.0 70.0Z" fill="rgb(202,51,60)" stroke="rgb(202,51,60)" stroke-width="0.5"/><path d="M714 70L763.0 70.0L763.0 41.7Z" fill="rgb(200,50,59)" stroke="rgb(200,50,59)" stroke-width="0.5"/><path d="M714 70L763.0 41.7L738.5 27.0Z" fill="rgb(208,52,61)" stroke="rgb(208,52,61)" stroke-width="0.5"/><path d="M714 70L738.5 27.0L714.0 12.3Z" fill="rgb(208,52,61)" stroke="rgb(208,52,61)" stroke-width="0.5"/><path d="M714 70L714.0 12.3L689.5 27.0Z" fill="rgb(208,52,61)" stroke="rgb(208,52,61)" stroke-width="0.5"/><path d="M714 70L689.5 27.0L665.0 41.7Z" fill="rgb(208,52,61)" stroke="rgb(208,52,61)" stroke-width="0.5"/><path d="M714 70L665.0 41.7L665.0 70.0Z" fill="rgb(200,50,59)" stroke="rgb(200,50,59)" stroke-width="0.5"/><path d="M714 70L665.0 70.0L665.0 98.3Z" fill="rgb(202,51,60)" stroke="rgb(202,51,60)" stroke-width="0.5"/><path d="M714 70L665.0 98.3L689.5 113.0Z" fill="rgb(208,52,61)" stroke="rgb(208,52,61)" stroke-width="0.5"/><path d="M714 70L689.5 113.0L714.0 127.7Z" fill="rgb(208,52,61)" stroke="rgb(208,52,61)" stroke-width="0.5"/><path d="M714 70L714.0 127.7L738.5 113.0Z" fill="rgb(208,52,61)" stroke="rgb(208,52,61)" stroke-width="0.5"/><path d="M714 70L738.5 113.0L763.0 98.3Z" fill="rgb(208,52,61)" stroke="rgb(208,52,61)" stroke-width="0.5"/><path d="M714 70L763.0 98.3L763.0 70.0Z" fill="rgb(202,51,60)" stroke="rgb(202,51,60)" stroke-width="0.5"/><path d="M-21 156L28.0 156.0L28.0 127.7Z" fill="rgb(200,50,59)" stroke="rgb(200,50,59)" stroke-width="0.5"/><path d="M-21 156L28.0 127.7L3.5 113.0Z" fill="rgb(208,52,61)" stroke="rgb(208,52,61)" stroke-width="0.5"/><path d="M-21 156L3.5 113.0L-21.0 98.3Z" fill="rgb(208,52,61)" stroke="rgb(208,52,61)" stroke-width="0.5"/><path d="M-21 156L-21.0 98.3L-45.5 113.0Z" fill="rgb(208,52,61)" stroke="rgb(208,52,61)" stroke-width="0.5"/><path d="M-21 156L-45.5 113.0L-70.0 127.7Z" fill="rgb(208,52,61)" stroke="rgb(208,52,61)" stroke-width="0.5"/><path d="M-21 156L-70.0 127.7L-70.0 156.0Z" fill="rgb(200,50,59)" stroke="rgb(200,50,59)" stroke-width="0.5"/><path d="M-21 156L-70.0 156.0L-70.0 184.3Z" fill="rgb(202,51,60)" stroke="rgb(202,51,60)" stroke-width="0.5"/><path d="M-21 156L-70.0 184.3L-45.5 199.0Z" fill="rgb(208,52,61)" stroke="rgb(208,52,61)" stroke-width="0.5"/><path d="M-21 156L-45.5 199.0L-21.0 213.7Z" fill="rgb(208,52,61)" stroke="rgb(208,52,61)" stroke-width="0.5"/><path d="M-21 156L-21.0 213.7L3.5 199.0Z" fill="rgb(208,52,61)" stroke="rgb(208,52,61)" stroke-width="0.5"/><path d="M-21 156L3.5 199.0L28.0 184.3Z" fill="rgb(208,52,61)" stroke="rgb(208,52,61)" stroke-width="0.5"/><path d="M-21 156L28.0 184.3L28.0 156.0Z" fill="rgb(202,51,60)" stroke="rgb(202,51,60)" stroke-width="0.5"/><path d="M77 156L126.0 156.0L126.0 127.7Z" fill="rgb(200,50,59)" stroke="rgb(200,50,59)" stroke-width="0.5"/><path d="M77 156L126.0 127.7L101.5 113.0Z" fill="rgb(208,52,61)" stroke="rgb(208,52,61)" stroke-width="0.5"/><path d="M77 156L101.5 113.0L77.0 98.3Z" fill="rgb(208,52,61)" stroke="rgb(208,52,61)" stroke-width="0.5"/><path d="M77 156L77.0 98.3L52.5 113.0Z" fill="rgb(208,52,61)" stroke="rgb(208,52,61)" stroke-width="0.5"/><path d="M77 156L52.5 113.0L28.0 127.7Z" fill="rgb(208,52,61)" stroke="rgb(208,52,61)" stroke-width="0.5"/><path d="M77 156L28.0 127.7L28.0 156.0Z" fill="rgb(200,50,59)" stroke="rgb(200,50,59)" stroke-width="0.5"/><path d="M77 156L28.0 156.0L28.0 184.3Z" fill="rgb(202,51,60)" stroke="rgb(202,51,60)" stroke-width="0.5"/><path d="M77 156L28.0 184.3L52.5 199.0Z" fill="rgb(208,52,61)" stroke="rgb(208,52,61)" stroke-width="0.5"/><path d="M77 156L52.5 199.0L77.0 213.7Z" fill="rgb(208,52,61)" stroke="rgb(208,52,61)" stroke-width="0.5"/><path d="M77 156L77.0 213.7L101.5 199.0Z" fill="rgb(208,52,61)" stroke="rgb(208,52,61)" stroke-width="0.5"/><path d="M77 156L101.5 199.0L126.0 184.3Z" fill="rgb(208,52,61)" stroke="rgb(208,52,61)" stroke-width="0.5"/><path d="M77 156L126.0 184.3L126.0 156.0Z" fill="rgb(202,51,60)" stroke="rgb(202,51,60)" stroke-width="0.5"/><path d="M175 156L224.0 156.0L224.0 127.7Z" fill="rgb(200,50,59)" stroke="rgb(200,50,59)" stroke-width="0.5"/><path d="M175 156L224.0 127.7L199.5 113.0Z" fill="rgb(208,52,61)" stroke="rgb(208,52,61)" stroke-width="0.5"/><path d="M175 156L199.5 113.0L175.0 98.3Z" fill="rgb(208,52,61)" stroke="rgb(208,52,61)" stroke-width="0.5"/><path d="M175 156L175.0 98.3L150.5 113.0Z" fill="rgb(208,52,61)" stroke="rgb(208,52,61)" stroke-width="0.5"/><path d="M175 156L150.5 113.0L126.0 127.7Z" fill="rgb(208,52,61)" stroke="rgb(208,52,61)" stroke-width="0.5"/><path d="M175 156L126.0 127.7L126.0 156.0Z" fill="rgb(200,50,59)" stroke="rgb(200,50,59)" stroke-width="0.5"/><path d="M175 156L126.0 156.0L126.0 184.3Z" fill="rgb(202,51,60)" stroke="rgb(202,51,60)" stroke-width="0.5"/><path d="M175 156L126.0 184.3L150.5 199.0Z" fill="rgb(208,52,61)" stroke="rgb(208,52,61)" stroke-width="0.5"/><path d="M175 156L150.5 199.0L175.0 213.7Z" fill="rgb(208,52,61)" stroke="rgb(208,52,61)" stroke-width="0.5"/><path d="M175 156L175.0 213.7L199.5 199.0Z" fill="rgb(208,52,61)" stroke="rgb(208,52,61)" stroke-width="0.5"/><path d="M175 156L199.5 199.0L224.0 184.3Z" fill="rgb(208,52,61)" stroke="rgb(208,52,61)" stroke-width="0.5"/><path d="M175 156L224.0 184.3L224.0 156.0Z" fill="rgb(202,51,60)" stroke="rgb(202,51,60)" stroke-width="0.5"/><path d="M273 156L322.0 156.0L322.0 127.7Z" fill="rgb(200,50,59)" stroke="rgb(200,50,59)" stroke-width="0.5"/><path d="M273 156L322.0 127.7L297.5 113.0Z" fill="rgb(208,52,61)" stroke="rgb(208,52,61)" stroke-width="0.5"/><path d="M273 156L297.5 113.0L273.0 98.3Z" fill="rgb(208,52,61)" stroke="rgb(208,52,61)" stroke-width="0.5"/><path d="M273 156L273.0 98.3L248.5 113.0Z" fill="rgb(208,52,61)" stroke="rgb(208,52,61)" stroke-width="0.5"/><path d="M273 156L248.5 113.0L224.0 127.7Z" fill="rgb(208,52,61)" stroke="rgb(208,52,61)" stroke-width="0.5"/><path d="M273 156L224.0 127.7L224.0 156.0Z" fill="rgb(200,50,59)" stroke="rgb(200,50,59)" stroke-width="0.5"/><path d="M273 156L224.0 156.0L224.0 184.3Z" fill="rgb(202,51,60)" stroke="rgb(202,51,60)" stroke-width="0.5"/><path d="M273 156L224.0 184.3L248.5 199.0Z" fill="rgb(208,52,61)" stroke="rgb(208,52,61)" stroke-width="0.5"/><path d="M273 156L248.5 199.0L273.0 213.7Z" fill="rgb(208,52,61)" stroke="rgb(208,52,61)" stroke-width="0.5"/><path d="M273 156L273.0 213.7L297.5 199.0Z" fill="rgb(208,52,61)" stroke="rgb(208,52,61)" stroke-width="0.5"/><path d="M273 156L297.5 199.0L322.0 184.3Z" fill="rgb(208,52,61)" stroke="rgb(208,52,61)" stroke-width="0.5"/><path d="M273 156L322.0 184.3L322.0 156.0Z" fill="rgb(202,51,60)" stroke="rgb(202,51,60)" stroke-width="0.5"/><path d="M371 156L420.0 156.0L420.0 127.7Z" fill="rgb(200,50,59)" stroke="rgb(200,50,59)" stroke-width="0.5"/><path d="M371 156L420.0 127.7L395.5 113.0Z" fill="rgb(208,52,61)" stroke="rgb(208,52,61)" stroke-width="0.5"/><path d="M371 156L395.5 113.0L371.0 98.3Z" fill="rgb(208,52,61)" stroke="rgb(208,52,61)" stroke-width="0.5"/><path d="M371 156L371.0 98.3L346.5 113.0Z" fill="rgb(208,52,61)" stroke="rgb(208,52,61)" stroke-width="0.5"/><path d="M371 156L346.5 113.0L322.0 127.7Z" fill="rgb(208,52,61)" stroke="rgb(208,52,61)" stroke-width="0.5"/><path d="M371 156L322.0 127.7L322.0 156.0Z" fill="rgb(200,50,59)" stroke="rgb(200,50,59)" stroke-width="0.5"/><path d="M371 156L322.0 156.0L322.0 184.3Z" fill="rgb(202,51,60)" stroke="rgb(202,51,60)" stroke-width="0.5"/><path d="M371 156L322.0 184.3L346.5 199.0Z" fill="rgb(208,52,61)" stroke="rgb(208,52,61)" stroke-width="0.5"/><path d="M371 156L346.5 199.0L371.0 213.7Z" fill="rgb(208,52,61)" stroke="rgb(208,52,61)" stroke-width="0.5"/><path d="M371 156L371.0 213.7L395.5 199.0Z" fill="rgb(208,52,61)" stroke="rgb(208,52,61)" stroke-width="0.5"/><path d="M371 156L395.5 199.0L420.0 184.3Z" fill="rgb(208,52,61)" stroke="rgb(208,52,61)" stroke-width="0.5"/><path d="M371 156L420.0 184.3L420.0 156.0Z" fill="rgb(202,51,60)" stroke="rgb(202,51,60)" stroke-width="0.5"/><path d="M469 156L518.0 156.0L518.0 127.7Z" fill="rgb(200,50,59)" stroke="rgb(200,50,59)" stroke-width="0.5"/><path d="M469 156L518.0 127.7L493.5 113.0Z" fill="rgb(208,52,61)" stroke="rgb(208,52,61)" stroke-width="0.5"/><path d="M469 156L493.5 113.0L469.0 98.3Z" fill="rgb(208,52,61)" stroke="rgb(208,52,61)" stroke-width="0.5"/><path d="M469 156L469.0 98.3L444.5 113.0Z" fill="rgb(208,52,61)" stroke="rgb(208,52,61)" stroke-width="0.5"/><path d="M469 156L444.5 113.0L420.0 127.7Z" fill="rgb(208,52,61)" stroke="rgb(208,52,61)" stroke-width="0.5"/><path d="M469 156L420.0 127.7L420.0 156.0Z" fill="rgb(200,50,59)" stroke="rgb(200,50,59)" stroke-width="0.5"/><path d="M469 156L420.0 156.0L420.0 184.3Z" fill="rgb(202,51,60)" stroke="rgb(202,51,60)" stroke-width="0.5"/><path d="M469 156L420.0 184.3L444.5 199.0Z" fill="rgb(208,52,61)" stroke="rgb(208,52,61)" stroke-width="0.5"/><path d="M469 156L444.5 199.0L469.0 213.7Z" fill="rgb(208,52,61)" stroke="rgb(208,52,61)" stroke-width="0.5"/><path d="M469 156L469.0 213.7L493.5 199.0Z" fill="rgb(208,52,61)" stroke="rgb(208,52,61)" stroke-width="0.5"/><path d="M469 156L493.5 199.0L518.0 184.3Z" fill="rgb(208,52,61)" stroke="rgb(208,52,61)" stroke-width="0.5"/><path d="M469 156L518.0 184.3L518.0 156.0Z" fill="rgb(202,51,60)" stroke="rgb(202,51,60)" stroke-width="0.5"/><path d="M567 156L616.0 156.0L616.0 127.7Z" fill="rgb(200,50,59)" stroke="rgb(200,50,59)" stroke-width="0.5"/><path d="M567 156L616.0 127.7L591.5 113.0Z" fill="rgb(208,52,61)" stroke="rgb(208,52,61)" stroke-width="0.5"/><path d="M567 156L591.5 113.0L567.0 98.3Z" fill="rgb(208,52,61)" stroke="rgb(208,52,61)" stroke-width="0.5"/><path d="M567 156L567.0 98.3L542.5 113.0Z" fill="rgb(208,52,61)" stroke="rgb(208,52,61)" stroke-width="0.5"/><path d="M567 156L542.5 113.0L518.0 127.7Z" fill="rgb(208,52,61)" stroke="rgb(208,52,61)" stroke-width="0.5"/><path d="M567 156L518.0 127.7L518.0 156.0Z" fill="rgb(200,50,59)" stroke="rgb(200,50,59)" stroke-width="0.5"/><path d="M567 156L518.0 156.0L518.0 184.3Z" fill="rgb(202,51,60)" stroke="rgb(202,51,60)" stroke-width="0.5"/><path d="M567 156L518.0 184.3L542.5 199.0Z" fill="rgb(208,52,61)" stroke="rgb(208,52,61)" stroke-width="0.5"/><path d="M567 156L542.5 199.0L567.0 213.7Z" fill="rgb(208,52,61)" stroke="rgb(208,52,61)" stroke-width="0.5"/><path d="M567 156L567.0 213.7L591.5 199.0Z" fill="rgb(208,52,61)" stroke="rgb(208,52,61)" stroke-width="0.5"/><path d="M567 156L591.5 199.0L616.0 184.3Z" fill="rgb(208,52,61)" stroke="rgb(208,52,61)" stroke-width="0.5"/><path d="M567 156L616.0 184.3L616.0 156.0Z" fill="rgb(202,51,60)" stroke="rgb(202,51,60)" stroke-width="0.5"/><path d="M665 156L714.0 156.0L714.0 127.7Z" fill="rgb(200,50,59)" stroke="rgb(200,50,59)" stroke-width="0.5"/><path d="M665 156L714.0 127.7L689.5 113.0Z" fill="rgb(208,52,61)" stroke="rgb(208,52,61)" stroke-width="0.5"/><path d="M665 156L689.5 113.0L665.0 98.3Z" fill="rgb(208,52,61)" stroke="rgb(208,52,61)" stroke-width="0.5"/><path d="M665 156L665.0 98.3L640.5 113.0Z" fill="rgb(208,52,61)" stroke="rgb(208,52,61)" stroke-width="0.5"/><path d="M665 156L640.5 113.0L616.0 127.7Z" fill="rgb(208,52,61)" stroke="rgb(208,52,61)" stroke-width="0.5"/><path d="M665 156L616.0 127.7L616.0 156.0Z" fill="rgb(200,50,59)" stroke="rgb(200,50,59)" stroke-width="0.5"/><path d="M665 156L616.0 156.0L616.0 184.3Z" fill="rgb(202,51,60)" stroke="rgb(202,51,60)" stroke-width="0.5"/><path d="M665 156L616.0 184.3L640.5 199.0Z" fill="rgb(208,52,61)" stroke="rgb(208,52,61)" stroke-width="0.5"/><path d="M665 156L640.5 199.0L665.0 213.7Z" fill="rgb(208,52,61)" stroke="rgb(208,52,61)" stroke-width="0.5"/><path d="M665 156L665.0 213.7L689.5 199.0Z" fill="rgb(208,52,61)" stroke="rgb(208,52,61)" stroke-width="0.5"/><path d="M665 156L689.5 199.0L714.0 184.3Z" fill="rgb(208,52,61)" stroke="rgb(208,52,61)" stroke-width="0.5"/><path d="M665 156L714.0 184.3L714.0 156.0Z" fill="rgb(202,51,60)" stroke="rgb(202,51,60)" stroke-width="0.5"/><path d="M763 156L812.0 156.0L812.0 127.7Z" fill="rgb(200,50,59)" stroke="rgb(200,50,59)" stroke-width="0.5"/><path d="M763 156L812.0 127.7L787.5 113.0Z" fill="rgb(208,52,61)" stroke="rgb(208,52,61)" stroke-width="0.5"/><path d="M763 156L787.5 113.0L763.0 98.3Z" fill="rgb(208,52,61)" stroke="rgb(208,52,61)" stroke-width="0.5"/><path d="M763 156L763.0 98.3L738.5 113.0Z" fill="rgb(208,52,61)" stroke="rgb(208,52,61)" stroke-width="0.5"/><path d="M763 156L738.5 113.0L714.0 127.7Z" fill="rgb(208,52,61)" stroke="rgb(208,52,61)" stroke-width="0.5"/><path d="M763 156L714.0 127.7L714.0 156.0Z" fill="rgb(200,50,59)" stroke="rgb(200,50,59)" stroke-width="0.5"/><path d="M763 156L714.0 156.0L714.0 184.3Z" fill="rgb(202,51,60)" stroke="rgb(202,51,60)" stroke-width="0.5"/><path d="M763 156L714.0 184.3L738.5 199.0Z" fill="rgb(208,52,61)" stroke="rgb(208,52,61)" stroke-width="0.5"/><path d="M763 156L738.5 199.0L763.0 213.7Z" fill="rgb(208,52,61)" stroke="rgb(208,52,61)" stroke-width="0.5"/><path d="M763 156L763.0 213.7L787.5 199.0Z" fill="rgb(208,52,61)" stroke="rgb(208,52,61)" stroke-width="0.5"/><path d="M763 156L787.5 199.0L812.0 184.3Z" fill="rgb(208,52,61)" stroke="rgb(208,52,61)" stroke-width="0.5"/><path d="M763 156L812.0 184.3L812.0 156.0Z" fill="rgb(202,51,60)" stroke="rgb(202,51,60)" stroke-width="0.5"/><path d="M-70 242L-21.0 242.0L-21.0 213.7Z" fill="rgb(200,50,59)" stroke="rgb(200,50,59)" stroke-width="0.5"/><path d="M-70 242L-21.0 213.7L-45.5 199.0Z" fill="rgb(208,52,61)" stroke="rgb(208,52,61)" stroke-width="0.5"/><path d="M-70 242L-45.5 199.0L-70.0 184.3Z" fill="rgb(208,52,61)" stroke="rgb(208,52,61)" stroke-width="0.5"/><path d="M-70 242L-70.0 184.3L-94.5 199.0Z" fill="rgb(208,52,61)" stroke="rgb(208,52,61)" stroke-width="0.5"/><path d="M-70 242L-94.5 199.0L-119.0 213.7Z" fill="rgb(208,52,61)" stroke="rgb(208,52,61)" stroke-width="0.5"/><path d="M-70 242L-119.0 213.7L-119.0 242.0Z" fill="rgb(200,50,59)" stroke="rgb(200,50,59)" stroke-width="0.5"/><path d="M-70 242L-119.0 242.0L-119.0 270.3Z" fill="rgb(202,51,60)" stroke="rgb(202,51,60)" stroke-width="0.5"/><path d="M-70 242L-119.0 270.3L-94.5 285.0Z" fill="rgb(208,52,61)" stroke="rgb(208,52,61)" stroke-width="0.5"/><path d="M-70 242L-94.5 285.0L-70.0 299.7Z" fill="rgb(208,52,61)" stroke="rgb(208,52,61)" stroke-width="0.5"/><path d="M-70 242L-70.0 299.7L-45.5 285.0Z" fill="rgb(208,52,61)" stroke="rgb(208,52,61)" stroke-width="0.5"/><path d="M-70 242L-45.5 285.0L-21.0 270.3Z" fill="rgb(208,52,61)" stroke="rgb(208,52,61)" stroke-width="0.5"/><path d="M-70 242L-21.0 270.3L-21.0 242.0Z" fill="rgb(202,51,60)" stroke="rgb(202,51,60)" stroke-width="0.5"/><path d="M28 242L77.0 242.0L77.0 213.7Z" fill="rgb(200,50,59)" stroke="rgb(200,50,59)" stroke-width="0.5"/><path d="M28 242L77.0 213.7L52.5 199.0Z" fill="rgb(208,52,61)" stroke="rgb(208,52,61)" stroke-width="0.5"/><path d="M28 242L52.5 199.0L28.0 184.3Z" fill="rgb(208,52,61)" stroke="rgb(208,52,61)" stroke-width="0.5"/><path d="M28 242L28.0 184.3L3.5 199.0Z" fill="rgb(208,52,61)" stroke="rgb(208,52,61)" stroke-width="0.5"/><path d="M28 242L3.5 199.0L-21.0 213.7Z" fill="rgb(208,52,61)" stroke="rgb(208,52,61)" stroke-width="0.5"/><path d="M28 242L-21.0 213.7L-21.0 242.0Z" fill="rgb(200,50,59)" stroke="rgb(200,50,59)" stroke-width="0.5"/><path d="M28 242L-21.0 242.0L-21.0 270.3Z" fill="rgb(202,51,60)" stroke="rgb(202,51,60)" stroke-width="0.5"/><path d="M28 242L-21.0 270.3L3.5 285.0Z" fill="rgb(208,52,61)" stroke="rgb(208,52,61)" stroke-width="0.5"/><path d="M28 242L3.5 285.0L28.0 299.7Z" fill="rgb(208,52,61)" stroke="rgb(208,52,61)" stroke-width="0.5"/><path d="M28 242L28.0 299.7L52.5 285.0Z" fill="rgb(208,52,61)" stroke="rgb(208,52,61)" stroke-width="0.5"/><path d="M28 242L52.5 285.0L77.0 270.3Z" fill="rgb(208,52,61)" stroke="rgb(208,52,61)" stroke-width="0.5"/><path d="M28 242L77.0 270.3L77.0 242.0Z" fill="rgb(202,51,60)" stroke="rgb(202,51,60)" stroke-width="0.5"/><path d="M126 242L175.0 242.0L175.0 213.7Z" fill="rgb(200,50,59)" stroke="rgb(200,50,59)" stroke-width="0.5"/><path d="M126 242L175.0 213.7L150.5 199.0Z" fill="rgb(208,52,61)" stroke="rgb(208,52,61)" stroke-width="0.5"/><path d="M126 242L150.5 199.0L126.0 184.3Z" fill="rgb(208,52,61)" stroke="rgb(208,52,61)" stroke-width="0.5"/><path d="M126 242L126.0 184.3L101.5 199.0Z" fill="rgb(208,52,61)" stroke="rgb(208,52,61)" stroke-width="0.5"/><path d="M126 242L101.5 199.0L77.0 213.7Z" fill="rgb(208,52,61)" stroke="rgb(208,52,61)" stroke-width="0.5"/><path d="M126 242L77.0 213.7L77.0 242.0Z" fill="rgb(200,50,59)" stroke="rgb(200,50,59)" stroke-width="0.5"/><path d="M126 242L77.0 242.0L77.0 270.3Z" fill="rgb(202,51,60)" stroke="rgb(202,51,60)" stroke-width="0.5"/><path d="M126 242L77.0 270.3L101.5 285.0Z" fill="rgb(208,52,61)" stroke="rgb(208,52,61)" stroke-width="0.5"/><path d="M126 242L101.5 285.0L126.0 299.7Z" fill="rgb(208,52,61)" stroke="rgb(208,52,61)" stroke-width="0.5"/><path d="M126 242L126.0 299.7L150.5 285.0Z" fill="rgb(208,52,61)" stroke="rgb(208,52,61)" stroke-width="0.5"/><path d="M126 242L150.5 285.0L175.0 270.3Z" fill="rgb(208,52,61)" stroke="rgb(208,52,61)" stroke-width="0.5"/><path d="M126 242L175.0 270.3L175.0 242.0Z" fill="rgb(202,51,60)" stroke="rgb(202,51,60)" stroke-width="0.5"/><path d="M224 242L273.0 242.0L273.0 213.7Z" fill="rgb(200,50,59)" stroke="rgb(200,50,59)" stroke-width="0.5"/><path d="M224 242L273.0 213.7L248.5 199.0Z" fill="rgb(208,52,61)" stroke="rgb(208,52,61)" stroke-width="0.5"/><path d="M224 242L248.5 199.0L224.0 184.3Z" fill="rgb(208,52,61)" stroke="rgb(208,52,61)" stroke-width="0.5"/><path d="M224 242L224.0 184.3L199.5 199.0Z" fill="rgb(208,52,61)" stroke="rgb(208,52,61)" stroke-width="0.5"/><path d="M224 242L199.5 199.0L175.0 213.7Z" fill="rgb(208,52,61)" stroke="rgb(208,52,61)" stroke-width="0.5"/><path d="M224 242L175.0 213.7L175.0 242.0Z" fill="rgb(200,50,59)" stroke="rgb(200,50,59)" stroke-width="0.5"/><path d="M224 242L175.0 242.0L175.0 270.3Z" fill="rgb(202,51,60)" stroke="rgb(202,51,60)" stroke-width="0.5"/><path d="M224 242L175.0 270.3L199.5 285.0Z" fill="rgb(208,52,61)" stroke="rgb(208,52,61)" stroke-width="0.5"/><path d="M224 242L199.5 285.0L224.0 299.7Z" fill="rgb(208,52,61)" stroke="rgb(208,52,61)" stroke-width="0.5"/><path d="M224 242L224.0 299.7L248.5 285.0Z" fill="rgb(208,52,61)" stroke="rgb(208,52,61)" stroke-width="0.5"/><path d="M224 242L248.5 285.0L273.0 270.3Z" fill="rgb(208,52,61)" stroke="rgb(208,52,61)" stroke-width="0.5"/><path d="M224 242L273.0 270.3L273.0 242.0Z" fill="rgb(202,51,60)" stroke="rgb(202,51,60)" stroke-width="0.5"/><path d="M322 242L371.0 242.0L371.0 213.7Z" fill="rgb(200,50,59)" stroke="rgb(200,50,59)" stroke-width="0.5"/><path d="M322 242L371.0 213.7L346.5 199.0Z" fill="rgb(208,52,61)" stroke="rgb(208,52,61)" stroke-width="0.5"/><path d="M322 242L346.5 199.0L322.0 184.3Z" fill="rgb(208,52,61)" stroke="rgb(208,52,61)" stroke-width="0.5"/><path d="M322 242L322.0 184.3L297.5 199.0Z" fill="rgb(208,52,61)" stroke="rgb(208,52,61)" stroke-width="0.5"/><path d="M322 242L297.5 199.0L273.0 213.7Z" fill="rgb(208,52,61)" stroke="rgb(208,52,61)" stroke-width="0.5"/><path d="M322 242L273.0 213.7L273.0 242.0Z" fill="rgb(200,50,59)" stroke="rgb(200,50,59)" stroke-width="0.5"/><path d="M322 242L273.0 242.0L273.0 270.3Z" fill="rgb(202,51,60)" stroke="rgb(202,51,60)" stroke-width="0.5"/><path d="M322 242L273.0 270.3L297.5 285.0Z" fill="rgb(208,52,61)" stroke="rgb(208,52,61)" stroke-width="0.5"/><path d="M322 242L297.5 285.0L322.0 299.7Z" fill="rgb(208,52,61)" stroke="rgb(208,52,61)" stroke-width="0.5"/><path d="M322 242L322.0 299.7L346.5 285.0Z" fill="rgb(208,52,61)" stroke="rgb(208,52,61)" stroke-width="0.5"/><path d="M322 242L346.5 285.0L371.0 270.3Z" fill="rgb(208,52,61)" stroke="rgb(208,52,61)" stroke-width="0.5"/><path d="M322 242L371.0 270.3L371.0 242.0Z" fill="rgb(202,51,60)" stroke="rgb(202,51,60)" stroke-width="0.5"/><path d="M420 242L469.0 242.0L469.0 213.7Z" fill="rgb(200,50,59)" stroke="rgb(200,50,59)" stroke-width="0.5"/><path d="M420 242L469.0 213.7L444.5 199.0Z" fill="rgb(208,52,61)" stroke="rgb(208,52,61)" stroke-width="0.5"/><path d="M420 242L444.5 199.0L420.0 184.3Z" fill="rgb(208,52,61)" stroke="rgb(208,52,61)" stroke-width="0.5"/><path d="M420 242L420.0 184.3L395.5 199.0Z" fill="rgb(208,52,61)" stroke="rgb(208,52,61)" stroke-width="0.5"/><path d="M420 242L395.5 199.0L371.0 213.7Z" fill="rgb(208,52,61)" stroke="rgb(208,52,61)" stroke-width="0.5"/><path d="M420 242L371.0 213.7L371.0 242.0Z" fill="rgb(200,50,59)" stroke="rgb(200,50,59)" stroke-width="0.5"/><path d="M420 242L371.0 242.0L371.0 270.3Z" fill="rgb(202,51,60)" stroke="rgb(202,51,60)" stroke-width="0.5"/><path d="M420 242L371.0 270.3L395.5 285.0Z" fill="rgb(208,52,61)" stroke="rgb(208,52,61)" stroke-width="0.5"/><path d="M420 242L395.5 285.0L420.0 299.7Z" fill="rgb(208,52,61)" stroke="rgb(208,52,61)" stroke-width="0.5"/><path d="M420 242L420.0 299.7L444.5 285.0Z" fill="rgb(208,52,61)" stroke="rgb(208,52,61)" stroke-width="0.5"/><path d="M420 242L444.5 285.0L469.0 270.3Z" fill="rgb(208,52,61)" stroke="rgb(208,52,61)" stroke-width="0.5"/><path d="M420 242L469.0 270.3L469.0 242.0Z" fill="rgb(202,51,60)" stroke="rgb(202,51,60)" stroke-width="0.5"/><path d="M518 242L567.0 242.0L567.0 213.7Z" fill="rgb(200,50,59)" stroke="rgb(200,50,59)" stroke-width="0.5"/><path d="M518 242L567.0 213.7L542.5 199.0Z" fill="rgb(208,52,61)" stroke="rgb(208,52,61)" stroke-width="0.5"/><path d="M518 242L542.5 199.0L518.0 184.3Z" fill="rgb(208,52,61)" stroke="rgb(208,52,61)" stroke-width="0.5"/><path d="M518 242L518.0 184.3L493.5 199.0Z" fill="rgb(208,52,61)" stroke="rgb(208,52,61)" stroke-width="0.5"/><path d="M518 242L493.5 199.0L469.0 213.7Z" fill="rgb(208,52,61)" stroke="rgb(208,52,61)" stroke-width="0.5"/><path d="M518 242L469.0 213.7L469.0 242.0Z" fill="rgb(200,50,59)" stroke="rgb(200,50,59)" stroke-width="0.5"/><path d="M518 242L469.0 242.0L469.0 270.3Z" fill="rgb(202,51,60)" stroke="rgb(202,51,60)" stroke-width="0.5"/><path d="M518 242L469.0 270.3L493.5 285.0Z" fill="rgb(208,52,61)" stroke="rgb(208,52,61)" stroke-width="0.5"/><path d="M518 242L493.5 285.0L518.0 299.7Z" fill="rgb(208,52,61)" stroke="rgb(208,52,61)" stroke-width="0.5"/><path d="M518 242L518.0 299.7L542.5 285.0Z" fill="rgb(208,52,61)" stroke="rgb(208,52,61)" stroke-width="0.5"/><path d="M518 242L542.5 285.0L567.0 270.3Z" fill="rgb(208,52,61)" stroke="rgb(208,52,61)" stroke-width="0.5"/><path d="M518 242L567.0 270.3L567.0 242.0Z" fill="rgb(202,51,60)" stroke="rgb(202,51,60)" stroke-width="0.5"/><path d="M616 242L665.0 242.0L665.0 213.7Z" fill="rgb(200,50,59)" stroke="rgb(200,50,59)" stroke-width="0.5"/><path d="M616 242L665.0 213.7L640.5 199.0Z" fill="rgb(208,52,61)" stroke="rgb(208,52,61)" stroke-width="0.5"/><path d="M616 242L640.5 199.0L616.0 184.3Z" fill="rgb(208,52,61)" stroke="rgb(208,52,61)" stroke-width="0.5"/><path d="M616 242L616.0 184.3L591.5 199.0Z" fill="rgb(208,52,61)" stroke="rgb(208,52,61)" stroke-width="0.5"/><path d="M616 242L591.5 199.0L567.0 213.7Z" fill="rgb(208,52,61)" stroke="rgb(208,52,61)" stroke-width="0.5"/><path d="M616 242L567.0 213.7L567.0 242.0Z" fill="rgb(200,50,59)" stroke="rgb(200,50,59)" stroke-width="0.5"/><path d="M616 242L567.0 242.0L567.0 270.3Z" fill="rgb(202,51,60)" stroke="rgb(202,51,60)" stroke-width="0.5"/><path d="M616 242L567.0 270.3L591.5 285.0Z" fill="rgb(208,52,61)" stroke="rgb(208,52,61)" stroke-width="0.5"/><path d="M616 242L591.5 285.0L616.0 299.7Z" fill="rgb(208,52,61)" stroke="rgb(208,52,61)" stroke-width="0.5"/><path d="M616 242L616.0 299.7L640.5 285.0Z" fill="rgb(208,52,61)" stroke="rgb(208,52,61)" stroke-width="0.5"/><path d="M616 242L640.5 285.0L665.0 270.3Z" fill="rgb(208,52,61)" stroke="rgb(208,52,61)" stroke-width="0.5"/><path d="M616 242L665.0 270.3L665.0 242.0Z" fill="rgb(202,51,60)" stroke="rgb(202,51,60)" stroke-width="0.5"/><path d="M714 242L763.0 242.0L763.0 213.7Z" fill="rgb(200,50,59)" stroke="rgb(200,50,59)" stroke-width="0.5"/><path d="M714 242L763.0 213.7L738.5 199.0Z" fill="rgb(208,52,61)" stroke="rgb(208,52,61)" stroke-width="0.5"/><path d="M714 242L738.5 199.0L714.0 184.3Z" fill="rgb(208,52,61)" stroke="rgb(208,52,61)" stroke-width="0.5"/><path d="M714 242L714.0 184.3L689.5 199.0Z" fill="rgb(208,52,61)" stroke="rgb(208,52,61)" stroke-width="0.5"/><path d="M714 242L689.5 199.0L665.0 213.7Z" fill="rgb(208,52,61)" stroke="rgb(208,52,61)" stroke-width="0.5"/><path d="M714 242L665.0 213.7L665.0 242.0Z" fill="rgb(200,50,59)" stroke="rgb(200,50,59)" stroke-width="0.5"/><path d="M714 242L665.0 242.0L665.0 270.3Z" fill="rgb(202,51,60)" stroke="rgb(202,51,60)" stroke-width="0.5"/><path d="M714 242L665.0 270.3L689.5 285.0Z" fill="rgb(208,52,61)" stroke="rgb(208,52,61)" stroke-width="0.5"/><path d="M714 242L689.5 285.0L714.0 299.7Z" fill="rgb(208,52,61)" stroke="rgb(208,52,61)" stroke-width="0.5"/><path d="M714 242L714.0 299.7L738.5 285.0Z" fill="rgb(208,52,61)" stroke="rgb(208,52,61)" stroke-width="0.5"/><path d="M714 242L738.5 285.0L763.0 270.3Z" fill="rgb(208,52,61)" stroke="rgb(208,52,61)" stroke-width="0.5"/><path d="M714 242L763.0 270.3L763.0 242.0Z" fill="rgb(202,51,60)" stroke="rgb(202,51,60)" stroke-width="0.5"/><path d="M-21 328L28.0 328.0L28.0 299.7Z" fill="rgb(200,50,59)" stroke="rgb(200,50,59)" stroke-width="0.5"/><path d="M-21 328L28.0 299.7L3.5 285.0Z" fill="rgb(208,52,61)" stroke="rgb(208,52,61)" stroke-width="0.5"/><path d="M-21 328L3.5 285.0L-21.0 270.3Z" fill="rgb(208,52,61)" stroke="rgb(208,52,61)" stroke-width="0.5"/><path d="M-21 328L-21.0 270.3L-45.5 285.0Z" fill="rgb(208,52,61)" stroke="rgb(208,52,61)" stroke-width="0.5"/><path d="M-21 328L-45.5 285.0L-70.0 299.7Z" fill="rgb(208,52,61)" stroke="rgb(208,52,61)" stroke-width="0.5"/><path d="M-21 328L-70.0 299.7L-70.0 328.0Z" fill="rgb(200,50,59)" stroke="rgb(200,50,59)" stroke-width="0.5"/><path d="M-21 328L-70.0 328.0L-70.0 356.3Z" fill="rgb(202,51,60)" stroke="rgb(202,51,60)" stroke-width="0.5"/><path d="M-21 328L-70.0 356.3L-45.5 371.0Z" fill="rgb(208,52,61)" stroke="rgb(208,52,61)" stroke-width="0.5"/><path d="M-21 328L-45.5 371.0L-21.0 385.7Z" fill="rgb(208,52,61)" stroke="rgb(208,52,61)" stroke-width="0.5"/><path d="M-21 328L-21.0 385.7L3.5 371.0Z" fill="rgb(208,52,61)" stroke="rgb(208,52,61)" stroke-width="0.5"/><path d="M-21 328L3.5 371.0L28.0 356.3Z" fill="rgb(208,52,61)" stroke="rgb(208,52,61)" stroke-width="0.5"/><path d="M-21 328L28.0 356.3L28.0 328.0Z" fill="rgb(202,51,60)" stroke="rgb(202,51,60)" stroke-width="0.5"/><path d="M77 328L126.0 328.0L126.0 299.7Z" fill="rgb(200,50,59)" stroke="rgb(200,50,59)" stroke-width="0.5"/><path d="M77 328L126.0 299.7L101.5 285.0Z" fill="rgb(208,52,61)" stroke="rgb(208,52,61)" stroke-width="0.5"/><path d="M77 328L101.5 285.0L77.0 270.3Z" fill="rgb(208,52,61)" stroke="rgb(208,52,61)" stroke-width="0.5"/><path d="M77 328L77.0 270.3L52.5 285.0Z" fill="rgb(208,52,61)" stroke="rgb(208,52,61)" stroke-width="0.5"/><path d="M77 328L52.5 285.0L28.0 299.7Z" fill="rgb(208,52,61)" stroke="rgb(208,52,61)" stroke-width="0.5"/><path d="M77 328L28.0 299.7L28.0 328.0Z" fill="rgb(200,50,59)" stroke="rgb(200,50,59)" stroke-width="0.5"/><path d="M77 328L28.0 328.0L28.0 356.3Z" fill="rgb(202,51,60)" stroke="rgb(202,51,60)" stroke-width="0.5"/><path d="M77 328L28.0 356.3L52.5 371.0Z" fill="rgb(208,52,61)" stroke="rgb(208,52,61)" stroke-width="0.5"/><path d="M77 328L52.5 371.0L77.0 385.7Z" fill="rgb(208,52,61)" stroke="rgb(208,52,61)" stroke-width="0.5"/><path d="M77 328L77.0 385.7L101.5 371.0Z" fill="rgb(208,52,61)" stroke="rgb(208,52,61)" stroke-width="0.5"/><path d="M77 328L101.5 371.0L126.0 356.3Z" fill="rgb(208,52,61)" stroke="rgb(208,52,61)" stroke-width="0.5"/><path d="M77 328L126.0 356.3L126.0 328.0Z" fill="rgb(202,51,60)" stroke="rgb(202,51,60)" stroke-width="0.5"/><path d="M175 328L224.0 328.0L224.0 299.7Z" fill="rgb(200,50,59)" stroke="rgb(200,50,59)" stroke-width="0.5"/><path d="M175 328L224.0 299.7L199.5 285.0Z" fill="rgb(208,52,61)" stroke="rgb(208,52,61)" stroke-width="0.5"/><path d="M175 328L199.5 285.0L175.0 270.3Z" fill="rgb(208,52,61)" stroke="rgb(208,52,61)" stroke-width="0.5"/><path d="M175 328L175.0 270.3L150.5 285.0Z" fill="rgb(208,52,61)" stroke="rgb(208,52,61)" stroke-width="0.5"/><path d="M175 328L150.5 285.0L126.0 299.7Z" fill="rgb(208,52,61)" stroke="rgb(208,52,61)" stroke-width="0.5"/><path d="M175 328L126.0 299.7L126.0 328.0Z" fill="rgb(200,50,59)" stroke="rgb(200,50,59)" stroke-width="0.5"/><path d="M175 328L126.0 328.0L126.0 356.3Z" fill="rgb(202,51,60)" stroke="rgb(202,51,60)" stroke-width="0.5"/><path d="M175 328L126.0 356.3L150.5 371.0Z" fill="rgb(208,52,61)" stroke="rgb(208,52,61)" stroke-width="0.5"/><path d="M175 328L150.5 371.0L175.0 385.7Z" fill="rgb(208,52,61)" stroke="rgb(208,52,61)" stroke-width="0.5"/><path d="M175 328L175.0 385.7L199.5 371.0Z" fill="rgb(208,52,61)" stroke="rgb(208,52,61)" stroke-width="0.5"/><path d="M175 328L199.5 371.0L224.0 356.3Z" fill="rgb(208,52,61)" stroke="rgb(208,52,61)" stroke-width="0.5"/><path d="M175 328L224.0 356.3L224.0 328.0Z" fill="rgb(202,51,60)" stroke="rgb(202,51,60)" stroke-width="0.5"/><path d="M273 328L322.0 328.0L322.0 299.7Z" fill="rgb(200,50,59)" stroke="rgb(200,50,59)" stroke-width="0.5"/><path d="M273 328L322.0 299.7L297.5 285.0Z" fill="rgb(208,52,61)" stroke="rgb(208,52,61)" stroke-width="0.5"/><path d="M273 328L297.5 285.0L273.0 270.3Z" fill="rgb(208,52,61)" stroke="rgb(208,52,61)" stroke-width="0.5"/><path d="M273 328L273.0 270.3L248.5 285.0Z" fill="rgb(208,52,61)" stroke="rgb(208,52,61)" stroke-width="0.5"/><path d="M273 328L248.5 285.0L224.0 299.7Z" fill="rgb(208,52,61)" stroke="rgb(208,52,61)" stroke-width="0.5"/><path d="M273 328L224.0 299.7L224.0 328.0Z" fill="rgb(200,50,59)" stroke="rgb(200,50,59)" stroke-width="0.5"/><path d="M273 328L224.0 328.0L224.0 356.3Z" fill="rgb(202,51,60)" stroke="rgb(202,51,60)" stroke-width="0.5"/><path d="M273 328L224.0 356.3L248.5 371.0Z" fill="rgb(208,52,61)" stroke="rgb(208,52,61)" stroke-width="0.5"/><path d="M273 328L248.5 371.0L273.0 385.7Z" fill="rgb(208,52,61)" stroke="rgb(208,52,61)" stroke-width="0.5"/><path d="M273 328L273.0 385.7L297.5 371.0Z" fill="rgb(208,52,61)" stroke="rgb(208,52,61)" stroke-width="0.5"/><path d="M273 328L297.5 371.0L322.0 356.3Z" fill="rgb(208,52,61)" stroke="rgb(208,52,61)" stroke-width="0.5"/><path d="M273 328L322.0 356.3L322.0 328.0Z" fill="rgb(202,51,60)" stroke="rgb(202,51,60)" stroke-width="0.5"/><path d="M371 328L420.0 328.0L420.0 299.7Z" fill="rgb(200,50,59)" stroke="rgb(200,50,59)" stroke-width="0.5"/><path d="M371 328L420.0 299.7L395.5 285.0Z" fill="rgb(208,52,61)" stroke="rgb(208,52,61)" stroke-width="0.5"/><path d="M371 328L395.5 285.0L371.0 270.3Z" fill="rgb(208,52,61)" stroke="rgb(208,52,61)" stroke-width="0.5"/><path d="M371 328L371.0 270.3L346.5 285.0Z" fill="rgb(208,52,61)" stroke="rgb(208,52,61)" stroke-width="0.5"/><path d="M371 328L346.5 285.0L322.0 299.7Z" fill="rgb(208,52,61)" stroke="rgb(208,52,61)" stroke-width="0.5"/><path d="M371 328L322.0 299.7L322.0 328.0Z" fill="rgb(200,50,59)" stroke="rgb(200,50,59)" stroke-width="0.5"/><path d="M371 328L322.0 328.0L322.0 356.3Z" fill="rgb(202,51,60)" stroke="rgb(202,51,60)" stroke-width="0.5"/><path d="M371 328L322.0 356.3L346.5 371.0Z" fill="rgb(208,52,61)" stroke="rgb(208,52,61)" stroke-width="0.5"/><path d="M371 328L346.5 371.0L371.0 385.7Z" fill="rgb(208,52,61)" stroke="rgb(208,52,61)" stroke-width="0.5"/><path d="M371 328L371.0 385.7L395.5 371.0Z" fill="rgb(208,52,61)" stroke="rgb(208,52,61)" stroke-width="0.5"/><path d="M371 328L395.5 371.0L420.0 356.3Z" fill="rgb(208,52,61)" stroke="rgb(208,52,61)" stroke-width="0.5"/><path d="M371 328L420.0 356.3L420.0 328.0Z" fill="rgb(202,51,60)" stroke="rgb(202,51,60)" stroke-width="0.5"/><path d="M469 328L518.0 328.0L518.0 299.7Z" fill="rgb(200,50,59)" stroke="rgb(200,50,59)" stroke-width="0.5"/><path d="M469 328L518.0 299.7L493.5 285.0Z" fill="rgb(208,52,61)" stroke="rgb(208,52,61)" stroke-width="0.5"/><path d="M469 328L493.5 285.0L469.0 270.3Z" fill="rgb(208,52,61)" stroke="rgb(208,52,61)" stroke-width="0.5"/><path d="M469 328L469.0 270.3L444.5 285.0Z" fill="rgb(208,52,61)" stroke="rgb(208,52,61)" stroke-width="0.5"/><path d="M469 328L444.5 285.0L420.0 299.7Z" fill="rgb(208,52,61)" stroke="rgb(208,52,61)" stroke-width="0.5"/><path d="M469 328L420.0 299.7L420.0 328.0Z" fill="rgb(200,50,59)" stroke="rgb(200,50,59)" stroke-width="0.5"/><path d="M469 328L420.0 328.0L420.0 356.3Z" fill="rgb(202,51,60)" stroke="rgb(202,51,60)" stroke-width="0.5"/><path d="M469 328L420.0 356.3L444.5 371.0Z" fill="rgb(208,52,61)" stroke="rgb(208,52,61)" stroke-width="0.5"/><path d="M469 328L444.5 371.0L469.0 385.7Z" fill="rgb(208,52,61)" stroke="rgb(208,52,61)" stroke-width="0.5"/><path d="M469 328L469.0 385.7L493.5 371.0Z" fill="rgb(208,52,61)" stroke="rgb(208,52,61)" stroke-width="0.5"/><path d="M469 328L493.5 371.0L518.0 356.3Z" fill="rgb(208,52,61)" stroke="rgb(208,52,61)" stroke-width="0.5"/><path d="M469 328L518.0 356.3L518.0 328.0Z" fill="rgb(202,51,60)" stroke="rgb(202,51,60)" stroke-width="0.5"/><path d="M567 328L616.0 328.0L616.0 299.7Z" fill="rgb(200,50,59)" stroke="rgb(200,50,59)" stroke-width="0.5"/><path d="M567 328L616.0 299.7L591.5 285.0Z" fill="rgb(208,52,61)" stroke="rgb(208,52,61)" stroke-width="0.5"/><path d="M567 328L591.5 285.0L567.0 270.3Z" fill="rgb(208,52,61)" stroke="rgb(208,52,61)" stroke-width="0.5"/><path d="M567 328L567.0 270.3L542.5 285.0Z" fill="rgb(208,52,61)" stroke="rgb(208,52,61)" stroke-width="0.5"/><path d="M567 328L542.5 285.0L518.0 299.7Z" fill="rgb(208,52,61)" stroke="rgb(208,52,61)" stroke-width="0.5"/><path d="M567 328L518.0 299.7L518.0 328.0Z" fill="rgb(200,50,59)" stroke="rgb(200,50,59)" stroke-width="0.5"/><path d="M567 328L518.0 328.0L518.0 356.3Z" fill="rgb(202,51,60)" stroke="rgb(202,51,60)" stroke-width="0.5"/><path d="M567 328L518.0 356.3L542.5 371.0Z" fill="rgb(208,52,61)" stroke="rgb(208,52,61)" stroke-width="0.5"/><path d="M567 328L542.5 371.0L567.0 385.7Z" fill="rgb(208,52,61)" stroke="rgb(208,52,61)" stroke-width="0.5"/><path d="M567 328L567.0 385.7L591.5 371.0Z" fill="rgb(208,52,61)" stroke="rgb(208,52,61)" stroke-width="0.5"/><path d="M567 328L591.5 371.0L616.0 356.3Z" fill="rgb(208,52,61)" stroke="rgb(208,52,61)" stroke-width="0.5"/><path d="M567 328L616.0 356.3L616.0 328.0Z" fill="rgb(202,51,60)" stroke="rgb(202,51,60)" stroke-width="0.5"/><path d="M665 328L714.0 328.0L714.0 299.7Z" fill="rgb(200,50,59)" stroke="rgb(200,50,59)" stroke-width="0.5"/><path d="M665 328L714.0 299.7L689.5 285.0Z" fill="rgb(208,52,61)" stroke="rgb(208,52,61)" stroke-width="0.5"/><path d="M665 328L689.5 285.0L665.0 270.3Z" fill="rgb(208,52,61)" stroke="rgb(208,52,61)" stroke-width="0.5"/><path d="M665 328L665.0 270.3L640.5 285.0Z" fill="rgb(208,52,61)" stroke="rgb(208,52,61)" stroke-width="0.5"/><path d="M665 328L640.5 285.0L616.0 299.7Z" fill="rgb(208,52,61)" stroke="rgb(208,52,61)" stroke-width="0.5"/><path d="M665 328L616.0 299.7L616.0 328.0Z" fill="rgb(200,50,59)" stroke="rgb(200,50,59)" stroke-width="0.5"/><path d="M665 328L616.0 328.0L616.0 356.3Z" fill="rgb(202,51,60)" stroke="rgb(202,51,60)" stroke-width="0.5"/><path d="M665 328L616.0 356.3L640.5 371.0Z" fill="rgb(208,52,61)" stroke="rgb(208,52,61)" stroke-width="0.5"/><path d="M665 328L640.5 371.0L665.0 385.7Z" fill="rgb(208,52,61)" stroke="rgb(208,52,61)" stroke-width="0.5"/><path d="M665 328L665.0 385.7L689.5 371.0Z" fill="rgb(208,52,61)" stroke="rgb(208,52,61)" stroke-width="0.5"/><path d="M665 328L689.5 371.0L714.0 356.3Z" fill="rgb(208,52,61)" stroke="rgb(208,52,61)" stroke-width="0.5"/><path d="M665 328L714.0 356.3L714.0 328.0Z" fill="rgb(202,51,60)" stroke="rgb(202,51,60)" stroke-width="0.5"/><path d="M763 328L812.0 328.0L812.0 299.7Z" fill="rgb(200,50,59)" stroke="rgb(200,50,59)" stroke-width="0.5"/><path d="M763 328L812.0 299.7L787.5 285.0Z" fill="rgb(208,52,61)" stroke="rgb(208,52,61)" stroke-width="0.5"/><path d="M763 328L787.5 285.0L763.0 270.3Z" fill="rgb(208,52,61)" stroke="rgb(208,52,61)" stroke-width="0.5"/><path d="M763 328L763.0 270.3L738.5 285.0Z" fill="rgb(208,52,61)" stroke="rgb(208,52,61)" stroke-width="0.5"/><path d="M763 328L738.5 285.0L714.0 299.7Z" fill="rgb(208,52,61)" stroke="rgb(208,52,61)" stroke-width="0.5"/><path d="M763 328L714.0 299.7L714.0 328.0Z" fill="rgb(200,50,59)" stroke="rgb(200,50,59)" stroke-width="0.5"/><path d="M763 328L714.0 328.0L714.0 356.3Z" fill="rgb(202,51,60)" stroke="rgb(202,51,60)" stroke-width="0.5"/><path d="M763 328L714.0 356.3L738.5 371.0Z" fill="rgb(208,52,61)" stroke="rgb(208,52,61)" stroke-width="0.5"/><path d="M763 328L738.5 371.0L763.0 385.7Z" fill="rgb(208,52,61)" stroke="rgb(208,52,61)" stroke-width="0.5"/><path d="M763 328L763.0 385.7L787.5 371.0Z" fill="rgb(208,52,61)" stroke="rgb(208,52,61)" stroke-width="0.5"/><path d="M763 328L787.5 371.0L812.0 356.3Z" fill="rgb(208,52,61)" stroke="rgb(208,52,61)" stroke-width="0.5"/><path d="M763 328L812.0 356.3L812.0 328.0Z" fill="rgb(202,51,60)" stroke="rgb(202,51,60)" stroke-width="0.5"/><path d="M-70 414L-21.0 414.0L-21.0 385.7Z" fill="rgb(200,50,59)" stroke="rgb(200,50,59)" stroke-width="0.5"/><path d="M-70 414L-21.0 385.7L-45.5 371.0Z" fill="rgb(208,52,61)" stroke="rgb(208,52,61)" stroke-width="0.5"/><path d="M-70 414L-45.5 371.0L-70.0 356.3Z" fill="rgb(208,52,61)" stroke="rgb(208,52,61)" stroke-width="0.5"/><path d="M-70 414L-70.0 356.3L-94.5 371.0Z" fill="rgb(208,52,61)" stroke="rgb(208,52,61)" stroke-width="0.5"/><path d="M-70 414L-94.5 371.0L-119.0 385.7Z" fill="rgb(208,52,61)" stroke="rgb(208,52,61)" stroke-width="0.5"/><path d="M-70 414L-119.0 385.7L-119.0 414.0Z" fill="rgb(200,50,59)" stroke="rgb(200,50,59)" stroke-width="0.5"/><path d="M-70 414L-119.0 414.0L-119.0 442.3Z" fill="rgb(202,51,60)" stroke="rgb(202,51,60)" stroke-width="0.5"/><path d="M-70 414L-119.0 442.3L-94.5 457.0Z" fill="rgb(208,52,61)" stroke="rgb(208,52,61)" stroke-width="0.5"/><path d="M-70 414L-94.5 457.0L-70.0 471.7Z" fill="rgb(208,52,61)" stroke="rgb(208,52,61)" stroke-width="0.5"/><path d="M-70 414L-70.0 471.7L-45.5 457.0Z" fill="rgb(208,52,61)" stroke="rgb(208,52,61)" stroke-width="0.5"/><path d="M-70 414L-45.5 457.0L-21.0 442.3Z" fill="rgb(208,52,61)" stroke="rgb(208,52,61)" stroke-width="0.5"/><path d="M-70 414L-21.0 442.3L-21.0 414.0Z" fill="rgb(202,51,60)" stroke="rgb(202,51,60)" stroke-width="0.5"/><path d="M28 414L77.0 414.0L77.0 385.7Z" fill="rgb(200,50,59)" stroke="rgb(200,50,59)" stroke-width="0.5"/><path d="M28 414L77.0 385.7L52.5 371.0Z" fill="rgb(208,52,61)" stroke="rgb(208,52,61)" stroke-width="0.5"/><path d="M28 414L52.5 371.0L28.0 356.3Z" fill="rgb(208,52,61)" stroke="rgb(208,52,61)" stroke-width="0.5"/><path d="M28 414L28.0 356.3L3.5 371.0Z" fill="rgb(208,52,61)" stroke="rgb(208,52,61)" stroke-width="0.5"/><path d="M28 414L3.5 371.0L-21.0 385.7Z" fill="rgb(208,52,61)" stroke="rgb(208,52,61)" stroke-width="0.5"/><path d="M28 414L-21.0 385.7L-21.0 414.0Z" fill="rgb(200,50,59)" stroke="rgb(200,50,59)" stroke-width="0.5"/><path d="M28 414L-21.0 414.0L-21.0 442.3Z" fill="rgb(202,51,60)" stroke="rgb(202,51,60)" stroke-width="0.5"/><path d="M28 414L-21.0 442.3L3.5 457.0Z" fill="rgb(208,52,61)" stroke="rgb(208,52,61)" stroke-width="0.5"/><path d="M28 414L3.5 457.0L28.0 471.7Z" fill="rgb(208,52,61)" stroke="rgb(208,52,61)" stroke-width="0.5"/><path d="M28 414L28.0 471.7L52.5 457.0Z" fill="rgb(208,52,61)" stroke="rgb(208,52,61)" stroke-width="0.5"/><path d="M28 414L52.5 457.0L77.0 442.3Z" fill="rgb(208,52,61)" stroke="rgb(208,52,61)" stroke-width="0.5"/><path d="M28 414L77.0 442.3L77.0 414.0Z" fill="rgb(202,51,60)" stroke="rgb(202,51,60)" stroke-width="0.5"/><path d="M126 414L175.0 414.0L175.0 385.7Z" fill="rgb(200,50,59)" stroke="rgb(200,50,59)" stroke-width="0.5"/><path d="M126 414L175.0 385.7L150.5 371.0Z" fill="rgb(208,52,61)" stroke="rgb(208,52,61)" stroke-width="0.5"/><path d="M126 414L150.5 371.0L126.0 356.3Z" fill="rgb(208,52,61)" stroke="rgb(208,52,61)" stroke-width="0.5"/><path d="M126 414L126.0 356.3L101.5 371.0Z" fill="rgb(208,52,61)" stroke="rgb(208,52,61)" stroke-width="0.5"/><path d="M126 414L101.5 371.0L77.0 385.7Z" fill="rgb(208,52,61)" stroke="rgb(208,52,61)" stroke-width="0.5"/><path d="M126 414L77.0 385.7L77.0 414.0Z" fill="rgb(200,50,59)" stroke="rgb(200,50,59)" stroke-width="0.5"/><path d="M126 414L77.0 414.0L77.0 442.3Z" fill="rgb(202,51,60)" stroke="rgb(202,51,60)" stroke-width="0.5"/><path d="M126 414L77.0 442.3L101.5 457.0Z" fill="rgb(208,52,61)" stroke="rgb(208,52,61)" stroke-width="0.5"/><path d="M126 414L101.5 457.0L126.0 471.7Z" fill="rgb(208,52,61)" stroke="rgb(208,52,61)" stroke-width="0.5"/><path d="M126 414L126.0 471.7L150.5 457.0Z" fill="rgb(208,52,61)" stroke="rgb(208,52,61)" stroke-width="0.5"/><path d="M126 414L150.5 457.0L175.0 442.3Z" fill="rgb(208,52,61)" stroke="rgb(208,52,61)" stroke-width="0.5"/><path d="M126 414L175.0 442.3L175.0 414.0Z" fill="rgb(202,51,60)" stroke="rgb(202,51,60)" stroke-width="0.5"/><path d="M224 414L273.0 414.0L273.0 385.7Z" fill="rgb(200,50,59)" stroke="rgb(200,50,59)" stroke-width="0.5"/><path d="M224 414L273.0 385.7L248.5 371.0Z" fill="rgb(208,52,61)" stroke="rgb(208,52,61)" stroke-width="0.5"/><path d="M224 414L248.5 371.0L224.0 356.3Z" fill="rgb(208,52,61)" stroke="rgb(208,52,61)" stroke-width="0.5"/><path d="M224 414L224.0 356.3L199.5 371.0Z" fill="rgb(208,52,61)" stroke="rgb(208,52,61)" stroke-width="0.5"/><path d="M224 414L199.5 371.0L175.0 385.7Z" fill="rgb(208,52,61)" stroke="rgb(208,52,61)" stroke-width="0.5"/><path d="M224 414L175.0 385.7L175.0 414.0Z" fill="rgb(200,50,59)" stroke="rgb(200,50,59)" stroke-width="0.5"/><path d="M224 414L175.0 414.0L175.0 442.3Z" fill="rgb(202,51,60)" stroke="rgb(202,51,60)" stroke-width="0.5"/><path d="M224 414L175.0 442.3L199.5 457.0Z" fill="rgb(208,52,61)" stroke="rgb(208,52,61)" stroke-width="0.5"/><path d="M224 414L199.5 457.0L224.0 471.7Z" fill="rgb(208,52,61)" stroke="rgb(208,52,61)" stroke-width="0.5"/><path d="M224 414L224.0 471.7L248.5 457.0Z" fill="rgb(208,52,61)" stroke="rgb(208,52,61)" stroke-width="0.5"/><path d="M224 414L248.5 457.0L273.0 442.3Z" fill="rgb(208,52,61)" stroke="rgb(208,52,61)" stroke-width="0.5"/><path d="M224 414L273.0 442.3L273.0 414.0Z" fill="rgb(202,51,60)" stroke="rgb(202,51,60)" stroke-width="0.5"/><path d="M322 414L371.0 414.0L371.0 385.7Z" fill="rgb(200,50,59)" stroke="rgb(200,50,59)" stroke-width="0.5"/><path d="M322 414L371.0 385.7L346.5 371.0Z" fill="rgb(208,52,61)" stroke="rgb(208,52,61)" stroke-width="0.5"/><path d="M322 414L346.5 371.0L322.0 356.3Z" fill="rgb(208,52,61)" stroke="rgb(208,52,61)" stroke-width="0.5"/><path d="M322 414L322.0 356.3L297.5 371.0Z" fill="rgb(208,52,61)" stroke="rgb(208,52,61)" stroke-width="0.5"/><path d="M322 414L297.5 371.0L273.0 385.7Z" fill="rgb(208,52,61)" stroke="rgb(208,52,61)" stroke-width="0.5"/><path d="M322 414L273.0 385.7L273.0 414.0Z" fill="rgb(200,50,59)" stroke="rgb(200,50,59)" stroke-width="0.5"/><path d="M322 414L273.0 414.0L273.0 442.3Z" fill="rgb(202,51,60)" stroke="rgb(202,51,60)" stroke-width="0.5"/><path d="M322 414L273.0 442.3L297.5 457.0Z" fill="rgb(208,52,61)" stroke="rgb(208,52,61)" stroke-width="0.5"/><path d="M322 414L297.5 457.0L322.0 471.7Z" fill="rgb(208,52,61)" stroke="rgb(208,52,61)" stroke-width="0.5"/><path d="M322 414L322.0 471.7L346.5 457.0Z" fill="rgb(208,52,61)" stroke="rgb(208,52,61)" stroke-width="0.5"/><path d="M322 414L346.5 457.0L371.0 442.3Z" fill="rgb(208,52,61)" stroke="rgb(208,52,61)" stroke-width="0.5"/><path d="M322 414L371.0 442.3L371.0 414.0Z" fill="rgb(202,51,60)" stroke="rgb(202,51,60)" stroke-width="0.5"/><path d="M420 414L469.0 414.0L469.0 385.7Z" fill="rgb(200,50,59)" stroke="rgb(200,50,59)" stroke-width="0.5"/><path d="M420 414L469.0 385.7L444.5 371.0Z" fill="rgb(208,52,61)" stroke="rgb(208,52,61)" stroke-width="0.5"/><path d="M420 414L444.5 371.0L420.0 356.3Z" fill="rgb(208,52,61)" stroke="rgb(208,52,61)" stroke-width="0.5"/><path d="M420 414L420.0 356.3L395.5 371.0Z" fill="rgb(208,52,61)" stroke="rgb(208,52,61)" stroke-width="0.5"/><path d="M420 414L395.5 371.0L371.0 385.7Z" fill="rgb(208,52,61)" stroke="rgb(208,52,61)" stroke-width="0.5"/><path d="M420 414L371.0 385.7L371.0 414.0Z" fill="rgb(200,50,59)" stroke="rgb(200,50,59)" stroke-width="0.5"/><path d="M420 414L371.0 414.0L371.0 442.3Z" fill="rgb(202,51,60)" stroke="rgb(202,51,60)" stroke-width="0.5"/><path d="M420 414L371.0 442.3L395.5 457.0Z" fill="rgb(208,52,61)" stroke="rgb(208,52,61)" stroke-width="0.5"/><path d="M420 414L395.5 457.0L420.0 471.7Z" fill="rgb(208,52,61)" stroke="rgb(208,52,61)" stroke-width="0.5"/><path d="M420 414L420.0 471.7L444.5 457.0Z" fill="rgb(208,52,61)" stroke="rgb(208,52,61)" stroke-width="0.5"/><path d="M420 414L444.5 457.0L469.0 442.3Z" fill="rgb(208,52,61)" stroke="rgb(208,52,61)" stroke-width="0.5"/><path d="M420 414L469.0 442.3L469.0 414.0Z" fill="rgb(202,51,60)" stroke="rgb(202,51,60)" stroke-width="0.5"/><path d="M518 414L567.0 414.0L567.0 385.7Z" fill="rgb(200,50,59)" stroke="rgb(200,50,59)" stroke-width="0.5"/><path d="M518 414L567.0 385.7L542.5 371.0Z" fill="rgb(208,52,61)" stroke="rgb(208,52,61)" stroke-width="0.5"/><path d="M518 414L542.5 371.0L518.0 356.3Z" fill="rgb(208,52,61)" stroke="rgb(208,52,61)" stroke-width="0.5"/><path d="M518 414L518.0 356.3L493.5 371.0Z" fill="rgb(208,52,61)" stroke="rgb(208,52,61)" stroke-width="0.5"/><path d="M518 414L493.5 371.0L469.0 385.7Z" fill="rgb(208,52,61)" stroke="rgb(208,52,61)" stroke-width="0.5"/><path d="M518 414L469.0 385.7L469.0 414.0Z" fill="rgb(200,50,59)" stroke="rgb(200,50,59)" stroke-width="0.5"/><path d="M518 414L469.0 414.0L469.0 442.3Z" fill="rgb(202,51,60)" stroke="rgb(202,51,60)" stroke-width="0.5"/><path d="M518 414L469.0 442.3L493.5 457.0Z" fill="rgb(208,52,61)" stroke="rgb(208,52,61)" stroke-width="0.5"/><path d="M518 414L493.5 457.0L518.0 471.7Z" fill="rgb(208,52,61)" stroke="rgb(208,52,61)" stroke-width="0.5"/><path d="M518 414L518.0 471.7L542.5 457.0Z" fill="rgb(208,52,61)" stroke="rgb(208,52,61)" stroke-width="0.5"/><path d="M518 414L542.5 457.0L567.0 442.3Z" fill="rgb(208,52,61)" stroke="rgb(208,52,61)" stroke-width="0.5"/><path d="M518 414L567.0 442.3L567.0 414.0Z" fill="rgb(202,51,60)" stroke="rgb(202,51,60)" stroke-width="0.5"/><path d="M616 414L665.0 414.0L665.0 385.7Z" fill="rgb(200,50,59)" stroke="rgb(200,50,59)" stroke-width="0.5"/><path d="M616 414L665.0 385.7L640.5 371.0Z" fill="rgb(208,52,61)" stroke="rgb(208,52,61)" stroke-width="0.5"/><path d="M616 414L640.5 371.0L616.0 356.3Z" fill="rgb(208,52,61)" stroke="rgb(208,52,61)" stroke-width="0.5"/><path d="M616 414L616.0 356.3L591.5 371.0Z" fill="rgb(208,52,61)" stroke="rgb(208,52,61)" stroke-width="0.5"/><path d="M616 414L591.5 371.0L567.0 385.7Z" fill="rgb(208,52,61)" stroke="rgb(208,52,61)" stroke-width="0.5"/><path d="M616 414L567.0 385.7L567.0 414.0Z" fill="rgb(200,50,59)" stroke="rgb(200,50,59)" stroke-width="0.5"/><path d="M616 414L567.0 414.0L567.0 442.3Z" fill="rgb(202,51,60)" stroke="rgb(202,51,60)" stroke-width="0.5"/><path d="M616 414L567.0 442.3L591.5 457.0Z" fill="rgb(208,52,61)" stroke="rgb(208,52,61)" stroke-width="0.5"/><path d="M616 414L591.5 457.0L616.0 471.7Z" fill="rgb(208,52,61)" stroke="rgb(208,52,61)" stroke-width="0.5"/><path d="M616 414L616.0 471.7L640.5 457.0Z" fill="rgb(208,52,61)" stroke="rgb(208,52,61)" stroke-width="0.5"/><path d="M616 414L640.5 457.0L665.0 442.3Z" fill="rgb(208,52,61)" stroke="rgb(208,52,61)" stroke-width="0.5"/><path d="M616 414L665.0 442.3L665.0 414.0Z" fill="rgb(202,51,60)" stroke="rgb(202,51,60)" stroke-width="0.5"/><path d="M714 414L763.0 414.0L763.0 385.7Z" fill="rgb(200,50,59)" stroke="rgb(200,50,59)" stroke-width="0.5"/><path d="M714 414L763.0 385.7L738.5 371.0Z" fill="rgb(208,52,61)" stroke="rgb(208,52,61)" stroke-width="0.5"/><path d="M714 414L738.5 371.0L714.0 356.3Z" fill="rgb(208,52,61)" stroke="rgb(208,52,61)" stroke-width="0.5"/><path d="M714 414L714.0 356.3L689.5 371.0Z" fill="rgb(208,52,61)" stroke="rgb(208,52,61)" stroke-width="0.5"/><path d="M714 414L689.5 371.0L665.0 385.7Z" fill="rgb(208,52,61)" stroke="rgb(208,52,61)" stroke-width="0.5"/><path d="M714 414L665.0 385.7L665.0 414.0Z" fill="rgb(200,50,59)" stroke="rgb(200,50,59)" stroke-width="0.5"/><path d="M714 414L665.0 414.0L665.0 442.3Z" fill="rgb(202,51,60)" stroke="rgb(202,51,60)" stroke-width="0.5"/><path d="M714 414L665.0 442.3L689.5 457.0Z" fill="rgb(208,52,61)" stroke="rgb(208,52,61)" stroke-width="0.5"/><path d="M714 414L689.5 457.0L714.0 471.7Z" fill="rgb(208,52,61)" stroke="rgb(208,52,61)" stroke-width="0.5"/><path d="M714 414L714.0 471.7L738.5 457.0Z" fill="rgb(208,52,61)" stroke="rgb(208,52,61)" stroke-width="0.5"/><path d="M714 414L738.5 457.0L763.0 442.3Z" fill="rgb(208,52,61)" stroke="rgb(208,52,61)" stroke-width="0.5"/><path d="M714 414L763.0 442.3L763.0 414.0Z" fill="rgb(202,51,60)" stroke="rgb(202,51,60)" stroke-width="0.5"/><path d="M-21 500L28.0 500.0L28.0 471.7Z" fill="rgb(200,50,59)" stroke="rgb(200,50,59)" stroke-width="0.5"/><path d="M-21 500L28.0 471.7L3.5 457.0Z" fill="rgb(208,52,61)" stroke="rgb(208,52,61)" stroke-width="0.5"/><path d="M-21 500L3.5 457.0L-21.0 442.3Z" fill="rgb(208,52,61)" stroke="rgb(208,52,61)" stroke-width="0.5"/><path d="M-21 500L-21.0 442.3L-45.5 457.0Z" fill="rgb(208,52,61)" stroke="rgb(208,52,61)" stroke-width="0.5"/><path d="M-21 500L-45.5 457.0L-70.0 471.7Z" fill="rgb(208,52,61)" stroke="rgb(208,52,61)" stroke-width="0.5"/><path d="M-21 500L-70.0 471.7L-70.0 500.0Z" fill="rgb(200,50,59)" stroke="rgb(200,50,59)" stroke-width="0.5"/><path d="M-21 500L-70.0 500.0L-70.0 528.3Z" fill="rgb(202,51,60)" stroke="rgb(202,51,60)" stroke-width="0.5"/><path d="M-21 500L-70.0 528.3L-45.5 543.0Z" fill="rgb(208,52,61)" stroke="rgb(208,52,61)" stroke-width="0.5"/><path d="M-21 500L-45.5 543.0L-21.0 557.7Z" fill="rgb(208,52,61)" stroke="rgb(208,52,61)" stroke-width="0.5"/><path d="M-21 500L-21.0 557.7L3.5 543.0Z" fill="rgb(208,52,61)" stroke="rgb(208,52,61)" stroke-width="0.5"/><path d="M-21 500L3.5 543.0L28.0 528.3Z" fill="rgb(208,52,61)" stroke="rgb(208,52,61)" stroke-width="0.5"/><path d="M-21 500L28.0 528.3L28.0 500.0Z" fill="rgb(202,51,60)" stroke="rgb(202,51,60)" stroke-width="0.5"/><path d="M77 500L126.0 500.0L126.0 471.7Z" fill="rgb(200,50,59)" stroke="rgb(200,50,59)" stroke-width="0.5"/><path d="M77 500L126.0 471.7L101.5 457.0Z" fill="rgb(208,52,61)" stroke="rgb(208,52,61)" stroke-width="0.5"/><path d="M77 500L101.5 457.0L77.0 442.3Z" fill="rgb(208,52,61)" stroke="rgb(208,52,61)" stroke-width="0.5"/><path d="M77 500L77.0 442.3L52.5 457.0Z" fill="rgb(208,52,61)" stroke="rgb(208,52,61)" stroke-width="0.5"/><path d="M77 500L52.5 457.0L28.0 471.7Z" fill="rgb(208,52,61)" stroke="rgb(208,52,61)" stroke-width="0.5"/><path d="M77 500L28.0 471.7L28.0 500.0Z" fill="rgb(200,50,59)" stroke="rgb(200,50,59)" stroke-width="0.5"/><path d="M77 500L28.0 500.0L28.0 528.3Z" fill="rgb(202,51,60)" stroke="rgb(202,51,60)" stroke-width="0.5"/><path d="M77 500L28.0 528.3L52.5 543.0Z" fill="rgb(208,52,61)" stroke="rgb(208,52,61)" stroke-width="0.5"/><path d="M77 500L52.5 543.0L77.0 557.7Z" fill="rgb(208,52,61)" stroke="rgb(208,52,61)" stroke-width="0.5"/><path d="M77 500L77.0 557.7L101.5 543.0Z" fill="rgb(208,52,61)" stroke="rgb(208,52,61)" stroke-width="0.5"/><path d="M77 500L101.5 543.0L126.0 528.3Z" fill="rgb(208,52,61)" stroke="rgb(208,52,61)" stroke-width="0.5"/><path d="M77 500L126.0 528.3L126.0 500.0Z" fill="rgb(202,51,60)" stroke="rgb(202,51,60)" stroke-width="0.5"/><path d="M175 500L224.0 500.0L224.0 471.7Z" fill="rgb(200,50,59)" stroke="rgb(200,50,59)" stroke-width="0.5"/><path d="M175 500L224.0 471.7L199.5 457.0Z" fill="rgb(208,52,61)" stroke="rgb(208,52,61)" stroke-width="0.5"/><path d="M175 500L199.5 457.0L175.0 442.3Z" fill="rgb(208,52,61)" stroke="rgb(208,52,61)" stroke-width="0.5"/><path d="M175 500L175.0 442.3L150.5 457.0Z" fill="rgb(208,52,61)" stroke="rgb(208,52,61)" stroke-width="0.5"/><path d="M175 500L150.5 457.0L126.0 471.7Z" fill="rgb(208,52,61)" stroke="rgb(208,52,61)" stroke-width="0.5"/><path d="M175 500L126.0 471.7L126.0 500.0Z" fill="rgb(200,50,59)" stroke="rgb(200,50,59)" stroke-width="0.5"/><path d="M175 500L126.0 500.0L126.0 528.3Z" fill="rgb(202,51,60)" stroke="rgb(202,51,60)" stroke-width="0.5"/><path d="M175 500L126.0 528.3L150.5 543.0Z" fill="rgb(208,52,61)" stroke="rgb(208,52,61)" stroke-width="0.5"/><path d="M175 500L150.5 543.0L175.0 557.7Z" fill="rgb(208,52,61)" stroke="rgb(208,52,61)" stroke-width="0.5"/><path d="M175 500L175.0 557.7L199.5 543.0Z" fill="rgb(208,52,61)" stroke="rgb(208,52,61)" stroke-width="0.5"/><path d="M175 500L199.5 543.0L224.0 528.3Z" fill="rgb(208,52,61)" stroke="rgb(208,52,61)" stroke-width="0.5"/><path d="M175 500L224.0 528.3L224.0 500.0Z" fill="rgb(202,51,60)" stroke="rgb(202,51,60)" stroke-width="0.5"/><path d="M273 500L322.0 500.0L322.0 471.7Z" fill="rgb(200,50,59)" stroke="rgb(200,50,59)" stroke-width="0.5"/><path d="M273 500L322.0 471.7L297.5 457.0Z" fill="rgb(208,52,61)" stroke="rgb(208,52,61)" stroke-width="0.5"/><path d="M273 500L297.5 457.0L273.0 442.3Z" fill="rgb(208,52,61)" stroke="rgb(208,52,61)" stroke-width="0.5"/><path d="M273 500L273.0 442.3L248.5 457.0Z" fill="rgb(208,52,61)" stroke="rgb(208,52,61)" stroke-width="0.5"/><path d="M273 500L248.5 457.0L224.0 471.7Z" fill="rgb(208,52,61)" stroke="rgb(208,52,61)" stroke-width="0.5"/><path d="M273 500L224.0 471.7L224.0 500.0Z" fill="rgb(200,50,59)" stroke="rgb(200,50,59)" stroke-width="0.5"/><path d="M273 500L224.0 500.0L224.0 528.3Z" fill="rgb(202,51,60)" stroke="rgb(202,51,60)" stroke-width="0.5"/><path d="M273 500L224.0 528.3L248.5 543.0Z" fill="rgb(208,52,61)" stroke="rgb(208,52,61)" stroke-width="0.5"/><path d="M273 500L248.5 543.0L273.0 557.7Z" fill="rgb(208,52,61)" stroke="rgb(208,52,61)" stroke-width="0.5"/><path d="M273 500L273.0 557.7L297.5 543.0Z" fill="rgb(208,52,61)" stroke="rgb(208,52,61)" stroke-width="0.5"/><path d="M273 500L297.5 543.0L322.0 528.3Z" fill="rgb(208,52,61)" stroke="rgb(208,52,61)" stroke-width="0.5"/><path d="M273 500L322.0 528.3L322.0 500.0Z" fill="rgb(202,51,60)" stroke="rgb(202,51,60)" stroke-width="0.5"/><path d="M371 500L420.0 500.0L420.0 471.7Z" fill="rgb(200,50,59)" stroke="rgb(200,50,59)" stroke-width="0.5"/><path d="M371 500L420.0 471.7L395.5 457.0Z" fill="rgb(208,52,61)" stroke="rgb(208,52,61)" stroke-width="0.5"/><path d="M371 500L395.5 457.0L371.0 442.3Z" fill="rgb(208,52,61)" stroke="rgb(208,52,61)" stroke-width="0.5"/><path d="M371 500L371.0 442.3L346.5 457.0Z" fill="rgb(208,52,61)" stroke="rgb(208,52,61)" stroke-width="0.5"/><path d="M371 500L346.5 457.0L322.0 471.7Z" fill="rgb(208,52,61)" stroke="rgb(208,52,61)" stroke-width="0.5"/><path d="M371 500L322.0 471.7L322.0 500.0Z" fill="rgb(200,50,59)" stroke="rgb(200,50,59)" stroke-width="0.5"/><path d="M371 500L322.0 500.0L322.0 528.3Z" fill="rgb(202,51,60)" stroke="rgb(202,51,60)" stroke-width="0.5"/><path d="M371 500L322.0 528.3L346.5 543.0Z" fill="rgb(208,52,61)" stroke="rgb(208,52,61)" stroke-width="0.5"/><path d="M371 500L346.5 543.0L371.0 557.7Z" fill="rgb(208,52,61)" stroke="rgb(208,52,61)" stroke-width="0.5"/><path d="M371 500L371.0 557.7L395.5 543.0Z" fill="rgb(208,52,61)" stroke="rgb(208,52,61)" stroke-width="0.5"/><path d="M371 500L395.5 543.0L420.0 528.3Z" fill="rgb(208,52,61)" stroke="rgb(208,52,61)" stroke-width="0.5"/><path d="M371 500L420.0 528.3L420.0 500.0Z" fill="rgb(202,51,60)" stroke="rgb(202,51,60)" stroke-width="0.5"/><path d="M469 500L518.0 500.0L518.0 471.7Z" fill="rgb(200,50,59)" stroke="rgb(200,50,59)" stroke-width="0.5"/><path d="M469 500L518.0 471.7L493.5 457.0Z" fill="rgb(208,52,61)" stroke="rgb(208,52,61)" stroke-width="0.5"/><path d="M469 500L493.5 457.0L469.0 442.3Z" fill="rgb(208,52,61)" stroke="rgb(208,52,61)" stroke-width="0.5"/><path d="M469 500L469.0 442.3L444.5 457.0Z" fill="rgb(208,52,61)" stroke="rgb(208,52,61)" stroke-width="0.5"/><path d="M469 500L444.5 457.0L420.0 471.7Z" fill="rgb(208,52,61)" stroke="rgb(208,52,61)" stroke-width="0.5"/><path d="M469 500L420.0 471.7L420.0 500.0Z" fill="rgb(200,50,59)" stroke="rgb(200,50,59)" stroke-width="0.5"/><path d="M469 500L420.0 500.0L420.0 528.3Z" fill="rgb(202,51,60)" stroke="rgb(202,51,60)" stroke-width="0.5"/><path d="M469 500L420.0 528.3L444.5 543.0Z" fill="rgb(208,52,61)" stroke="rgb(208,52,61)" stroke-width="0.5"/><path d="M469 500L444.5 543.0L469.0 557.7Z" fill="rgb(208,52,61)" stroke="rgb(208,52,61)" stroke-width="0.5"/><path d="M469 500L469.0 557.7L493.5 543.0Z" fill="rgb(208,52,61)" stroke="rgb(208,52,61)" stroke-width="0.5"/><path d="M469 500L493.5 543.0L518.0 528.3Z" fill="rgb(208,52,61)" stroke="rgb(208,52,61)" stroke-width="0.5"/><path d="M469 500L518.0 528.3L518.0 500.0Z" fill="rgb(202,51,60)" stroke="rgb(202,51,60)" stroke-width="0.5"/><path d="M567 500L616.0 500.0L616.0 471.7Z" fill="rgb(200,50,59)" stroke="rgb(200,50,59)" stroke-width="0.5"/><path d="M567 500L616.0 471.7L591.5 457.0Z" fill="rgb(208,52,61)" stroke="rgb(208,52,61)" stroke-width="0.5"/><path d="M567 500L591.5 457.0L567.0 442.3Z" fill="rgb(208,52,61)" stroke="rgb(208,52,61)" stroke-width="0.5"/><path d="M567 500L567.0 442.3L542.5 457.0Z" fill="rgb(208,52,61)" stroke="rgb(208,52,61)" stroke-width="0.5"/><path d="M567 500L542.5 457.0L518.0 471.7Z" fill="rgb(208,52,61)" stroke="rgb(208,52,61)" stroke-width="0.5"/><path d="M567 500L518.0 471.7L518.0 500.0Z" fill="rgb(200,50,59)" stroke="rgb(200,50,59)" stroke-width="0.5"/><path d="M567 500L518.0 500.0L518.0 528.3Z" fill="rgb(202,51,60)" stroke="rgb(202,51,60)" stroke-width="0.5"/><path d="M567 500L518.0 528.3L542.5 543.0Z" fill="rgb(208,52,61)" stroke="rgb(208,52,61)" stroke-width="0.5"/><path d="M567 500L542.5 543.0L567.0 557.7Z" fill="rgb(208,52,61)" stroke="rgb(208,52,61)" stroke-width="0.5"/><path d="M567 500L567.0 557.7L591.5 543.0Z" fill="rgb(208,52,61)" stroke="rgb(208,52,61)" stroke-width="0.5"/><path d="M567 500L591.5 543.0L616.0 528.3Z" fill="rgb(208,52,61)" stroke="rgb(208,52,61)" stroke-width="0.5"/><path d="M567 500L616.0 528.3L616.0 500.0Z" fill="rgb(202,51,60)" stroke="rgb(202,51,60)" stroke-width="0.5"/><path d="M665 500L714.0 500.0L714.0 471.7Z" fill="rgb(200,50,59)" stroke="rgb(200,50,59)" stroke-width="0.5"/><path d="M665 500L714.0 471.7L689.5 457.0Z" fill="rgb(208,52,61)" stroke="rgb(208,52,61)" stroke-width="0.5"/><path d="M665 500L689.5 457.0L665.0 442.3Z" fill="rgb(208,52,61)" stroke="rgb(208,52,61)" stroke-width="0.5"/><path d="M665 500L665.0 442.3L640.5 457.0Z" fill="rgb(208,52,61)" stroke="rgb(208,52,61)" stroke-width="0.5"/><path d="M665 500L640.5 457.0L616.0 471.7Z" fill="rgb(208,52,61)" stroke="rgb(208,52,61)" stroke-width="0.5"/><path d="M665 500L616.0 471.7L616.0 500.0Z" fill="rgb(200,50,59)" stroke="rgb(200,50,59)" stroke-width="0.5"/><path d="M665 500L616.0 500.0L616.0 528.3Z" fill="rgb(202,51,60)" stroke="rgb(202,51,60)" stroke-width="0.5"/><path d="M665 500L616.0 528.3L640.5 543.0Z" fill="rgb(208,52,61)" stroke="rgb(208,52,61)" stroke-width="0.5"/><path d="M665 500L640.5 543.0L665.0 557.7Z" fill="rgb(208,52,61)" stroke="rgb(208,52,61)" stroke-width="0.5"/><path d="M665 500L665.0 557.7L689.5 543.0Z" fill="rgb(208,52,61)" stroke="rgb(208,52,61)" stroke-width="0.5"/><path d="M665 500L689.5 543.0L714.0 528.3Z" fill="rgb(208,52,61)" stroke="rgb(208,52,61)" stroke-width="0.5"/><path d="M665 500L714.0 528.3L714.0 500.0Z" fill="rgb(202,51,60)" stroke="rgb(202,51,60)" stroke-width="0.5"/><path d="M763 500L812.0 500.0L812.0 471.7Z" fill="rgb(200,50,59)" stroke="rgb(200,50,59)" stroke-width="0.5"/><path d="M763 500L812.0 471.7L787.5 457.0Z" fill="rgb(208,52,61)" stroke="rgb(208,52,61)" stroke-width="0.5"/><path d="M763 500L787.5 457.0L763.0 442.3Z" fill="rgb(208,52,61)" stroke="rgb(208,52,61)" stroke-width="0.5"/><path d="M763 500L763.0 442.3L738.5 457.0Z" fill="rgb(208,52,61)" stroke="rgb(208,52,61)" stroke-width="0.5"/><path d="M763 500L738.5 457.0L714.0 471.7Z" fill="rgb(208,52,61)" stroke="rgb(208,52,61)" stroke-width="0.5"/><path d="M763 500L714.0 471.7L714.0 500.0Z" fill="rgb(200,50,59)" stroke="rgb(200,50,59)" stroke-width="0.5"/><path d="M763 500L714.0 500.0L714.0 528.3Z" fill="rgb(202,51,60)" stroke="rgb(202,51,60)" stroke-width="0.5"/><path d="M763 500L714.0 528.3L738.5 543.0Z" fill="rgb(208,52,61)" stroke="rgb(208,52,61)" stroke-width="0.5"/><path d="M763 500L738.5 543.0L763.0 557.7Z" fill="rgb(208,52,61)" stroke="rgb(208,52,61)" stroke-width="0.5"/><path d="M763 500L763.0 557.7L787.5 543.0Z" fill="rgb(208,52,61)" stroke="rgb(208,52,61)" stroke-width="0.5"/><path d="M763 500L787.5 543.0L812.0 528.3Z" fill="rgb(208,52,61)" stroke="rgb(208,52,61)" stroke-width="0.5"/><path d="M763 500L812.0 528.3L812.0 500.0Z" fill="rgb(202,51,60)" stroke="rgb(202,51,60)" stroke-width="0.5"/><path d="M-70 586L-21.0 586.0L-21.0 557.7Z" fill="rgb(200,50,59)" stroke="rgb(200,50,59)" stroke-width="0.5"/><path d="M-70 586L-21.0 557.7L-45.5 543.0Z" fill="rgb(208,52,61)" stroke="rgb(208,52,61)" stroke-width="0.5"/><path d="M-70 586L-45.5 543.0L-70.0 528.3Z" fill="rgb(208,52,61)" stroke="rgb(208,52,61)" stroke-width="0.5"/><path d="M-70 586L-70.0 528.3L-94.5 543.0Z" fill="rgb(208,52,61)" stroke="rgb(208,52,61)" stroke-width="0.5"/><path d="M-70 586L-94.5 543.0L-119.0 557.7Z" fill="rgb(208,52,61)" stroke="rgb(208,52,61)" stroke-width="0.5"/><path d="M-70 586L-119.0 557.7L-119.0 586.0Z" fill="rgb(200,50,59)" stroke="rgb(200,50,59)" stroke-width="0.5"/><path d="M-70 586L-119.0 586.0L-119.0 614.3Z" fill="rgb(202,51,60)" stroke="rgb(202,51,60)" stroke-width="0.5"/><path d="M-70 586L-119.0 614.3L-94.5 629.0Z" fill="rgb(208,52,61)" stroke="rgb(208,52,61)" stroke-width="0.5"/><path d="M-70 586L-94.5 629.0L-70.0 643.7Z" fill="rgb(208,52,61)" stroke="rgb(208,52,61)" stroke-width="0.5"/><path d="M-70 586L-70.0 643.7L-45.5 629.0Z" fill="rgb(208,52,61)" stroke="rgb(208,52,61)" stroke-width="0.5"/><path d="M-70 586L-45.5 629.0L-21.0 614.3Z" fill="rgb(208,52,61)" stroke="rgb(208,52,61)" stroke-width="0.5"/><path d="M-70 586L-21.0 614.3L-21.0 586.0Z" fill="rgb(202,51,60)" stroke="rgb(202,51,60)" stroke-width="0.5"/><path d="M28 586L77.0 586.0L77.0 557.7Z" fill="rgb(200,50,59)" stroke="rgb(200,50,59)" stroke-width="0.5"/><path d="M28 586L77.0 557.7L52.5 543.0Z" fill="rgb(208,52,61)" stroke="rgb(208,52,61)" stroke-width="0.5"/><path d="M28 586L52.5 543.0L28.0 528.3Z" fill="rgb(208,52,61)" stroke="rgb(208,52,61)" stroke-width="0.5"/><path d="M28 586L28.0 528.3L3.5 543.0Z" fill="rgb(208,52,61)" stroke="rgb(208,52,61)" stroke-width="0.5"/><path d="M28 586L3.5 543.0L-21.0 557.7Z" fill="rgb(208,52,61)" stroke="rgb(208,52,61)" stroke-width="0.5"/><path d="M28 586L-21.0 557.7L-21.0 586.0Z" fill="rgb(200,50,59)" stroke="rgb(200,50,59)" stroke-width="0.5"/><path d="M28 586L-21.0 586.0L-21.0 614.3Z" fill="rgb(202,51,60)" stroke="rgb(202,51,60)" stroke-width="0.5"/><path d="M28 586L-21.0 614.3L3.5 629.0Z" fill="rgb(208,52,61)" stroke="rgb(208,52,61)" stroke-width="0.5"/><path d="M28 586L3.5 629.0L28.0 643.7Z" fill="rgb(208,52,61)" stroke="rgb(208,52,61)" stroke-width="0.5"/><path d="M28 586L28.0 643.7L52.5 629.0Z" fill="rgb(208,52,61)" stroke="rgb(208,52,61)" stroke-width="0.5"/><path d="M28 586L52.5 629.0L77.0 614.3Z" fill="rgb(208,52,61)" stroke="rgb(208,52,61)" stroke-width="0.5"/><path d="M28 586L77.0 614.3L77.0 586.0Z" fill="rgb(202,51,60)" stroke="rgb(202,51,60)" stroke-width="0.5"/><path d="M126 586L175.0 586.0L175.0 557.7Z" fill="rgb(200,50,59)" stroke="rgb(200,50,59)" stroke-width="0.5"/><path d="M126 586L175.0 557.7L150.5 543.0Z" fill="rgb(208,52,61)" stroke="rgb(208,52,61)" stroke-width="0.5"/><path d="M126 586L150.5 543.0L126.0 528.3Z" fill="rgb(208,52,61)" stroke="rgb(208,52,61)" stroke-width="0.5"/><path d="M126 586L126.0 528.3L101.5 543.0Z" fill="rgb(208,52,61)" stroke="rgb(208,52,61)" stroke-width="0.5"/><path d="M126 586L101.5 543.0L77.0 557.7Z" fill="rgb(208,52,61)" stroke="rgb(208,52,61)" stroke-width="0.5"/><path d="M126 586L77.0 557.7L77.0 586.0Z" fill="rgb(200,50,59)" stroke="rgb(200,50,59)" stroke-width="0.5"/><path d="M126 586L77.0 586.0L77.0 614.3Z" fill="rgb(202,51,60)" stroke="rgb(202,51,60)" stroke-width="0.5"/><path d="M126 586L77.0 614.3L101.5 629.0Z" fill="rgb(208,52,61)" stroke="rgb(208,52,61)" stroke-width="0.5"/><path d="M126 586L101.5 629.0L126.0 643.7Z" fill="rgb(208,52,61)" stroke="rgb(208,52,61)" stroke-width="0.5"/><path d="M126 586L126.0 643.7L150.5 629.0Z" fill="rgb(208,52,61)" stroke="rgb(208,52,61)" stroke-width="0.5"/><path d="M126 586L150.5 629.0L175.0 614.3Z" fill="rgb(208,52,61)" stroke="rgb(208,52,61)" stroke-width="0.5"/><path d="M126 586L175.0 614.3L175.0 586.0Z" fill="rgb(202,51,60)" stroke="rgb(202,51,60)" stroke-width="0.5"/><path d="M224 586L273.0 586.0L273.0 557.7Z" fill="rgb(200,50,59)" stroke="rgb(200,50,59)" stroke-width="0.5"/><path d="M224 586L273.0 557.7L248.5 543.0Z" fill="rgb(208,52,61)" stroke="rgb(208,52,61)" stroke-width="0.5"/><path d="M224 586L248.5 543.0L224.0 528.3Z" fill="rgb(208,52,61)" stroke="rgb(208,52,61)" stroke-width="0.5"/><path d="M224 586L224.0 528.3L199.5 543.0Z" fill="rgb(208,52,61)" stroke="rgb(208,52,61)" stroke-width="0.5"/><path d="M224 586L199.5 543.0L175.0 557.7Z" fill="rgb(208,52,61)" stroke="rgb(208,52,61)" stroke-width="0.5"/><path d="M224 586L175.0 557.7L175.0 586.0Z" fill="rgb(200,50,59)" stroke="rgb(200,50,59)" stroke-width="0.5"/><path d="M224 586L175.0 586.0L175.0 614.3Z" fill="rgb(202,51,60)" stroke="rgb(202,51,60)" stroke-width="0.5"/><path d="M224 586L175.0 614.3L199.5 629.0Z" fill="rgb(208,52,61)" stroke="rgb(208,52,61)" stroke-width="0.5"/><path d="M224 586L199.5 629.0L224.0 643.7Z" fill="rgb(208,52,61)" stroke="rgb(208,52,61)" stroke-width="0.5"/><path d="M224 586L224.0 643.7L248.5 629.0Z" fill="rgb(208,52,61)" stroke="rgb(208,52,61)" stroke-width="0.5"/><path d="M224 586L248.5 629.0L273.0 614.3Z" fill="rgb(208,52,61)" stroke="rgb(208,52,61)" stroke-width="0.5"/><path d="M224 586L273.0 614.3L273.0 586.0Z" fill="rgb(202,51,60)" stroke="rgb(202,51,60)" stroke-width="0.5"/><path d="M322 586L371.0 586.0L371.0 557.7Z" fill="rgb(200,50,59)" stroke="rgb(200,50,59)" stroke-width="0.5"/><path d="M322 586L371.0 557.7L346.5 543.0Z" fill="rgb(208,52,61)" stroke="rgb(208,52,61)" stroke-width="0.5"/><path d="M322 586L346.5 543.0L322.0 528.3Z" fill="rgb(208,52,61)" stroke="rgb(208,52,61)" stroke-width="0.5"/><path d="M322 586L322.0 528.3L297.5 543.0Z" fill="rgb(208,52,61)" stroke="rgb(208,52,61)" stroke-width="0.5"/><path d="M322 586L297.5 543.0L273.0 557.7Z" fill="rgb(208,52,61)" stroke="rgb(208,52,61)" stroke-width="0.5"/><path d="M322 586L273.0 557.7L273.0 586.0Z" fill="rgb(200,50,59)" stroke="rgb(200,50,59)" stroke-width="0.5"/><path d="M322 586L273.0 586.0L273.0 614.3Z" fill="rgb(202,51,60)" stroke="rgb(202,51,60)" stroke-width="0.5"/><path d="M322 586L273.0 614.3L297.5 629.0Z" fill="rgb(208,52,61)" stroke="rgb(208,52,61)" stroke-width="0.5"/><path d="M322 586L297.5 629.0L322.0 643.7Z" fill="rgb(208,52,61)" stroke="rgb(208,52,61)" stroke-width="0.5"/><path d="M322 586L322.0 643.7L346.5 629.0Z" fill="rgb(208,52,61)" stroke="rgb(208,52,61)" stroke-width="0.5"/><path d="M322 586L346.5 629.0L371.0 614.3Z" fill="rgb(208,52,61)" stroke="rgb(208,52,61)" stroke-width="0.5"/><path d="M322 586L371.0 614.3L371.0 586.0Z" fill="rgb(202,51,60)" stroke="rgb(202,51,60)" stroke-width="0.5"/><path d="M420 586L469.0 586.0L469.0 557.7Z" fill="rgb(200,50,59)" stroke="rgb(200,50,59)" stroke-width="0.5"/><path d="M420 586L469.0 557.7L444.5 543.0Z" fill="rgb(208,52,61)" stroke="rgb(208,52,61)" stroke-width="0.5"/><path d="M420 586L444.5 543.0L420.0 528.3Z" fill="rgb(208,52,61)" stroke="rgb(208,52,61)" stroke-width="0.5"/><path d="M420 586L420.0 528.3L395.5 543.0Z" fill="rgb(208,52,61)" stroke="rgb(208,52,61)" stroke-width="0.5"/><path d="M420 586L395.5 543.0L371.0 557.7Z" fill="rgb(208,52,61)" stroke="rgb(208,52,61)" stroke-width="0.5"/><path d="M420 586L371.0 557.7L371.0 586.0Z" fill="rgb(200,50,59)" stroke="rgb(200,50,59)" stroke-width="0.5"/><path d="M420 586L371.0 586.0L371.0 614.3Z" fill="rgb(202,51,60)" stroke="rgb(202,51,60)" stroke-width="0.5"/><path d="M420 586L371.0 614.3L395.5 629.0Z" fill="rgb(208,52,61)" stroke="rgb(208,52,61)" stroke-width="0.5"/><path d="M420 586L395.5 629.0L420.0 643.7Z" fill="rgb(208,52,61)" stroke="rgb(208,52,61)" stroke-width="0.5"/><path d="M420 586L420.0 643.7L444.5 629.0Z" fill="rgb(208,52,61)" stroke="rgb(208,52,61)" stroke-width="0.5"/><path d="M420 586L444.5 629.0L469.0 614.3Z" fill="rgb(208,52,61)" stroke="rgb(208,52,61)" stroke-width="0.5"/><path d="M420 586L469.0 614.3L469.0 586.0Z" fill="rgb(202,51,60)" stroke="rgb(202,51,60)" stroke-width="0.5"/><path d="M518 586L567.0 586.0L567.0 557.7Z" fill="rgb(200,50,59)" stroke="rgb(200,50,59)" stroke-width="0.5"/><path d="M518 586L567.0 557.7L542.5 543.0Z" fill="rgb(208,52,61)" stroke="rgb(208,52,61)" stroke-width="0.5"/><path d="M518 586L542.5 543.0L518.0 528.3Z" fill="rgb(208,52,61)" stroke="rgb(208,52,61)" stroke-width="0.5"/><path d="M518 586L518.0 528.3L493.5 543.0Z" fill="rgb(208,52,61)" stroke="rgb(208,52,61)" stroke-width="0.5"/><path d="M518 586L493.5 543.0L469.0 557.7Z" fill="rgb(208,52,61)" stroke="rgb(208,52,61)" stroke-width="0.5"/><path d="M518 586L469.0 557.7L469.0 586.0Z" fill="rgb(200,50,59)" stroke="rgb(200,50,59)" stroke-width="0.5"/><path d="M518 586L469.0 586.0L469.0 614.3Z" fill="rgb(202,51,60)" stroke="rgb(202,51,60)" stroke-width="0.5"/><path d="M518 586L469.0 614.3L493.5 629.0Z" fill="rgb(208,52,61)" stroke="rgb(208,52,61)" stroke-width="0.5"/><path d="M518 586L493.5 629.0L518.0 643.7Z" fill="rgb(208,52,61)" stroke="rgb(208,52,61)" stroke-width="0.5"/><path d="M518 586L518.0 643.7L542.5 629.0Z" fill="rgb(208,52,61)" stroke="rgb(208,52,61)" stroke-width="0.5"/><path d="M518 586L542.5 629.0L567.0 614.3Z" fill="rgb(208,52,61)" stroke="rgb(208,52,61)" stroke-width="0.5"/><path d="M518 586L567.0 614.3L567.0 586.0Z" fill="rgb(202,51,60)" stroke="rgb(202,51,60)" stroke-width="0.5"/><path d="M616 586L665.0 586.0L665.0 557.7Z" fill="rgb(200,50,59)" stroke="rgb(200,50,59)" stroke-width="0.5"/><path d="M616 586L665.0 557.7L640.5 543.0Z" fill="rgb(208,52,61)" stroke="rgb(208,52,61)" stroke-width="0.5"/><path d="M616 586L640.5 543.0L616.0 528.3Z" fill="rgb(208,52,61)" stroke="rgb(208,52,61)" stroke-width="0.5"/><path d="M616 586L616.0 528.3L591.5 543.0Z" fill="rgb(208,52,61)" stroke="rgb(208,52,61)" stroke-width="0.5"/><path d="M616 586L591.5 543.0L567.0 557.7Z" fill="rgb(208,52,61)" stroke="rgb(208,52,61)" stroke-width="0.5"/><path d="M616 586L567.0 557.7L567.0 586.0Z" fill="rgb(200,50,59)" stroke="rgb(200,50,59)" stroke-width="0.5"/><path d="M616 586L567.0 586.0L567.0 614.3Z" fill="rgb(202,51,60)" stroke="rgb(202,51,60)" stroke-width="0.5"/><path d="M616 586L567.0 614.3L591.5 629.0Z" fill="rgb(208,52,61)" stroke="rgb(208,52,61)" stroke-width="0.5"/><path d="M616 586L591.5 629.0L616.0 643.7Z" fill="rgb(208,52,61)" stroke="rgb(208,52,61)" stroke-width="0.5"/><path d="M616 586L616.0 643.7L640.5 629.0Z" fill="rgb(208,52,61)" stroke="rgb(208,52,61)" stroke-width="0.5"/><path d="M616 586L640.5 629.0L665.0 614.3Z" fill="rgb(208,52,61)" stroke="rgb(208,52,61)" stroke-width="0.5"/><path d="M616 586L665.0 614.3L665.0 586.0Z" fill="rgb(202,51,60)" stroke="rgb(202,51,60)" stroke-width="0.5"/><path d="M714 586L763.0 586.0L763.0 557.7Z" fill="rgb(200,50,59)" stroke="rgb(200,50,59)" stroke-width="0.5"/><path d="M714 586L763.0 557.7L738.5 543.0Z" fill="rgb(208,52,61)" stroke="rgb(208,52,61)" stroke-width="0.5"/><path d="M714 586L738.5 543.0L714.0 528.3Z" fill="rgb(208,52,61)" stroke="rgb(208,52,61)" stroke-width="0.5"/><path d="M714 586L714.0 528.3L689.5 543.0Z" fill="rgb(208,52,61)" stroke="rgb(208,52,61)" stroke-width="0.5"/><path d="M714 586L689.5 543.0L665.0 557.7Z" fill="rgb(208,52,61)" stroke="rgb(208,52,61)" stroke-width="0.5"/><path d="M714 586L665.0 557.7L665.0 586.0Z" fill="rgb(200,50,59)" stroke="rgb(200,50,59)" stroke-width="0.5"/><path d="M714 586L665.0 586.0L665.0 614.3Z" fill="rgb(202,51,60)" stroke="rgb(202,51,60)" stroke-width="0.5"/><path d="M714 586L665.0 614.3L689.5 629.0Z" fill="rgb(208,52,61)" stroke="rgb(208,52,61)" stroke-width="0.5"/><path d="M714 586L689.5 629.0L714.0 643.7Z" fill="rgb(208,52,61)" stroke="rgb(208,52,61)" stroke-width="0.5"/><path d="M714 586L714.0 643.7L738.5 629.0Z" fill="rgb(208,52,61)" stroke="rgb(208,52,61)" stroke-width="0.5"/><path d="M714 586L738.5 629.0L763.0 614.3Z" fill="rgb(208,52,61)" stroke="rgb(208,52,61)" stroke-width="0.5"/><path d="M714 586L763.0 614.3L763.0 586.0Z" fill="rgb(202,51,60)" stroke="rgb(202,51,60)" stroke-width="0.5"/><path d="M-21 672L28.0 672.0L28.0 643.7Z" fill="rgb(200,50,59)" stroke="rgb(200,50,59)" stroke-width="0.5"/><path d="M-21 672L28.0 643.7L3.5 629.0Z" fill="rgb(208,52,61)" stroke="rgb(208,52,61)" stroke-width="0.5"/><path d="M-21 672L3.5 629.0L-21.0 614.3Z" fill="rgb(208,52,61)" stroke="rgb(208,52,61)" stroke-width="0.5"/><path d="M-21 672L-21.0 614.3L-45.5 629.0Z" fill="rgb(208,52,61)" stroke="rgb(208,52,61)" stroke-width="0.5"/><path d="M-21 672L-45.5 629.0L-70.0 643.7Z" fill="rgb(208,52,61)" stroke="rgb(208,52,61)" stroke-width="0.5"/><path d="M-21 672L-70.0 643.7L-70.0 672.0Z" fill="rgb(200,50,59)" stroke="rgb(200,50,59)" stroke-width="0.5"/><path d="M-21 672L-70.0 672.0L-70.0 700.3Z" fill="rgb(202,51,60)" stroke="rgb(202,51,60)" stroke-width="0.5"/><path d="M-21 672L-70.0 700.3L-45.5 715.0Z" fill="rgb(208,52,61)" stroke="rgb(208,52,61)" stroke-width="0.5"/><path d="M-21 672L-45.5 715.0L-21.0 729.7Z" fill="rgb(208,52,61)" stroke="rgb(208,52,61)" stroke-width="0.5"/><path d="M-21 672L-21.0 729.7L3.5 715.0Z" fill="rgb(208,52,61)" stroke="rgb(208,52,61)" stroke-width="0.5"/><path d="M-21 672L3.5 715.0L28.0 700.3Z" fill="rgb(208,52,61)" stroke="rgb(208,52,61)" stroke-width="0.5"/><path d="M-21 672L28.0 700.3L28.0 672.0Z" fill="rgb(202,51,60)" stroke="rgb(202,51,60)" stroke-width="0.5"/><path d="M77 672L126.0 672.0L126.0 643.7Z" fill="rgb(200,50,59)" stroke="rgb(200,50,59)" stroke-width="0.5"/><path d="M77 672L126.0 643.7L101.5 629.0Z" fill="rgb(208,52,61)" stroke="rgb(208,52,61)" stroke-width="0.5"/><path d="M77 672L101.5 629.0L77.0 614.3Z" fill="rgb(208,52,61)" stroke="rgb(208,52,61)" stroke-width="0.5"/><path d="M77 672L77.0 614.3L52.5 629.0Z" fill="rgb(208,52,61)" stroke="rgb(208,52,61)" stroke-width="0.5"/><path d="M77 672L52.5 629.0L28.0 643.7Z" fill="rgb(208,52,61)" stroke="rgb(208,52,61)" stroke-width="0.5"/><path d="M77 672L28.0 643.7L28.0 672.0Z" fill="rgb(200,50,59)" stroke="rgb(200,50,59)" stroke-width="0.5"/><path d="M77 672L28.0 672.0L28.0 700.3Z" fill="rgb(202,51,60)" stroke="rgb(202,51,60)" stroke-width="0.5"/><path d="M77 672L28.0 700.3L52.5 715.0Z" fill="rgb(208,52,61)" stroke="rgb(208,52,61)" stroke-width="0.5"/><path d="M77 672L52.5 715.0L77.0 729.7Z" fill="rgb(208,52,61)" stroke="rgb(208,52,61)" stroke-width="0.5"/><path d="M77 672L77.0 729.7L101.5 715.0Z" fill="rgb(208,52,61)" stroke="rgb(208,52,61)" stroke-width="0.5"/><path d="M77 672L101.5 715.0L126.0 700.3Z" fill="rgb(208,52,61)" stroke="rgb(208,52,61)" stroke-width="0.5"/><path d="M77 672L126.0 700.3L126.0 672.0Z" fill="rgb(202,51,60)" stroke="rgb(202,51,60)" stroke-width="0.5"/><path d="M175 672L224.0 672.0L224.0 643.7Z" fill="rgb(200,50,59)" stroke="rgb(200,50,59)" stroke-width="0.5"/><path d="M175 672L224.0 643.7L199.5 629.0Z" fill="rgb(208,52,61)" stroke="rgb(208,52,61)" stroke-width="0.5"/><path d="M175 672L199.5 629.0L175.0 614.3Z" fill="rgb(208,52,61)" stroke="rgb(208,52,61)" stroke-width="0.5"/><path d="M175 672L175.0 614.3L150.5 629.0Z" fill="rgb(208,52,61)" stroke="rgb(208,52,61)" stroke-width="0.5"/><path d="M175 672L150.5 629.0L126.0 643.7Z" fill="rgb(208,52,61)" stroke="rgb(208,52,61)" stroke-width="0.5"/><path d="M175 672L126.0 643.7L126.0 672.0Z" fill="rgb(200,50,59)" stroke="rgb(200,50,59)" stroke-width="0.5"/><path d="M175 672L126.0 672.0L126.0 700.3Z" fill="rgb(202,51,60)" stroke="rgb(202,51,60)" stroke-width="0.5"/><path d="M175 672L126.0 700.3L150.5 715.0Z" fill="rgb(208,52,61)" stroke="rgb(208,52,61)" stroke-width="0.5"/><path d="M175 672L150.5 715.0L175.0 729.7Z" fill="rgb(208,52,61)" stroke="rgb(208,52,61)" stroke-width="0.5"/><path d="M175 672L175.0 729.7L199.5 715.0Z" fill="rgb(208,52,61)" stroke="rgb(208,52,61)" stroke-width="0.5"/><path d="M175 672L199.5 715.0L224.0 700.3Z" fill="rgb(208,52,61)" stroke="rgb(208,52,61)" stroke-width="0.5"/><path d="M175 672L224.0 700.3L224.0 672.0Z" fill="rgb(202,51,60)" stroke="rgb(202,51,60)" stroke-width="0.5"/><path d="M273 672L322.0 672.0L322.0 643.7Z" fill="rgb(200,50,59)" stroke="rgb(200,50,59)" stroke-width="0.5"/><path d="M273 672L322.0 643.7L297.5 629.0Z" fill="rgb(208,52,61)" stroke="rgb(208,52,61)" stroke-width="0.5"/><path d="M273 672L297.5 629.0L273.0 614.3Z" fill="rgb(208,52,61)" stroke="rgb(208,52,61)" stroke-width="0.5"/><path d="M273 672L273.0 614.3L248.5 629.0Z" fill="rgb(208,52,61)" stroke="rgb(208,52,61)" stroke-width="0.5"/><path d="M273 672L248.5 629.0L224.0 643.7Z" fill="rgb(208,52,61)" stroke="rgb(208,52,61)" stroke-width="0.5"/><path d="M273 672L224.0 643.7L224.0 672.0Z" fill="rgb(200,50,59)" stroke="rgb(200,50,59)" stroke-width="0.5"/><path d="M273 672L224.0 672.0L224.0 700.3Z" fill="rgb(202,51,60)" stroke="rgb(202,51,60)" stroke-width="0.5"/><path d="M273 672L224.0 700.3L248.5 715.0Z" fill="rgb(208,52,61)" stroke="rgb(208,52,61)" stroke-width="0.5"/><path d="M273 672L248.5 715.0L273.0 729.7Z" fill="rgb(208,52,61)" stroke="rgb(208,52,61)" stroke-width="0.5"/><path d="M273 672L273.0 729.7L297.5 715.0Z" fill="rgb(208,52,61)" stroke="rgb(208,52,61)" stroke-width="0.5"/><path d="M273 672L297.5 715.0L322.0 700.3Z" fill="rgb(208,52,61)" stroke="rgb(208,52,61)" stroke-width="0.5"/><path d="M273 672L322.0 700.3L322.0 672.0Z" fill="rgb(202,51,60)" stroke="rgb(202,51,60)" stroke-width="0.5"/><path d="M371 672L420.0 672.0L420.0 643.7Z" fill="rgb(200,50,59)" stroke="rgb(200,50,59)" stroke-width="0.5"/><path d="M371 672L420.0 643.7L395.5 629.0Z" fill="rgb(208,52,61)" stroke="rgb(208,52,61)" stroke-width="0.5"/><path d="M371 672L395.5 629.0L371.0 614.3Z" fill="rgb(208,52,61)" stroke="rgb(208,52,61)" stroke-width="0.5"/><path d="M371 672L371.0 614.3L346.5 629.0Z" fill="rgb(208,52,61)" stroke="rgb(208,52,61)" stroke-width="0.5"/><path d="M371 672L346.5 629.0L322.0 643.7Z" fill="rgb(208,52,61)" stroke="rgb(208,52,61)" stroke-width="0.5"/><path d="M371 672L322.0 643.7L322.0 672.0Z" fill="rgb(200,50,59)" stroke="rgb(200,50,59)" stroke-width="0.5"/><path d="M371 672L322.0 672.0L322.0 700.3Z" fill="rgb(202,51,60)" stroke="rgb(202,51,60)" stroke-width="0.5"/><path d="M371 672L322.0 700.3L346.5 715.0Z" fill="rgb(208,52,61)" stroke="rgb(208,52,61)" stroke-width="0.5"/><path d="M371 672L346.5 715.0L371.0 729.7Z" fill="rgb(208,52,61)" stroke="rgb(208,52,61)" stroke-width="0.5"/><path d="M371 672L371.0 729.7L395.5 715.0Z" fill="rgb(208,52,61)" stroke="rgb(208,52,61)" stroke-width="0.5"/><path d="M371 672L395.5 715.0L420.0 700.3Z" fill="rgb(208,52,61)" stroke="rgb(208,52,61)" stroke-width="0.5"/><path d="M371 672L420.0 700.3L420.0 672.0Z" fill="rgb(202,51,60)" stroke="rgb(202,51,60)" stroke-width="0.5"/><path d="M469 672L518.0 672.0L518.0 643.7Z" fill="rgb(200,50,59)" stroke="rgb(200,50,59)" stroke-width="0.5"/><path d="M469 672L518.0 643.7L493.5 629.0Z" fill="rgb(208,52,61)" stroke="rgb(208,52,61)" stroke-width="0.5"/><path d="M469 672L493.5 629.0L469.0 614.3Z" fill="rgb(208,52,61)" stroke="rgb(208,52,61)" stroke-width="0.5"/><path d="M469 672L469.0 614.3L444.5 629.0Z" fill="rgb(208,52,61)" stroke="rgb(208,52,61)" stroke-width="0.5"/><path d="M469 672L444.5 629.0L420.0 643.7Z" fill="rgb(208,52,61)" stroke="rgb(208,52,61)" stroke-width="0.5"/><path d="M469 672L420.0 643.7L420.0 672.0Z" fill="rgb(200,50,59)" stroke="rgb(200,50,59)" stroke-width="0.5"/><path d="M469 672L420.0 672.0L420.0 700.3Z" fill="rgb(202,51,60)" stroke="rgb(202,51,60)" stroke-width="0.5"/><path d="M469 672L420.0 700.3L444.5 715.0Z" fill="rgb(208,52,61)" stroke="rgb(208,52,61)" stroke-width="0.5"/><path d="M469 672L444.5 715.0L469.0 729.7Z" fill="rgb(208,52,61)" stroke="rgb(208,52,61)" stroke-width="0.5"/><path d="M469 672L469.0 729.7L493.5 715.0Z" fill="rgb(208,52,61)" stroke="rgb(208,52,61)" stroke-width="0.5"/><path d="M469 672L493.5 715.0L518.0 700.3Z" fill="rgb(208,52,61)" stroke="rgb(208,52,61)" stroke-width="0.5"/><path d="M469 672L518.0 700.3L518.0 672.0Z" fill="rgb(202,51,60)" stroke="rgb(202,51,60)" stroke-width="0.5"/><path d="M567 672L616.0 672.0L616.0 643.7Z" fill="rgb(200,50,59)" stroke="rgb(200,50,59)" stroke-width="0.5"/><path d="M567 672L616.0 643.7L591.5 629.0Z" fill="rgb(208,52,61)" stroke="rgb(208,52,61)" stroke-width="0.5"/><path d="M567 672L591.5 629.0L567.0 614.3Z" fill="rgb(208,52,61)" stroke="rgb(208,52,61)" stroke-width="0.5"/><path d="M567 672L567.0 614.3L542.5 629.0Z" fill="rgb(208,52,61)" stroke="rgb(208,52,61)" stroke-width="0.5"/><path d="M567 672L542.5 629.0L518.0 643.7Z" fill="rgb(208,52,61)" stroke="rgb(208,52,61)" stroke-width="0.5"/><path d="M567 672L518.0 643.7L518.0 672.0Z" fill="rgb(200,50,59)" stroke="rgb(200,50,59)" stroke-width="0.5"/><path d="M567 672L518.0 672.0L518.0 700.3Z" fill="rgb(202,51,60)" stroke="rgb(202,51,60)" stroke-width="0.5"/><path d="M567 672L518.0 700.3L542.5 715.0Z" fill="rgb(208,52,61)" stroke="rgb(208,52,61)" stroke-width="0.5"/><path d="M567 672L542.5 715.0L567.0 729.7Z" fill="rgb(208,52,61)" stroke="rgb(208,52,61)" stroke-width="0.5"/><path d="M567 672L567.0 729.7L591.5 715.0Z" fill="rgb(208,52,61)" stroke="rgb(208,52,61)" stroke-width="0.5"/><path d="M567 672L591.5 715.0L616.0 700.3Z" fill="rgb(208,52,61)" stroke="rgb(208,52,61)" stroke-width="0.5"/><path d="M567 672L616.0 700.3L616.0 672.0Z" fill="rgb(202,51,60)" stroke="rgb(202,51,60)" stroke-width="0.5"/><path d="M665 672L714.0 672.0L714.0 643.7Z" fill="rgb(200,50,59)" stroke="rgb(200,50,59)" stroke-width="0.5"/><path d="M665 672L714.0 643.7L689.5 629.0Z" fill="rgb(208,52,61)" stroke="rgb(208,52,61)" stroke-width="0.5"/><path d="M665 672L689.5 629.0L665.0 614.3Z" fill="rgb(208,52,61)" stroke="rgb(208,52,61)" stroke-width="0.5"/><path d="M665 672L665.0 614.3L640.5 629.0Z" fill="rgb(208,52,61)" stroke="rgb(208,52,61)" stroke-width="0.5"/><path d="M665 672L640.5 629.0L616.0 643.7Z" fill="rgb(208,52,61)" stroke="rgb(208,52,61)" stroke-width="0.5"/><path d="M665 672L616.0 643.7L616.0 672.0Z" fill="rgb(200,50,59)" stroke="rgb(200,50,59)" stroke-width="0.5"/><path d="M665 672L616.0 672.0L616.0 700.3Z" fill="rgb(202,51,60)" stroke="rgb(202,51,60)" stroke-width="0.5"/><path d="M665 672L616.0 700.3L640.5 715.0Z" fill="rgb(208,52,61)" stroke="rgb(208,52,61)" stroke-width="0.5"/><path d="M665 672L640.5 715.0L665.0 729.7Z" fill="rgb(208,52,61)" stroke="rgb(208,52,61)" stroke-width="0.5"/><path d="M665 672L665.0 729.7L689.5 715.0Z" fill="rgb(208,52,61)" stroke="rgb(208,52,61)" stroke-width="0.5"/><path d="M665 672L689.5 715.0L714.0 700.3Z" fill="rgb(208,52,61)" stroke="rgb(208,52,61)" stroke-width="0.5"/><path d="M665 672L714.0 700.3L714.0 672.0Z" fill="rgb(202,51,60)" stroke="rgb(202,51,60)" stroke-width="0.5"/><path d="M763 672L812.0 672.0L812.0 643.7Z" fill="rgb(200,50,59)" stroke="rgb(200,50,59)" stroke-width="0.5"/><path d="M763 672L812.0 643.7L787.5 629.0Z" fill="rgb(208,52,61)" stroke="rgb(208,52,61)" stroke-width="0.5"/><path d="M763 672L787.5 629.0L763.0 614.3Z" fill="rgb(208,52,61)" stroke="rgb(208,52,61)" stroke-width="0.5"/><path d="M763 672L763.0 614.3L738.5 629.0Z" fill="rgb(208,52,61)" stroke="rgb(208,52,61)" stroke-width="0.5"/><path d="M763 672L738.5 629.0L714.0 643.7Z" fill="rgb(208,52,61)" stroke="rgb(208,52,61)" stroke-width="0.5"/><path d="M763 672L714.0 643.7L714.0 672.0Z" fill="rgb(200,50,59)" stroke="rgb(200,50,59)" stroke-width="0.5"/><path d="M763 672L714.0 672.0L714.0 700.3Z" fill="rgb(202,51,60)" stroke="rgb(202,51,60)" stroke-width="0.5"/><path d="M763 672L714.0 700.3L738.5 715.0Z" fill="rgb(208,52,61)" stroke="rgb(208,52,61)" stroke-width="0.5"/><path d="M763 672L738.5 715.0L763.0 729.7Z" fill="rgb(208,52,61)" stroke="rgb(208,52,61)" stroke-width="0.5"/><path d="M763 672L763.0 729.7L787.5 715.0Z" fill="rgb(208,52,61)" stroke="rgb(208,52,61)" stroke-width="0.5"/><path d="M763 672L787.5 715.0L812.0 700.3Z" fill="rgb(208,52,61)" stroke="rgb(208,52,61)" stroke-width="0.5"/><path d="M763 672L812.0 700.3L812.0 672.0Z" fill="rgb(202,51,60)" stroke="rgb(202,51,60)" stroke-width="0.5"/></g></g>
  <defs>
    <linearGradient id="hfade" x1="0" y1="0" x2="1" y2="0">
      <stop offset="0" stop-color="#fff" stop-opacity="0.1"/>
      <stop offset="0.25" stop-color="#fff" stop-opacity="0.5"/>
      <stop offset="0.5" stop-color="#fff" stop-opacity="1"/>
      <stop offset="0.75" stop-color="#fff" stop-opacity="0.75"/>
      <stop offset="1" stop-color="#fff" stop-opacity="0.45"/>
    </linearGradient>
    <linearGradient id="vshade" x1="0" y1="0" x2="0" y2="1">
      <stop offset="0" stop-color="#000" stop-opacity="0"/>
      <stop offset="0.55" stop-color="#000" stop-opacity="0.08"/>
      <stop offset="1" stop-color="#000" stop-opacity="0.36"/>
    </linearGradient>
    <mask id="mk"><rect x="0" y="480" width="600" height="31" fill="url(#hfade)"/></mask>
    <linearGradient id="cshL" x1="0" y1="0" x2="1" y2="0">
      <stop offset="0" stop-color="#000" stop-opacity="0"/>
      <stop offset="1" stop-color="#000" stop-opacity="0.16"/>
    </linearGradient>
  </defs>
  <rect x="0" y="490" width="600" height="21" fill="url(#vshade)" mask="url(#mk)"/>
  <filter id="bl3" x="-100%" y="-10%" width="300%" height="120%"><feGaussianBlur stdDeviation="3.5"/></filter>
  <rect x="286" y="-10" width="8" height="345" fill="#000" opacity="0.22" filter="url(#bl3)"/>
  <rect x="268" y="350" width="8" height="100" fill="#000" opacity="0.25" filter="url(#bl3)"/>
  <rect x="0" y="511" width="600" height="89" fill="#e3e3e4"/>

  <!-- cable top -->
  <rect x="291" y="0" width="18" height="330" fill="url(#cab)"/>
  <!-- center connector -->
  <defs>
    <linearGradient id="srel" x1="0" y1="0" x2="1" y2="0">
      <stop offset="0" stop-color="#0a0a0a"/><stop offset="0.5" stop-color="#1c1c1c"/><stop offset="1" stop-color="#0a0a0a"/>
    </linearGradient>
    <linearGradient id="body" x1="0" y1="0" x2="1" y2="0">
      <stop offset="0" stop-color="#141414"/><stop offset="0.12" stop-color="#232323"/><stop offset="0.85" stop-color="#1f1f1f"/><stop offset="1" stop-color="#0e0e0e"/>
    </linearGradient>
    <linearGradient id="gtip" x1="0" y1="0" x2="0" y2="1">
      <stop offset="0" stop-color="#bfae7c"/><stop offset="0.15" stop-color="#ddd0a6"/><stop offset="0.8" stop-color="#d6c89c"/><stop offset="1" stop-color="#b8a878"/>
    </linearGradient>
  </defs>
  <rect x="296" y="482" width="11.5" height="29" fill="#9c141b"/>
  <rect x="286.5" y="327" width="25.5" height="26" rx="3" fill="url(#srel)"/>
  <g stroke="#000" stroke-width="1.6" opacity="0.9">
    <path d="M287 333.5 H311.5 M287 340 H311.5 M287 346.5 H311.5"/>
  </g>
  <g stroke="#333" stroke-width="0.8" opacity="0.8">
    <path d="M288 330 H310.5 M288 336.5 H310.5 M288 343 H310.5 M288 349.5 H310.5"/>
  </g>
  <g stroke="#050505" stroke-width="1.3"><path d="M293.5 328 V352 M300 328 V352 M306 328 V352"/></g>
  <path d="M272.6 361 Q272.6 353 280 353 L317 353 Q324.3 353 324.3 361 L324.3 451.1 L272.6 451.1 Z" fill="url(#body)"/>
  <path d="M274 360 Q274 354.5 280 354.5 L317 354.5 Q323 354.5 323 360" stroke="#3a3a3a" stroke-width="0.8" fill="none"/>
  <path d="M283.5 408.3 Q279 420 277.8 431 Q277.5 440 278.3 445.5 Q290 442.5 299 444 Q308 442.5 319.3 445.5 Q320.5 440 319.7 431 Q318.5 420 313.5 408.3" stroke="#050505" stroke-width="1.6" fill="none"/>
  <path d="M284.5 410 Q280.5 421 279.5 431 Q279 439 280 444" stroke="#3a3a3a" stroke-width="0.6" fill="none"/>
  <g stroke="#0a0a0a" stroke-width="0.8"><path d="M296 430 H302 M296 432 H302 M296 434 H302 M296 436 H302"/></g>
  <g stroke="#3c3c3c" stroke-width="0.6"><path d="M296 430.8 H302 M296 432.8 H302 M296 434.8 H302"/></g>
  <!-- DP logo -->
  <path d="M309.3 376.3 H296.5 A10 10 0 0 0 296.5 396.3 H309.3 Z" fill="none" stroke="#0c0c0c" stroke-width="1.6"/>
  <path d="M296.5 397.2 H309.8" stroke="#4a4a4a" stroke-width="0.7"/>
  <rect x="296.2" y="380.3" width="8" height="10.4" fill="none" stroke="#0c0c0c" stroke-width="1.4"/>
  <path d="M296.2 391.6 H304.4" stroke="#555" stroke-width="0.8"/>
  <path d="M296.2 380.9 H304.4" stroke="#4a4a4a" stroke-width="0.6"/>
  <path d="M306.6 376 V396.5" stroke="#0c0c0c" stroke-width="1.2"/>
  <path d="M309.9 376 V397" stroke="#444" stroke-width="0.6"/>
  <!-- gold tip -->
  <rect x="277.5" y="451.5" width="42" height="30.5" fill="url(#gtip)"/>
  <rect x="288" y="461.2" width="6" height="6" rx="1.2" fill="#5a5446"/>
  <rect x="303.2" y="461.2" width="6" height="6" rx="1.2" fill="#5a5446"/>
  <rect x="278.5" y="469" width="2.6" height="8.5" fill="#2d2a22"/>
  <rect x="314" y="469" width="2.6" height="8.5" fill="#2d2a22"/>
  <rect x="277.5" y="481" width="42" height="1" fill="#a89868"/>
</svg>

<!-- circle -->
<svg width="600" height="600" viewBox="0 0 600 600">
  <defs>
    <clipPath id="cc"><circle cx="299" cy="90" r="76"/></clipPath>
    <filter id="blur1" x="-20%" y="-20%" width="140%" height="140%"><feGaussianBlur stdDeviation="1.2"/></filter>
    <linearGradient id="cab2" x1="0" y1="0" x2="0" y2="1">
      <stop offset="0" stop-color="#2a2a2a"/><stop offset="0.35" stop-color="#4a4a4a"/><stop offset="0.6" stop-color="#111"/><stop offset="1" stop-color="#050505"/>
    </linearGradient>
    <linearGradient id="gold" x1="0" y1="0" x2="1" y2="1">
      <stop offset="0" stop-color="#c9b47a"/><stop offset="0.5" stop-color="#8c7a4a"/><stop offset="1" stop-color="#d8c99a"/>
    </linearGradient>
  </defs>
  <circle cx="299" cy="90" r="78.5" fill="#000" opacity="0.25" filter="url(#blur1)"/>
  <circle cx="299" cy="90" r="77.5" fill="#fff" stroke="#3d3d3d" stroke-width="3"/>
  <g clip-path="url(#cc)">
    <path d="M330 96 L386 70" stroke="#0a0a0a" stroke-width="13" stroke-linecap="butt"/>
    <path d="M336 89 L386 66" stroke="#4a4a4a" stroke-width="1.6" opacity="0.8"/>
    <!-- strain relief ribs -->
    <path d="M326 90 L338 85 L348 98 L340 112 L330 114 Z" fill="#0e0e0e"/>
    <path d="M331 88 L341 101 M336 86 L345 99" stroke="#2e2e2e" stroke-width="1.2"/>
    <!-- body -->
    <path d="M260 108.3 L283.3 96.7 L306.7 86 Q312 84.5 316.7 85 L326.7 89.3 L338 93 L346 100 L338.3 110 L336.7 120 L290 140 L285 131.7 L258.3 113.3 Z" fill="#141414"/>
    <path d="M260 108.3 L283.3 96.7 L306.7 86 Q312 84.5 316.7 85 L326.7 89.3 L332 92 L300 106 L283 112 Z" fill="#232323"/>
    <path d="M263 107 L283 98 L303 100 L305 113 L285 121 Z" fill="#2a2a2a"/>
    <path d="M283 112 L300 106 L332 92 L338 98 L336.7 120 L290 140 L285 131.7 Z" fill="#161616"/>
    <path d="M290 140 L336.7 120 L338.3 110 L300 127 L287 133 Z" fill="#0a0a0a"/>
    <path d="M311 95 L317 93 M313 99 L319 97" stroke="#5a5a5a" stroke-width="1"/>
    <path d="M283 114 L286 109 L287.5 115 Z" fill="#6a8a8a"/>
    <!-- gold tip -->
    <path d="M245 125 L258.3 116.7 L285 126.7 L283.3 140 L270 143.3 L245 131.7 Z" fill="#b9a36a"/>
    <path d="M245 125 L258.3 116.7 L285 126.7 L271 134 Z" fill="#a08c58"/>
    <path d="M250 122 L258 117.5 L280 125.5 L271 130 Z" fill="#c8b886" opacity="0.7"/>
    <path d="M245 125 L271 134 L270 143.3 L245 131.7 Z" fill="#e4d9b2"/>
    <path d="M247.5 127.8 L268.8 135.6 L268.8 140.6 L247.5 131 Z" fill="#2a261c"/>
    <path d="M271 134 L285 126.7 L283.3 140 L270 143.3 Z" fill="#cdbd8a"/>
    <!-- red dotted line -->
    <path d="M265 61 L265.5 88 Q267 96 285 108" stroke="#c43545" stroke-width="1.4" stroke-dasharray="3 2.5" fill="none"/>
  </g>
</svg>
<div class="lbl" style="left:246.77px;top:43.58px;font-size:15.26px;color:#555;transform:scaleX(1.009)">Release Button</div>


<!-- TV -->
<svg width="600" height="600" viewBox="0 0 600 600">
  <defs>
    <linearGradient id="sky" x1="0" y1="0" x2="0" y2="1">
      <stop offset="0" stop-color="#2760ad"/><stop offset="0.55" stop-color="#3a82c8"/><stop offset="1" stop-color="#8cc0e4"/>
    </linearGradient>
    <linearGradient id="sea" x1="0" y1="0" x2="0" y2="1">
      <stop offset="0" stop-color="#1c9ab8"/><stop offset="1" stop-color="#8adce0"/>
    </linearGradient>
    <radialGradient id="tvsh" cx="0.5" cy="0.5" r="0.5">
      <stop offset="0" stop-color="#5a0c12" stop-opacity="0.7"/><stop offset="1" stop-color="#5a0c12" stop-opacity="0"/>
    </radialGradient>
    <filter id="cb" x="-30%" y="-60%" width="160%" height="220%"><feGaussianBlur stdDeviation="2"/></filter>
    <clipPath id="scr"><rect x="393.8" y="126.2" width="133.6" height="74"/></clipPath>
  </defs>
  <ellipse cx="461" cy="207" rx="70" ry="7" fill="#4a080e" opacity="0.55" filter="url(#cb)"/>
  <path d="M418.5 202 L424.5 202 L417 211.5 L411 211.5 Z" fill="#161616"/>
  <path d="M496.5 202 L502.5 202 L510 211.5 L504 211.5 Z" fill="#161616"/>
  <rect x="392.5" y="124.8" width="136.2" height="77" fill="#1e1e1e"/>
  <g clip-path="url(#scr)">
    <rect x="394" y="126.4" width="133" height="50" fill="url(#sky)"/>
    <g fill="#fff" filter="url(#cb)">
      <path d="M396 140 Q420 132 450 148 Q440 158 405 155 Z" opacity="0.85"/>
      <ellipse cx="412" cy="150" rx="14" ry="5" opacity="0.9"/>
      <path d="M415 136 Q440 128 458 140 Q445 146 420 142 Z" opacity="0.7"/>
      <ellipse cx="462" cy="160" rx="13" ry="10" opacity="0.95"/>
      <ellipse cx="470" cy="152" rx="7" ry="6" opacity="0.9"/>
      <ellipse cx="430" cy="165" rx="34" ry="5" opacity="0.9"/>
      <ellipse cx="500" cy="163" rx="28" ry="5" opacity="0.85"/>
      <path d="M480 150 Q505 140 527 145 L527 152 Q500 150 485 155 Z" opacity="0.5"/>
      <ellipse cx="518" cy="136" rx="5" ry="4" opacity="0.7"/>
      <ellipse cx="400" cy="158" rx="8" ry="10" opacity="0.8"/>
    </g>
    <rect x="394" y="171" width="60" height="2.2" fill="#2f5f86"/>
    <rect x="454" y="171.5" width="73" height="1.5" fill="#4a8ab0"/>
    <rect x="394" y="173" width="133" height="7" fill="url(#sea)"/>
    <path d="M394 179 Q440 176 480 175 L527 174.5 L527 200 L394 200 Z" fill="#e8eef0"/>
    <path d="M472 200 Q470 188 488 180 Q500 176 527 175 L527 200 Z" fill="#e6d5ac"/>
    <path d="M394 186 Q430 182 460 190 L460 200 L394 200 Z" fill="#f2f4f4" opacity="0.8"/>
  </g>
</svg>
<div class="lbl" style="left:445.81px;top:217.97px;font-size:12.79px;color:#fff;transform:scaleX(0.869)">HDTV</div>


<!-- Monitor -->
<svg width="600" height="600" viewBox="0 0 600 600">
  <defs>
    <filter id="mb" x="-50%" y="-50%" width="200%" height="200%"><feGaussianBlur stdDeviation="4"/></filter>
    <filter id="noise" x="0" y="0" width="100%" height="100%"><feTurbulence type="fractalNoise" baseFrequency="0.9" numOctaves="1" seed="3"/><feColorMatrix type="matrix" values="0 0 0 0 1  0 0 0 0 1  0 0 0 0 1  0 0 0 -2.2 1.4"/></filter>
    <clipPath id="mscr"><rect x="417" y="268" width="88.5" height="50.5"/></clipPath>
  </defs>
  <ellipse cx="461" cy="338" rx="30" ry="4" fill="#5a0c12" opacity="0.5" filter="url(#cb)"/>
  <rect x="416" y="267" width="90.5" height="52" fill="#1c1c1c"/>
  <g clip-path="url(#mscr)">
    <rect x="417" y="268" width="88.5" height="50.5" fill="#f0ecf4"/>
    <ellipse cx="438" cy="292" rx="30" ry="12" fill="#6b3d9e" opacity="0.85" filter="url(#mb)"/>
    <ellipse cx="424" cy="293" rx="10" ry="9" fill="#4a2080" opacity="0.8" filter="url(#mb)"/>
    <ellipse cx="488" cy="294" rx="22" ry="11" fill="#1e9be0" opacity="0.9" filter="url(#mb)"/>
    <ellipse cx="464" cy="292" rx="14" ry="8" fill="#4a70c8" opacity="0.75" filter="url(#mb)"/>
    <ellipse cx="440" cy="309" rx="26" ry="6" fill="#b8a0d4" opacity="0.6" filter="url(#mb)"/>
    <ellipse cx="455" cy="275" rx="30" ry="4" fill="#d8d0ea" opacity="0.6" filter="url(#mb)"/>
    <rect x="417" y="268" width="88.5" height="50.5" filter="url(#noise)" opacity="0.35"/>
  </g>
  <rect x="416" y="318.6" width="90.5" height="3.5" fill="#d9d9d9"/>
  <rect x="457.5" y="322" width="8.5" height="11.5" fill="#cfcfcf"/>
  <rect x="460" y="322" width="3" height="11.5" fill="#e8e8e8"/>
  <path d="M445 332.6 L477 332.6 Q480.5 333 480.5 336.5 Q480 338.6 477 338.6 L445.5 338.6 Q442.5 338.6 442.4 336.5 Q442.6 333 445 332.6 Z" fill="#d8d8d8"/>
  <path d="M447 334.2 L475.5 334.2 Q477.5 335.5 476 336.8 L446.5 336.8 Q445 335.5 447 334.2 Z" fill="#4a2226"/>
</svg>
<div class="lbl" style="left:413.59px;top:342.22px;font-size:12.5px;color:#fff;transform:scaleX(0.976)">Computer Display</div>


<!-- Projector -->
<svg width="600" height="600" viewBox="0 0 600 600">
  <defs>
    <radialGradient id="lens" cx="0.45" cy="0.45" r="0.55">
      <stop offset="0" stop-color="#8a8a8a"/><stop offset="0.35" stop-color="#2a2a2a"/><stop offset="1" stop-color="#0a0a0a"/>
    </radialGradient>
    <linearGradient id="pfront" x1="0" y1="0" x2="0" y2="1">
      <stop offset="0" stop-color="#3e3e3e"/><stop offset="1" stop-color="#222"/>
    </linearGradient>
  </defs>
  <ellipse cx="463" cy="435" rx="45" ry="5" fill="#5a0c12" opacity="0.5" filter="url(#cb)"/>
  <path d="M419.5 404 Q421 398 428 397 Q450 395 466 395.5 Q484 396 491 397.5 Q503 401 507.5 407 Q510 413 507 420 L503 424 Q497 430 486 432 L444 436 Q438 436.5 434 432 L423 420 Q418 412 419.5 404 Z" fill="#333"/>
  <path d="M419.5 404 Q421 398 428 397 Q450 395 466 395.5 Q484 396 491 397.5 Q503 401 507.5 407 Q506 411 500 412 Q470 414 438 417 Q428 412 419.5 404 Z" fill="#252525"/>
  <path d="M425 401 Q450 397.5 490 399" stroke="#3a3a3a" stroke-width="0.8" fill="none"/>
  <path d="M438 417 Q470 414 500 412 Q506 411 507.5 407 Q510 413 507 420 L503 424 Q497 430 486 432 L444 436 Q440 433 439 428 Z" fill="url(#pfront)"/>
  <path d="M419.5 404 Q428 412 438 417 L439 428 Q440 433 444 436 Q438 436.5 434 432 L423 420 Q418 412 419.5 404 Z" fill="#2b2b2b"/>
  <rect x="440.5" y="421.3" width="21" height="10" fill="#151515"/>
  <g stroke="#2a2a2a" stroke-width="0.6"><path d="M441 423.5 H461 M441 425.5 H461 M441 427.5 H461 M441 429.5 H461"/></g>
  <circle cx="480.6" cy="418.5" r="10" fill="#8a8a8a"/>
  <circle cx="480.6" cy="418.5" r="8.6" fill="#3a3a3a"/>
  <circle cx="480.6" cy="418.5" r="7" fill="url(#lens)"/>
</svg>
<div class="lbl" style="left:440.01px;top:446.15px;font-size:11.63px;color:#fff;transform:scaleX(1.068)">Projector</div>


<!-- Desktop case -->
<svg width="600" height="600" viewBox="0 0 600 600">
  <defs>
    <linearGradient id="glass" x1="0" y1="0" x2="1" y2="1">
      <stop offset="0" stop-color="#545454"/><stop offset="0.5" stop-color="#5c5c5c"/><stop offset="1" stop-color="#4e4e4e"/>
    </linearGradient>
    <linearGradient id="front" x1="0" y1="0" x2="1" y2="0">
      <stop offset="0" stop-color="#2e2e2e"/><stop offset="0.3" stop-color="#404040"/><stop offset="1" stop-color="#3a3a3a"/>
    </linearGradient>
  </defs>
  <ellipse cx="142" cy="298" rx="52" ry="5" fill="#000" opacity="0.18" filter="url(#cb)"/>
  <path d="M95.4 204.4 L155.5 196.7 L156 300 L95.4 289.6 Z" fill="url(#glass)"/>
  <path d="M155.5 196.7 L165.7 196.7 L188.7 202.5 L188.7 289.6 L165.7 300 L156 300 Z" fill="url(#front)"/>
  <path d="M157.5 197.5 L158.5 299.5" stroke="#b0303a" stroke-width="1.3"/>
  <path d="M155.5 196.7 L156 300" stroke="#222" stroke-width="1"/>
  <!-- interior components -->
  <rect x="96.5" y="207" width="24" height="62" fill="#777" opacity="0.35"/>
  <circle cx="108" cy="222" r="8" fill="#d0d0d0" opacity="0.55"/>
  <circle cx="108" cy="222" r="5.5" fill="#6a6a6a" opacity="0.8"/>
  <circle cx="108" cy="222" r="2.5" fill="#bbb" opacity="0.7"/>
  <rect x="101" y="210" width="14" height="2" fill="#ddd" opacity="0.6"/>
  <rect x="116.5" y="213" width="4" height="29" fill="#e8e8e8" opacity="0.85"/>
  <g fill="#d8d8d8" opacity="0.75">
    <rect x="96" y="244" width="5" height="1.3"/><rect x="96" y="248" width="5" height="1.3"/><rect x="96" y="252" width="5" height="1.3"/><rect x="96" y="256" width="5" height="1.3"/><rect x="96" y="260" width="5" height="1.3"/><rect x="96" y="264" width="5" height="1.3"/>
    <rect x="107" y="244" width="14" height="1.3"/><rect x="107" y="248" width="14" height="1.3"/><rect x="107" y="252" width="14" height="1.3"/><rect x="107" y="256" width="14" height="1.3"/><rect x="107" y="260" width="14" height="1.3"/><rect x="107" y="264" width="14" height="1.3"/>
  </g>
  <circle cx="178" cy="264.7" r="2.2" fill="#bdbdbd"/>
  <circle cx="98" cy="207" r="0.9" fill="#111"/><circle cx="153" cy="200" r="0.9" fill="#111"/>
</svg>
<div class="lbl" style="left:89.52px;top:308.34px;font-size:12.35px;color:#222;transform:scaleX(0.991)">Desktop Computer</div>

<!-- Laptop -->
<svg width="600" height="600" viewBox="0 0 600 600">
  <defs>
    <linearGradient id="win" x1="0" y1="0" x2="1" y2="0">
      <stop offset="0" stop-color="#0a1a3a"/><stop offset="0.45" stop-color="#0b3f86"/><stop offset="1" stop-color="#0a2a60"/>
    </linearGradient>
  </defs>
  <ellipse cx="142" cy="420" rx="48" ry="3" fill="#000" opacity="0.2" filter="url(#cb)"/>
  <rect x="107.5" y="361" width="70" height="45" rx="1.5" fill="#1a1a1a"/>
  <rect x="110" y="363.7" width="65" height="35" fill="url(#win)"/>
  <ellipse cx="158" cy="378" rx="16" ry="12" fill="#2a8ae0" opacity="0.6" filter="url(#cb)"/>
  <rect x="110" y="363.7" width="14" height="35" fill="#161a22"/>
  <g fill="#aa6a40"><rect x="113" y="368" width="2" height="2"/><rect x="113" y="374" width="2" height="2"/><rect x="113" y="380" width="2" height="2"/><rect x="113" y="386" width="2" height="2"/></g>
  <rect x="124" y="364" width="16.5" height="34" fill="#1e62a8"/>
  <rect x="125.5" y="366" width="6.5" height="6" fill="#3a9ae0"/><rect x="133" y="366" width="6.5" height="6" fill="#2a8ad8"/>
  <rect x="125.5" y="373" width="6.5" height="6" fill="#d88a50"/><rect x="133" y="373" width="6.5" height="6" fill="#c84a3a"/>
  <rect x="125.5" y="380" width="14" height="5" fill="#3a90d8"/>
  <rect x="125.5" y="386" width="6.5" height="5" fill="#3aa050"/><rect x="133" y="386" width="6.5" height="5" fill="#5aaae0"/>
  <rect x="125.5" y="392" width="14" height="4.5" fill="#e0e8f0" opacity="0.8"/>
  <path d="M147 372 L158 370 L158 378.5 L147 378.5 Z M147 380 L158 380 L158 388.5 L147 386.5 Z M159.5 369.7 L171 367.5 L171 378.5 L159.5 378.5 Z M159.5 380 L171 380 L171 391 L159.5 388.8 Z" fill="#6ac0f8" opacity="0.9"/>
  <path d="M104 405 L181 405 L189.5 417 Q190 421 186 421 L99 421 Q95 421 95.5 417 Z" fill="#1d1d1d"/>
  <path d="M106 407 L179 407 L184 414.5 L101 414.5 Z" fill="#151515"/>
  <g stroke="#252525" stroke-width="0.6"><path d="M105 409.5 H180.5 M103.5 412 H182"/></g>
  <path d="M96 419.5 H189" stroke="#333" stroke-width="0.8"/>
</svg>
<div class="lbl" style="left:120.71px;top:429.39px;font-size:11.7px;color:#222;transform:scaleX(1.054)">Laptop</div>


<!-- dashed lines -->
<svg width="600" height="600" viewBox="0 0 600 600">
  <g stroke="#555" stroke-width="1.5" stroke-dasharray="5.5 4.5" fill="none">
    <path d="M201 242.5 H289"/>
    <path d="M198 384.7 H273"/>
  </g>
  <g stroke="#520a10" stroke-width="1.7" stroke-dasharray="4 3.5" fill="none">
    <path d="M311.5 242.2 H335.5 V384 H325.5"/>
    <path d="M335.5 309.3 H379"/>
    <path d="M375.5 168 H366 V415.3 H381"/>
  </g>
</svg>

<!-- logo -->
<svg width="600" height="600" viewBox="0 0 600 600">
  <g fill="#1b2442">
    <path fill-rule="evenodd" d="M45.5 76 H57 C64 76 67.8 80.5 67.8 85.75 C67.8 91 64 95.5 57 95.5 H45.5 Z M51 81.2 H56.5 C60.5 81.2 62.3 83.3 62.3 85.75 C62.3 88.2 60.5 90.3 56.5 90.3 H51 Z"/>
    <path d="M67 76 H73 L78 82 L83 76 H89 L80.7 86.5 V95.5 H75.4 V86.5 Z"/>
    <path d="M91 95.5 V76 H96.5 L108 87.5 V76 H113.3 V95.5 H107.8 L96.3 84 V95.5 Z"/>
    <path d="M145.6 95.5 L148.3 76 H154.3 L159.4 86.5 L164.5 76 H170.5 L173.1 95.5 H167.8 L166.3 83.5 L161.8 92.5 H157 L152.5 83.5 L151 95.5 Z"/>
    <rect x="175.8" y="76" width="5.3" height="19.5"/>
    <path d="M182.5 76 H189 L194.5 81.8 L200 76 H206.5 L197.8 85.75 L206.5 95.5 H200 L194.5 89.7 L189 95.5 H182.5 L191.2 85.75 Z"/>
    <rect x="126.3" y="89.6" width="5.8" height="5.9" rx="1"/>
    <rect x="207.8" y="76.3" width="2.8" height="0.8"/><rect x="208.8" y="76.3" width="0.8" height="2.5"/>
    <path d="M211 78.8 V76.3 L212.2 77.6 L213.4 76.3 V78.8" stroke="#1b2442" stroke-width="0.7" fill="none"/>
  </g>
  <path d="M114.4 95.5 L124.3 77.8 Q125.3 76 127.5 76 H131.3 Q133.5 76 134.5 77.8 L144.4 95.5 H138.4 L130.8 81.3 H128 L120.4 95.5 Z" fill="#d9323f"/>
</svg>

<!-- ports & arrow -->
<svg width="600" height="600" viewBox="0 0 600 600">
  <g>
    <path d="M79.5 531 H165.5 V554 H86.5 L79.5 547 Z" fill="#d4d4d4" stroke="#4e4e4e" stroke-width="2" stroke-linejoin="round"/>
    <path d="M89.5 549 V540.3 H157.5 V549 H154.5 V543.5 H92.5 V549 Z" fill="#111"/>
    <rect x="98.0" y="536.3" width="3.2" height="3.8" fill="#a8935c" stroke="#5a4a2a" stroke-width="0.5"/><rect x="103.8" y="536.3" width="3.2" height="3.8" fill="#a8935c" stroke="#5a4a2a" stroke-width="0.5"/><rect x="109.6" y="536.3" width="3.2" height="3.8" fill="#a8935c" stroke="#5a4a2a" stroke-width="0.5"/><rect x="115.4" y="536.3" width="3.2" height="3.8" fill="#a8935c" stroke="#5a4a2a" stroke-width="0.5"/><rect x="121.2" y="536.3" width="3.2" height="3.8" fill="#a8935c" stroke="#5a4a2a" stroke-width="0.5"/><rect x="127.0" y="536.3" width="3.2" height="3.8" fill="#a8935c" stroke="#5a4a2a" stroke-width="0.5"/><rect x="132.8" y="536.3" width="3.2" height="3.8" fill="#a8935c" stroke="#5a4a2a" stroke-width="0.5"/><rect x="138.6" y="536.3" width="3.2" height="3.8" fill="#a8935c" stroke="#5a4a2a" stroke-width="0.5"/><rect x="144.4" y="536.3" width="3.2" height="3.8" fill="#a8935c" stroke="#5a4a2a" stroke-width="0.5"/><rect x="150.2" y="536.3" width="3.2" height="3.8" fill="#a8935c" stroke="#5a4a2a" stroke-width="0.5"/><rect x="98.0" y="543.6" width="3.2" height="3.8" fill="#a8935c" stroke="#5a4a2a" stroke-width="0.5"/><rect x="103.8" y="543.6" width="3.2" height="3.8" fill="#a8935c" stroke="#5a4a2a" stroke-width="0.5"/><rect x="109.6" y="543.6" width="3.2" height="3.8" fill="#a8935c" stroke="#5a4a2a" stroke-width="0.5"/><rect x="115.4" y="543.6" width="3.2" height="3.8" fill="#a8935c" stroke="#5a4a2a" stroke-width="0.5"/><rect x="121.2" y="543.6" width="3.2" height="3.8" fill="#a8935c" stroke="#5a4a2a" stroke-width="0.5"/><rect x="127.0" y="543.6" width="3.2" height="3.8" fill="#a8935c" stroke="#5a4a2a" stroke-width="0.5"/><rect x="132.8" y="543.6" width="3.2" height="3.8" fill="#a8935c" stroke="#5a4a2a" stroke-width="0.5"/><rect x="138.6" y="543.6" width="3.2" height="3.8" fill="#a8935c" stroke="#5a4a2a" stroke-width="0.5"/><rect x="144.4" y="543.6" width="3.2" height="3.8" fill="#a8935c" stroke="#5a4a2a" stroke-width="0.5"/><rect x="150.2" y="543.6" width="3.2" height="3.8" fill="#a8935c" stroke="#5a4a2a" stroke-width="0.5"/>
    <rect x="102.5" y="532" width="4" height="1.2" fill="#666"/><rect x="139.5" y="532" width="4" height="1.2" fill="#666"/>
    <rect x="112.5" y="551.8" width="4" height="1.2" fill="#666"/><rect x="145.5" y="551.8" width="4" height="1.2" fill="#666"/>
  </g>
  <g>
    <path d="M439.5 530.8 H525.5 V553.8 H446.5 L439.5 546.8 Z" fill="#d4d4d4" stroke="#4e4e4e" stroke-width="2" stroke-linejoin="round"/>
    <path d="M449.5 548.8 V540.0999999999999 H517.5 V548.8 H514.5 V543.3 H452.5 V548.8 Z" fill="#111"/>
    <rect x="458.0" y="536.0999999999999" width="3.2" height="3.8" fill="#a8935c" stroke="#5a4a2a" stroke-width="0.5"/><rect x="463.8" y="536.0999999999999" width="3.2" height="3.8" fill="#a8935c" stroke="#5a4a2a" stroke-width="0.5"/><rect x="469.6" y="536.0999999999999" width="3.2" height="3.8" fill="#a8935c" stroke="#5a4a2a" stroke-width="0.5"/><rect x="475.4" y="536.0999999999999" width="3.2" height="3.8" fill="#a8935c" stroke="#5a4a2a" stroke-width="0.5"/><rect x="481.2" y="536.0999999999999" width="3.2" height="3.8" fill="#a8935c" stroke="#5a4a2a" stroke-width="0.5"/><rect x="487.0" y="536.0999999999999" width="3.2" height="3.8" fill="#a8935c" stroke="#5a4a2a" stroke-width="0.5"/><rect x="492.8" y="536.0999999999999" width="3.2" height="3.8" fill="#a8935c" stroke="#5a4a2a" stroke-width="0.5"/><rect x="498.6" y="536.0999999999999" width="3.2" height="3.8" fill="#a8935c" stroke="#5a4a2a" stroke-width="0.5"/><rect x="504.4" y="536.0999999999999" width="3.2" height="3.8" fill="#a8935c" stroke="#5a4a2a" stroke-width="0.5"/><rect x="510.2" y="536.0999999999999" width="3.2" height="3.8" fill="#a8935c" stroke="#5a4a2a" stroke-width="0.5"/><rect x="458.0" y="543.4" width="3.2" height="3.8" fill="#a8935c" stroke="#5a4a2a" stroke-width="0.5"/><rect x="463.8" y="543.4" width="3.2" height="3.8" fill="#a8935c" stroke="#5a4a2a" stroke-width="0.5"/><rect x="469.6" y="543.4" width="3.2" height="3.8" fill="#a8935c" stroke="#5a4a2a" stroke-width="0.5"/><rect x="475.4" y="543.4" width="3.2" height="3.8" fill="#a8935c" stroke="#5a4a2a" stroke-width="0.5"/><rect x="481.2" y="543.4" width="3.2" height="3.8" fill="#a8935c" stroke="#5a4a2a" stroke-width="0.5"/><rect x="487.0" y="543.4" width="3.2" height="3.8" fill="#a8935c" stroke="#5a4a2a" stroke-width="0.5"/><rect x="492.8" y="543.4" width="3.2" height="3.8" fill="#a8935c" stroke="#5a4a2a" stroke-width="0.5"/><rect x="498.6" y="543.4" width="3.2" height="3.8" fill="#a8935c" stroke="#5a4a2a" stroke-width="0.5"/><rect x="504.4" y="543.4" width="3.2" height="3.8" fill="#a8935c" stroke="#5a4a2a" stroke-width="0.5"/><rect x="510.2" y="543.4" width="3.2" height="3.8" fill="#a8935c" stroke="#5a4a2a" stroke-width="0.5"/>
    <rect x="462.5" y="531.8" width="4" height="1.2" fill="#666"/><rect x="499.5" y="531.8" width="4" height="1.2" fill="#666"/>
    <rect x="472.5" y="551.5999999999999" width="4" height="1.2" fill="#666"/><rect x="505.5" y="551.5999999999999" width="4" height="1.2" fill="#666"/>
  </g>
  <path d="M256 551 H321 V538.4 L343 557.7 L321 577 V564 H256 Z" fill="#d42b35"/>
</svg>

<!-- bottom band -->
<div class="lbl" style="left:54.31px;top:562.23px;font-size:17.44px;color:#555;transform:scaleX(0.95)">Input: DisplayPort</div>
<div class="lbl" style="left:414.27px;top:562.73px;font-size:17.44px;color:#555;transform:scaleX(0.931)">Output: DisplayPort</div>

</body></html>
